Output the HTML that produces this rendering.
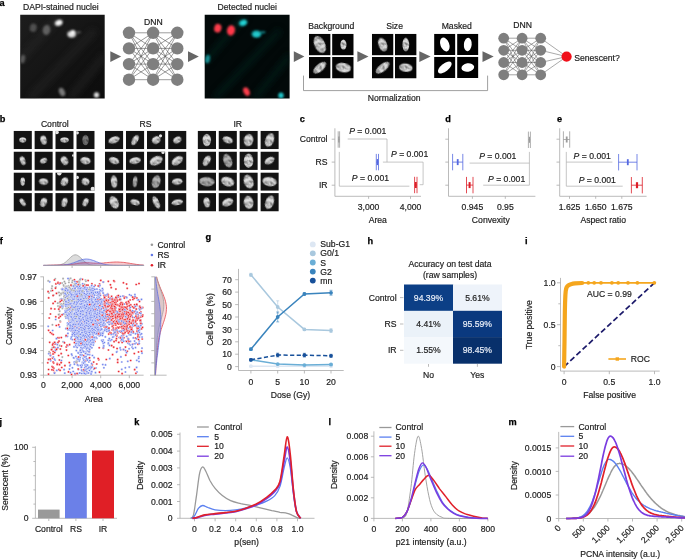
<!DOCTYPE html>
<html><head><meta charset="utf-8"><title>Figure</title>
<style>
html,body{margin:0;padding:0;background:#fff}
svg{display:block}
text{font-family:"Liberation Sans",sans-serif;font-size:8.65px;fill:#1c1c1c;stroke:#1c1c1c;stroke-width:.18px}
.pl{font-weight:bold;font-size:9.2px;fill:#000;stroke:#000;stroke-width:.25px}
.ax{stroke:#aaa;stroke-width:.8;fill:none}
.br{stroke:#adadad;stroke-width:.7;fill:none}
.roc{stroke:#f5a61d;stroke-width:1.6}
.sg circle{r:1.1px;fill:#9c9c9c;stroke:#fff;stroke-width:.4}
.sb circle{r:1.1px;fill:#6f82ec;stroke:#fff;stroke-width:.4}
.sr circle{r:1.1px;fill:#ea2029;stroke:#fff;stroke-width:.4}
</style></head><body>
<svg width="685" height="560" viewBox="0 0 685 560">
<defs>
<filter id="bl1" x="-50%" y="-50%" width="200%" height="200%"><feGaussianBlur stdDeviation="0.9"/></filter>
<filter id="bl0" x="-30%" y="-30%" width="160%" height="160%"><feGaussianBlur stdDeviation="0.55"/></filter>
<filter id="bl2" x="-50%" y="-50%" width="200%" height="200%"><feGaussianBlur stdDeviation="3"/></filter>
<filter id="tx" x="-30%" y="-30%" width="160%" height="160%" color-interpolation-filters="sRGB"><feTurbulence type="fractalNoise" baseFrequency="0.32" numOctaves="2" seed="5" result="n"/><feColorMatrix in="n" type="matrix" values="1.0 0 0 0 0.36 1.0 0 0 0 0.36 1.0 0 0 0 0.36 0 0 0 0 1" result="g"/><feComposite in="SourceGraphic" in2="g" operator="arithmetic" k1="1" k2="0" k3="0" k4="0"/><feGaussianBlur stdDeviation="0.5"/></filter>
<linearGradient id="dbg" x1="0" y1="0" x2="1" y2="1"><stop offset="0" stop-color="#1d1d1d"/><stop offset="1" stop-color="#0c0c0c"/></linearGradient>
<radialGradient id="nuc"><stop offset="0" stop-color="#e6e6e6"/><stop offset="0.8" stop-color="#d6d6d6"/><stop offset="1" stop-color="#a0a0a0"/></radialGradient>
</defs>
<rect width="685" height="560" fill="#fff"/>
<text x="-0.5" y="5.5" class="pl">a</text>
<text x="-0.3" y="122.3" class="pl">b</text>
<text x="299.7" y="121.6" class="pl">c</text>
<text x="445.2" y="121.6" class="pl">d</text>
<text x="557" y="121.6" class="pl">e</text>
<text x="-0.3" y="244" class="pl">f</text>
<text x="205.5" y="240" class="pl">g</text>
<text x="367.5" y="244" class="pl">h</text>
<text x="525" y="244.4" class="pl">i</text>
<text x="-0.5" y="424.5" class="pl">j</text>
<text x="134.3" y="424.5" class="pl">k</text>
<text x="328.5" y="424.8" class="pl">l</text>
<text x="508.6" y="424.8" class="pl">m</text>
<text x="60.8" y="10.4" text-anchor="middle">DAPI-stained nuclei</text>
<svg x="20.2" y="14.8" width="84.5" height="83.6" viewBox="20.2 14.8 84.5 83.6">
<rect x="20" y="14" width="86" height="86" fill="url(#dbg)"/>
<g filter="url(#bl2)" opacity="0.5"><path d="M20 60L60 15M30 98L95 30M70 98L105 55" stroke="#2a2a2a" stroke-width="7" fill="none"/></g>
<g filter="url(#bl1)">
<ellipse cx="33.3" cy="27.8" rx="3.4" ry="4.2" fill="#505050" transform="rotate(15 33.3 27.8)"/>
<ellipse cx="46.5" cy="30" rx="3.8" ry="5" fill="#606060" transform="rotate(10 46.5 30)"/>
<ellipse cx="58.5" cy="22.8" rx="5" ry="3.6" fill="#444" transform="rotate(-20 58.5 22.8)"/>
<ellipse cx="58.8" cy="22.8" rx="3.4" ry="2.5" fill="#f8f8f8" transform="rotate(-20 58.8 22.8)"/>
<ellipse cx="72" cy="34" rx="5.5" ry="4" fill="#444"/>
<ellipse cx="71.5" cy="34.4" rx="3.6" ry="2.8" fill="#e0e0e0"/>
<ellipse cx="73" cy="32" rx="1.9" ry="1.9" fill="#fff"/>
<ellipse cx="78.5" cy="32.3" rx="2.8" ry="1.1" fill="#5a5a5a"/>
<ellipse cx="22.7" cy="59" rx="2.4" ry="4.4" fill="#585858" transform="rotate(10 22.7 59)"/>
<ellipse cx="62" cy="92" rx="2.8" ry="4.4" fill="#7a7a7a" transform="rotate(-25 62 92)"/>
<ellipse cx="96.5" cy="95" rx="2.6" ry="2.8" fill="#e0e0e0"/>
</g></svg>
<path d="M110.3 51.2 L121.2 56.6 L110.3 62 Z" fill="#666"/>
<text x="153.3" y="25" text-anchor="middle">DNN</text>
<path d="M129 32.8L153.1 32.8M129 32.8L153.1 48.4M129 32.8L153.1 64.1M129 32.8L153.1 79.7M129 48.4L153.1 32.8M129 48.4L153.1 48.4M129 48.4L153.1 64.1M129 48.4L153.1 79.7M129 64.1L153.1 32.8M129 64.1L153.1 48.4M129 64.1L153.1 64.1M129 64.1L153.1 79.7M129 79.7L153.1 32.8M129 79.7L153.1 48.4M129 79.7L153.1 64.1M129 79.7L153.1 79.7M153.1 32.8L177.3 32.8M153.1 32.8L177.3 48.4M153.1 32.8L177.3 64.1M153.1 32.8L177.3 79.7M153.1 48.4L177.3 32.8M153.1 48.4L177.3 48.4M153.1 48.4L177.3 64.1M153.1 48.4L177.3 79.7M153.1 64.1L177.3 32.8M153.1 64.1L177.3 48.4M153.1 64.1L177.3 64.1M153.1 64.1L177.3 79.7M153.1 79.7L177.3 32.8M153.1 79.7L177.3 48.4M153.1 79.7L177.3 64.1M153.1 79.7L177.3 79.7" stroke="#4a4a4a" stroke-width="0.55" fill="none"/>
<circle cx="129" cy="32.8" r="6.2" fill="#7f7f7f"/>
<circle cx="129" cy="48.4" r="6.2" fill="#7f7f7f"/>
<circle cx="129" cy="64.1" r="6.2" fill="#7f7f7f"/>
<circle cx="129" cy="79.7" r="6.2" fill="#7f7f7f"/>
<circle cx="153.1" cy="32.8" r="6.2" fill="#7f7f7f"/>
<circle cx="153.1" cy="48.4" r="6.2" fill="#7f7f7f"/>
<circle cx="153.1" cy="64.1" r="6.2" fill="#7f7f7f"/>
<circle cx="153.1" cy="79.7" r="6.2" fill="#7f7f7f"/>
<circle cx="177.3" cy="32.8" r="6.2" fill="#7f7f7f"/>
<circle cx="177.3" cy="48.4" r="6.2" fill="#7f7f7f"/>
<circle cx="177.3" cy="64.1" r="6.2" fill="#7f7f7f"/>
<circle cx="177.3" cy="79.7" r="6.2" fill="#7f7f7f"/>
<path d="M188 51.2 L198.8 56.6 L188 62 Z" fill="#666"/>
<text x="247.2" y="10.4" text-anchor="middle">Detected nuclei</text>
<svg x="204.7" y="14.8" width="84.9" height="83.6" viewBox="204.7 14.8 84.9 83.6">
<rect x="204" y="14" width="87" height="86" fill="#020909"/>
<g filter="url(#bl2)" opacity="0.6"><path d="M205 62L245 15M215 98L280 30M255 98L290 55" stroke="#06201f" stroke-width="7" fill="none"/></g>
<g filter="url(#bl1)">
<ellipse cx="217.8" cy="28.2" rx="3.6" ry="4.4" fill="#fa3e4c" transform="rotate(15 217.8 28.2)"/>
<ellipse cx="231" cy="30.4" rx="4" ry="5.3" fill="#ff384a" transform="rotate(10 231 30.4)"/>
<ellipse cx="243" cy="22.8" rx="5" ry="3.6" fill="#0c5a5c" transform="rotate(-20 243 22.8)"/>
<ellipse cx="243.3" cy="22.8" rx="3.4" ry="2.5" fill="#24d4d6" transform="rotate(-20 243.3 22.8)"/>
<ellipse cx="256.5" cy="34" rx="5.5" ry="4" fill="#0c5a5c"/>
<ellipse cx="256.5" cy="34.2" rx="3.8" ry="2.9" fill="#20c8cc"/>
<ellipse cx="263" cy="32.3" rx="2.8" ry="1.1" fill="#118a8e"/>
<ellipse cx="207.6" cy="59" rx="2.4" ry="4.3" fill="#128e92" transform="rotate(10 207.6 59)"/>
<ellipse cx="246.5" cy="91.6" rx="3" ry="4.6" fill="#fa3e4c" transform="rotate(-25 246.5 91.6)"/>
<ellipse cx="281" cy="95.5" rx="2.7" ry="2.9" fill="#20c6ca"/>
</g></svg>
<path d="M293.8 51.2 L304.4 56.6 L293.8 62 Z" fill="#666"/>
<text x="331.3" y="29.1" text-anchor="middle">Background</text>
<svg x="309" y="33.8" width="21.6" height="21.6">
<rect width="21.6" height="21.6" fill="#050505"/>
<ellipse cx="10.8" cy="10.8" rx="5.4" ry="9.2" fill="url(#nuc)" transform="rotate(-25 10.8 10.8)" filter="url(#tx)"/>
</svg>
<svg x="332.1" y="33.8" width="21.6" height="21.6">
<rect width="21.6" height="21.6" fill="#050505"/>
<ellipse cx="11.3" cy="10.8" rx="3.2" ry="5.2" fill="url(#nuc)" transform="rotate(0 11.3 10.8)" filter="url(#tx)"/>
</svg>
<svg x="309" y="56.9" width="21.6" height="21.6">
<rect width="21.6" height="21.6" fill="#050505"/>
<ellipse cx="10.8" cy="10.8" rx="3.8" ry="8" fill="url(#nuc)" transform="rotate(50 10.8 10.8)" filter="url(#tx)"/>
</svg>
<svg x="332.1" y="56.9" width="21.6" height="21.6">
<rect width="21.6" height="21.6" fill="#050505"/>
<ellipse cx="11.3" cy="10.8" rx="7.8" ry="4.9" fill="url(#nuc)" transform="rotate(10 11.3 10.8)" filter="url(#tx)"/>
</svg>
<path d="M357.4 51.2 L368.5 56.6 L357.4 62 Z" fill="#666"/>
<text x="394.6" y="29.1" text-anchor="middle">Size</text>
<svg x="371.9" y="33.8" width="21.6" height="21.6">
<rect width="21.6" height="21.6" fill="#050505"/>
<ellipse cx="10.8" cy="10.8" rx="4.3" ry="7.2" fill="url(#nuc)" transform="rotate(-20 10.8 10.8)" filter="url(#tx)"/>
</svg>
<svg x="395" y="33.8" width="21.6" height="21.6">
<rect width="21.6" height="21.6" fill="#050505"/>
<ellipse cx="10.8" cy="10.8" rx="3.5" ry="7" fill="url(#nuc)" transform="rotate(0 10.8 10.8)" filter="url(#tx)"/>
</svg>
<svg x="371.9" y="56.9" width="21.6" height="21.6">
<rect width="21.6" height="21.6" fill="#050505"/>
<ellipse cx="10.8" cy="10.8" rx="3.8" ry="8.4" fill="url(#nuc)" transform="rotate(52 10.8 10.8)" filter="url(#tx)"/>
</svg>
<svg x="395" y="56.9" width="21.6" height="21.6">
<rect width="21.6" height="21.6" fill="#050505"/>
<ellipse cx="10.8" cy="10.8" rx="6.9" ry="4.3" fill="url(#nuc)" transform="rotate(6 10.8 10.8)" filter="url(#tx)"/>
</svg>
<path d="M419.3 51.2 L430.6 56.6 L419.3 62 Z" fill="#666"/>
<text x="456.8" y="29.1" text-anchor="middle">Masked</text>
<svg x="434.1" y="33.8" width="21.3" height="21.3">
<rect width="21.3" height="21.3" fill="#000"/>
<ellipse cx="10.7" cy="10.7" rx="4.4" ry="7.2" fill="#fff" transform="rotate(-20 10.7 10.7)"/>
</svg>
<svg x="457.1" y="33.8" width="21.3" height="21.3">
<rect width="21.3" height="21.3" fill="#000"/>
<ellipse cx="10.7" cy="10.7" rx="3.9" ry="6.8" fill="#fff" transform="rotate(5 10.7 10.7)"/>
</svg>
<svg x="434.1" y="56.8" width="21.3" height="21.3">
<rect width="21.3" height="21.3" fill="#000"/>
<ellipse cx="10.7" cy="10.7" rx="3.9" ry="8.2" fill="#fff" transform="rotate(52 10.7 10.7)"/>
</svg>
<svg x="457.1" y="56.8" width="21.3" height="21.3">
<rect width="21.3" height="21.3" fill="#000"/>
<ellipse cx="10.7" cy="10.7" rx="6.4" ry="4.2" fill="#fff" transform="rotate(-8 10.7 10.7)"/>
</svg>
<path d="M482.5 51.2 L493.7 56.6 L482.5 62 Z" fill="#666"/>
<path d="M303.5 75.6V90.6H487.6V75.6" stroke="#888" stroke-width="0.8" fill="none"/>
<text x="394.2" y="101.3" text-anchor="middle">Normalization</text>
<text x="522.6" y="28.4" text-anchor="middle">DNN</text>
<path d="M540.7 38.2L566.6 56.6M540.7 50.3L566.6 56.6M540.7 62.5L566.6 56.6M540.7 74.8L566.6 56.6" stroke="#555" stroke-width="0.5" fill="none"/>
<path d="M503.7 38.2L522.1 38.2M503.7 38.2L522.1 50.3M503.7 38.2L522.1 62.5M503.7 38.2L522.1 74.8M503.7 50.3L522.1 38.2M503.7 50.3L522.1 50.3M503.7 50.3L522.1 62.5M503.7 50.3L522.1 74.8M503.7 62.5L522.1 38.2M503.7 62.5L522.1 50.3M503.7 62.5L522.1 62.5M503.7 62.5L522.1 74.8M503.7 74.8L522.1 38.2M503.7 74.8L522.1 50.3M503.7 74.8L522.1 62.5M503.7 74.8L522.1 74.8M522.1 38.2L540.7 38.2M522.1 38.2L540.7 50.3M522.1 38.2L540.7 62.5M522.1 38.2L540.7 74.8M522.1 50.3L540.7 38.2M522.1 50.3L540.7 50.3M522.1 50.3L540.7 62.5M522.1 50.3L540.7 74.8M522.1 62.5L540.7 38.2M522.1 62.5L540.7 50.3M522.1 62.5L540.7 62.5M522.1 62.5L540.7 74.8M522.1 74.8L540.7 38.2M522.1 74.8L540.7 50.3M522.1 74.8L540.7 62.5M522.1 74.8L540.7 74.8" stroke="#4a4a4a" stroke-width="0.5" fill="none"/>
<circle cx="503.7" cy="38.2" r="5.4" fill="#7f7f7f"/>
<circle cx="503.7" cy="50.3" r="5.4" fill="#7f7f7f"/>
<circle cx="503.7" cy="62.5" r="5.4" fill="#7f7f7f"/>
<circle cx="503.7" cy="74.8" r="5.4" fill="#7f7f7f"/>
<circle cx="522.1" cy="38.2" r="5.4" fill="#7f7f7f"/>
<circle cx="522.1" cy="50.3" r="5.4" fill="#7f7f7f"/>
<circle cx="522.1" cy="62.5" r="5.4" fill="#7f7f7f"/>
<circle cx="522.1" cy="74.8" r="5.4" fill="#7f7f7f"/>
<circle cx="540.7" cy="38.2" r="5.4" fill="#7f7f7f"/>
<circle cx="540.7" cy="50.3" r="5.4" fill="#7f7f7f"/>
<circle cx="540.7" cy="62.5" r="5.4" fill="#7f7f7f"/>
<circle cx="540.7" cy="74.8" r="5.4" fill="#7f7f7f"/>
<circle cx="566.6" cy="56.6" r="5.1" fill="#f0101a"/>
<text x="574.2" y="60.7">Senescent?</text>
<text x="54.8" y="126.6" text-anchor="middle">Control</text>
<svg x="13.5" y="130.8" width="18.4" height="18.4">
<rect width="18.4" height="18.4" fill="#131313"/>
<ellipse cx="9.2" cy="9.2" rx="3.6" ry="2.8" fill="url(#nuc)" transform="rotate(0 9.2 9.2)" filter="url(#tx)"/>
</svg>
<svg x="34.4" y="130.8" width="18.4" height="18.4">
<rect width="18.4" height="18.4" fill="#131313"/>
<ellipse cx="9.2" cy="9.2" rx="3.2" ry="4.8" fill="url(#nuc)" transform="rotate(-15 9.2 9.2)" filter="url(#tx)"/>
</svg>
<svg x="55.3" y="130.8" width="18.4" height="18.4">
<rect width="18.4" height="18.4" fill="#131313"/>
<ellipse cx="9.2" cy="9.2" rx="4.4" ry="2.8" fill="url(#nuc)" transform="rotate(0 9.2 9.2)" filter="url(#tx)"/>
<circle cx="1.5" cy="1.5" r="2" fill="#e4e4e4" filter="url(#bl0)"/>
</svg>
<svg x="76.3" y="130.8" width="18.4" height="18.4">
<rect width="18.4" height="18.4" fill="#131313"/>
<ellipse cx="9.2" cy="9.2" rx="3.3" ry="5.2" fill="url(#nuc)" transform="rotate(0 9.2 9.2)" filter="url(#tx)" opacity="0.5"/>
<circle cx="1" cy="2" r="1.6" fill="#e4e4e4" filter="url(#bl0)"/>
</svg>
<svg x="13.5" y="151.5" width="18.4" height="18.4">
<rect width="18.4" height="18.4" fill="#131313"/>
<ellipse cx="9.2" cy="9.2" rx="2.7" ry="4.6" fill="url(#nuc)" transform="rotate(-20 9.2 9.2)" filter="url(#tx)"/>
</svg>
<svg x="34.4" y="151.5" width="18.4" height="18.4">
<rect width="18.4" height="18.4" fill="#131313"/>
<ellipse cx="9.2" cy="9.2" rx="3.7" ry="2.7" fill="url(#nuc)" transform="rotate(-25 9.2 9.2)" filter="url(#tx)"/>
</svg>
<svg x="55.3" y="151.5" width="18.4" height="18.4">
<rect width="18.4" height="18.4" fill="#131313"/>
<ellipse cx="9.2" cy="9.2" rx="3.5" ry="4.6" fill="url(#nuc)" transform="rotate(-30 9.2 9.2)" filter="url(#tx)"/>
<circle cx="18" cy="4" r="1.3" fill="#e4e4e4" filter="url(#bl0)"/>
</svg>
<svg x="76.3" y="151.5" width="18.4" height="18.4">
<rect width="18.4" height="18.4" fill="#131313"/>
<ellipse cx="9.2" cy="9.2" rx="5.2" ry="3.7" fill="url(#nuc)" transform="rotate(10 9.2 9.2)" filter="url(#tx)"/>
</svg>
<svg x="13.5" y="172.4" width="18.4" height="18.4">
<rect width="18.4" height="18.4" fill="#131313"/>
<ellipse cx="9.2" cy="9.2" rx="2.4" ry="4.4" fill="url(#nuc)" transform="rotate(0 9.2 9.2)" filter="url(#tx)"/>
</svg>
<svg x="34.4" y="172.4" width="18.4" height="18.4">
<rect width="18.4" height="18.4" fill="#131313"/>
<ellipse cx="9.2" cy="9.2" rx="4.6" ry="3.3" fill="url(#nuc)" transform="rotate(5 9.2 9.2)" filter="url(#tx)"/>
</svg>
<svg x="55.3" y="172.4" width="18.4" height="18.4">
<rect width="18.4" height="18.4" fill="#131313"/>
<ellipse cx="9.2" cy="9.2" rx="3.6" ry="4.6" fill="url(#nuc)" transform="rotate(30 9.2 9.2)" filter="url(#tx)"/>
<circle cx="4" cy="0.8" r="2.2" fill="#e4e4e4" filter="url(#bl0)"/>
</svg>
<svg x="76.3" y="172.4" width="18.4" height="18.4">
<rect width="18.4" height="18.4" fill="#131313"/>
<ellipse cx="9.2" cy="9.2" rx="4" ry="3.6" fill="url(#nuc)" transform="rotate(25 9.2 9.2)" filter="url(#tx)"/>
<circle cx="1" cy="5" r="1.6" fill="#e4e4e4" filter="url(#bl0)"/>
<circle cx="16.5" cy="16.5" r="2.2" fill="#e4e4e4" filter="url(#bl0)"/>
</svg>
<svg x="13.5" y="193.1" width="18.4" height="18.4">
<rect width="18.4" height="18.4" fill="#131313"/>
<ellipse cx="9.2" cy="9.2" rx="2.3" ry="4.4" fill="url(#nuc)" transform="rotate(-35 9.2 9.2)" filter="url(#tx)"/>
</svg>
<svg x="34.4" y="193.1" width="18.4" height="18.4">
<rect width="18.4" height="18.4" fill="#131313"/>
<ellipse cx="9.2" cy="9.2" rx="3.3" ry="4.8" fill="url(#nuc)" transform="rotate(20 9.2 9.2)" filter="url(#tx)"/>
</svg>
<svg x="55.3" y="193.1" width="18.4" height="18.4">
<rect width="18.4" height="18.4" fill="#131313"/>
<ellipse cx="9.2" cy="9.2" rx="2.9" ry="4.8" fill="url(#nuc)" transform="rotate(15 9.2 9.2)" filter="url(#tx)"/>
</svg>
<svg x="76.3" y="193.1" width="18.4" height="18.4">
<rect width="18.4" height="18.4" fill="#131313"/>
<ellipse cx="9.2" cy="9.2" rx="2.7" ry="4.4" fill="url(#nuc)" transform="rotate(25 9.2 9.2)" filter="url(#tx)"/>
</svg>
<text x="145.5" y="126.6" text-anchor="middle">RS</text>
<svg x="104.9" y="130.8" width="18.4" height="18.4">
<rect width="18.4" height="18.4" fill="#131313"/>
<ellipse cx="9.2" cy="9.2" rx="5.8" ry="3.4" fill="url(#nuc)" transform="rotate(-20 9.2 9.2)" filter="url(#tx)"/>
</svg>
<svg x="125.9" y="130.8" width="18.4" height="18.4">
<rect width="18.4" height="18.4" fill="#131313"/>
<ellipse cx="9.2" cy="9.2" rx="2.9" ry="5.8" fill="url(#nuc)" transform="rotate(30 9.2 9.2)" filter="url(#tx)"/>
</svg>
<svg x="147" y="130.8" width="18.4" height="18.4">
<rect width="18.4" height="18.4" fill="#131313"/>
<ellipse cx="9.2" cy="9.2" rx="4.4" ry="3.8" fill="url(#nuc)" transform="rotate(-30 9.2 9.2)" filter="url(#tx)"/>
<circle cx="13.5" cy="5" r="1.6" fill="#e4e4e4" filter="url(#bl0)"/>
</svg>
<svg x="168.1" y="130.8" width="18.4" height="18.4">
<rect width="18.4" height="18.4" fill="#131313"/>
<ellipse cx="9.2" cy="9.2" rx="4.3" ry="3.3" fill="url(#nuc)" transform="rotate(-30 9.2 9.2)" filter="url(#tx)"/>
</svg>
<svg x="104.9" y="151.5" width="18.4" height="18.4">
<rect width="18.4" height="18.4" fill="#131313"/>
<ellipse cx="9.2" cy="9.2" rx="5.3" ry="3.4" fill="url(#nuc)" transform="rotate(20 9.2 9.2)" filter="url(#tx)"/>
</svg>
<svg x="125.9" y="151.5" width="18.4" height="18.4">
<rect width="18.4" height="18.4" fill="#131313"/>
<ellipse cx="9.2" cy="9.2" rx="5.8" ry="3.4" fill="url(#nuc)" transform="rotate(-10 9.2 9.2)" filter="url(#tx)"/>
</svg>
<svg x="147" y="151.5" width="18.4" height="18.4">
<rect width="18.4" height="18.4" fill="#131313"/>
<ellipse cx="9.2" cy="9.2" rx="6.8" ry="4.4" fill="url(#nuc)" transform="rotate(-25 9.2 9.2)" filter="url(#tx)"/>
<circle cx="16" cy="1" r="1.6" fill="#e4e4e4" filter="url(#bl0)"/>
</svg>
<svg x="168.1" y="151.5" width="18.4" height="18.4">
<rect width="18.4" height="18.4" fill="#131313"/>
<ellipse cx="9.2" cy="9.2" rx="6.3" ry="3.9" fill="url(#nuc)" transform="rotate(-35 9.2 9.2)" filter="url(#tx)"/>
</svg>
<svg x="104.9" y="172.4" width="18.4" height="18.4">
<rect width="18.4" height="18.4" fill="#131313"/>
<ellipse cx="9.2" cy="9.2" rx="3.3" ry="6.4" fill="url(#nuc)" transform="rotate(-5 9.2 9.2)" filter="url(#tx)"/>
</svg>
<svg x="125.9" y="172.4" width="18.4" height="18.4">
<rect width="18.4" height="18.4" fill="#131313"/>
<ellipse cx="9.2" cy="9.2" rx="2.4" ry="5.8" fill="url(#nuc)" transform="rotate(5 9.2 9.2)" filter="url(#tx)" opacity="0.8"/>
</svg>
<svg x="147" y="172.4" width="18.4" height="18.4">
<rect width="18.4" height="18.4" fill="#131313"/>
<ellipse cx="9.2" cy="9.2" rx="4.3" ry="6.8" fill="url(#nuc)" transform="rotate(15 9.2 9.2)" filter="url(#tx)" opacity="0.8"/>
</svg>
<svg x="168.1" y="172.4" width="18.4" height="18.4">
<rect width="18.4" height="18.4" fill="#131313"/>
<ellipse cx="9.2" cy="9.2" rx="5.3" ry="3.3" fill="url(#nuc)" transform="rotate(-5 9.2 9.2)" filter="url(#tx)"/>
</svg>
<svg x="104.9" y="193.1" width="18.4" height="18.4">
<rect width="18.4" height="18.4" fill="#131313"/>
<ellipse cx="9.2" cy="9.2" rx="4.3" ry="6.8" fill="url(#nuc)" transform="rotate(-25 9.2 9.2)" filter="url(#tx)"/>
</svg>
<svg x="125.9" y="193.1" width="18.4" height="18.4">
<rect width="18.4" height="18.4" fill="#131313"/>
<ellipse cx="9.2" cy="9.2" rx="4.8" ry="2.9" fill="url(#nuc)" transform="rotate(15 9.2 9.2)" filter="url(#tx)"/>
</svg>
<svg x="147" y="193.1" width="18.4" height="18.4">
<rect width="18.4" height="18.4" fill="#131313"/>
<ellipse cx="9.2" cy="9.2" rx="2.9" ry="6.8" fill="url(#nuc)" transform="rotate(-25 9.2 9.2)" filter="url(#tx)"/>
</svg>
<svg x="168.1" y="193.1" width="18.4" height="18.4">
<rect width="18.4" height="18.4" fill="#131313"/>
<ellipse cx="9.2" cy="9.2" rx="5.8" ry="2.9" fill="url(#nuc)" transform="rotate(-10 9.2 9.2)" filter="url(#tx)"/>
</svg>
<text x="237.7" y="126.6" text-anchor="middle">IR</text>
<svg x="197.6" y="130.8" width="18.4" height="18.4">
<rect width="18.4" height="18.4" fill="#131313"/>
<ellipse cx="9.2" cy="9.2" rx="4.3" ry="6.3" fill="url(#nuc)" transform="rotate(0 9.2 9.2)" filter="url(#tx)"/>
</svg>
<svg x="218.5" y="130.8" width="18.4" height="18.4">
<rect width="18.4" height="18.4" fill="#131313"/>
<ellipse cx="9.2" cy="9.2" rx="5.3" ry="3.4" fill="url(#nuc)" transform="rotate(20 9.2 9.2)" filter="url(#tx)"/>
</svg>
<svg x="239.4" y="130.8" width="18.4" height="18.4">
<rect width="18.4" height="18.4" fill="#131313"/>
<ellipse cx="9.2" cy="9.2" rx="4.8" ry="6.3" fill="url(#nuc)" transform="rotate(10 9.2 9.2)" filter="url(#tx)"/>
</svg>
<svg x="260.4" y="130.8" width="18.4" height="18.4">
<rect width="18.4" height="18.4" fill="#131313"/>
<ellipse cx="9.2" cy="9.2" rx="4.4" ry="7.3" fill="url(#nuc)" transform="rotate(20 9.2 9.2)" filter="url(#tx)"/>
</svg>
<svg x="197.6" y="151.5" width="18.4" height="18.4">
<rect width="18.4" height="18.4" fill="#131313"/>
<ellipse cx="9.2" cy="9.2" rx="3.3" ry="5.8" fill="url(#nuc)" transform="rotate(30 9.2 9.2)" filter="url(#tx)"/>
</svg>
<svg x="218.5" y="151.5" width="18.4" height="18.4">
<rect width="18.4" height="18.4" fill="#131313"/>
<ellipse cx="9.2" cy="9.2" rx="4.3" ry="7.3" fill="url(#nuc)" transform="rotate(-20 9.2 9.2)" filter="url(#tx)" opacity="0.8"/>
</svg>
<svg x="239.4" y="151.5" width="18.4" height="18.4">
<rect width="18.4" height="18.4" fill="#131313"/>
<ellipse cx="9.2" cy="9.2" rx="4.8" ry="7.3" fill="url(#nuc)" transform="rotate(0 9.2 9.2)" filter="url(#tx)"/>
</svg>
<svg x="260.4" y="151.5" width="18.4" height="18.4">
<rect width="18.4" height="18.4" fill="#131313"/>
<ellipse cx="9.2" cy="9.2" rx="5.3" ry="3.4" fill="url(#nuc)" transform="rotate(-30 9.2 9.2)" filter="url(#tx)"/>
</svg>
<svg x="197.6" y="172.4" width="18.4" height="18.4">
<rect width="18.4" height="18.4" fill="#131313"/>
<ellipse cx="9.2" cy="9.2" rx="7.8" ry="4.8" fill="url(#nuc)" transform="rotate(5 9.2 9.2)" filter="url(#tx)" opacity="0.8"/>
</svg>
<svg x="218.5" y="172.4" width="18.4" height="18.4">
<rect width="18.4" height="18.4" fill="#131313"/>
<ellipse cx="9.2" cy="9.2" rx="6.8" ry="4.8" fill="url(#nuc)" transform="rotate(20 9.2 9.2)" filter="url(#tx)"/>
</svg>
<svg x="239.4" y="172.4" width="18.4" height="18.4">
<rect width="18.4" height="18.4" fill="#131313"/>
<ellipse cx="9.2" cy="9.2" rx="4.8" ry="7.3" fill="url(#nuc)" transform="rotate(-20 9.2 9.2)" filter="url(#tx)"/>
</svg>
<svg x="260.4" y="172.4" width="18.4" height="18.4">
<rect width="18.4" height="18.4" fill="#131313"/>
<ellipse cx="9.2" cy="9.2" rx="7.3" ry="4.8" fill="url(#nuc)" transform="rotate(10 9.2 9.2)" filter="url(#tx)"/>
</svg>
<svg x="197.6" y="193.1" width="18.4" height="18.4">
<rect width="18.4" height="18.4" fill="#131313"/>
<ellipse cx="9.2" cy="9.2" rx="3.3" ry="5.3" fill="url(#nuc)" transform="rotate(-10 9.2 9.2)" filter="url(#tx)"/>
</svg>
<svg x="218.5" y="193.1" width="18.4" height="18.4">
<rect width="18.4" height="18.4" fill="#131313"/>
<ellipse cx="9.2" cy="9.2" rx="5.8" ry="3.9" fill="url(#nuc)" transform="rotate(-25 9.2 9.2)" filter="url(#tx)"/>
</svg>
<svg x="239.4" y="193.1" width="18.4" height="18.4">
<rect width="18.4" height="18.4" fill="#131313"/>
<ellipse cx="9.2" cy="9.2" rx="4.8" ry="6.8" fill="url(#nuc)" transform="rotate(-10 9.2 9.2)" filter="url(#tx)"/>
<circle cx="-2.5" cy="5" r="1.6" fill="#e4e4e4" filter="url(#bl0)"/>
</svg>
<svg x="260.4" y="193.1" width="18.4" height="18.4">
<rect width="18.4" height="18.4" fill="#131313"/>
<ellipse cx="9.2" cy="9.2" rx="4.3" ry="7.3" fill="url(#nuc)" transform="rotate(20 9.2 9.2)" filter="url(#tx)"/>
</svg>
<path d="M334.9 128.3V196.3H421" class="ax"/>
<line x1="331.7" y1="139.2" x2="334.9" y2="139.2" class="ax"/>
<line x1="331.7" y1="162.1" x2="334.9" y2="162.1" class="ax"/>
<line x1="331.7" y1="185.2" x2="334.9" y2="185.2" class="ax"/>
<line x1="368.6" y1="196.3" x2="368.6" y2="198.8" class="ax"/>
<text x="368.6" y="210" text-anchor="middle">3,000</text>
<line x1="410.5" y1="196.3" x2="410.5" y2="198.8" class="ax"/>
<text x="410.5" y="210" text-anchor="middle">4,000</text>
<text x="377.8" y="223.4" text-anchor="middle">Area</text>
<text x="327.5" y="142.2" text-anchor="end">Control</text>
<text x="327.5" y="165.1" text-anchor="end">RS</text>
<text x="327.5" y="188.2" text-anchor="end">IR</text>
<path d="M347.7 139H387V162.1M382.9 162.1H423.1V184.7H419.7M339.3 151.9V186.2H409.4" class="br"/>
<path d="M338.2 139.5H339.6M338.2 131.3V147.7M339.6 131.3V147.7" stroke="#9a9a9a" stroke-width="0.8" fill="none"/>
<rect x="338.2" y="136.5" width="1.4" height="6" fill="#9a9a9a"/>
<path d="M376.3 162.1H378.5M376.3 153.9V170.3M378.5 153.9V170.3" stroke="#5468e0" stroke-width="0.8" fill="none"/>
<rect x="376.6" y="159.1" width="1.6" height="6" fill="#5468e0"/>
<path d="M414.6 185H417M414.6 176.8V193.2M417 176.8V193.2" stroke="#dc1e28" stroke-width="0.8" fill="none"/>
<rect x="414.8" y="182" width="2" height="6" fill="#dc1e28"/>
<text x="349.2" y="133.5"><tspan font-style="italic">P</tspan> = 0.001</text>
<text x="391" y="156.6"><tspan font-style="italic">P</tspan> = 0.001</text>
<text x="351.8" y="180.5"><tspan font-style="italic">P</tspan> = 0.001</text>
<path d="M448.5 128.3V196.3H535.4" class="ax"/>
<line x1="445.3" y1="139.2" x2="448.5" y2="139.2" class="ax"/>
<line x1="445.3" y1="162.1" x2="448.5" y2="162.1" class="ax"/>
<line x1="445.3" y1="185.2" x2="448.5" y2="185.2" class="ax"/>
<line x1="472.4" y1="196.3" x2="472.4" y2="198.8" class="ax"/>
<text x="472.4" y="210" text-anchor="middle">0.945</text>
<line x1="505.3" y1="196.3" x2="505.3" y2="198.8" class="ax"/>
<text x="505.3" y="210" text-anchor="middle">0.95</text>
<text x="490.8" y="223.4" text-anchor="middle">Convexity</text>
<path d="M469.6 163.1H529.4M529.4 151.9V185.2H483.2" class="br"/>
<path d="M528.4 139.8H530.4M528.4 131.6V148M530.4 131.6V148" stroke="#9a9a9a" stroke-width="0.8" fill="none"/>
<rect x="528.8" y="136.8" width="1.2" height="6" fill="#9a9a9a"/>
<path d="M452.6 162.1H462.8M452.6 153.9V170.3M462.8 153.9V170.3" stroke="#5468e0" stroke-width="0.8" fill="none"/>
<rect x="456.8" y="159.1" width="1.8" height="6" fill="#5468e0"/>
<path d="M466.5 185.1H473M466.5 176.9V193.3M473 176.9V193.3" stroke="#dc1e28" stroke-width="0.8" fill="none"/>
<rect x="468.6" y="182.1" width="2" height="6" fill="#dc1e28"/>
<text x="479.2" y="158.6"><tspan font-style="italic">P</tspan> = 0.001</text>
<text x="488" y="181.5"><tspan font-style="italic">P</tspan> = 0.001</text>
<path d="M559.7 128.3V196.3H646.6" class="ax"/>
<line x1="556.5" y1="139.2" x2="559.7" y2="139.2" class="ax"/>
<line x1="556.5" y1="162.1" x2="559.7" y2="162.1" class="ax"/>
<line x1="556.5" y1="185.2" x2="559.7" y2="185.2" class="ax"/>
<line x1="569.5" y1="196.3" x2="569.5" y2="198.8" class="ax"/>
<text x="569.5" y="210" text-anchor="middle">1.625</text>
<line x1="595.7" y1="196.3" x2="595.7" y2="198.8" class="ax"/>
<text x="595.7" y="210" text-anchor="middle">1.650</text>
<line x1="621.8" y1="196.3" x2="621.8" y2="198.8" class="ax"/>
<text x="621.8" y="210" text-anchor="middle">1.675</text>
<text x="603.2" y="223.4" text-anchor="middle">Aspect ratio</text>
<path d="M566.3 151.9V186.2H622.7M566.3 162.1H612.4" class="br"/>
<path d="M563.4 139.5H569.7M563.4 131.3V147.7M569.7 131.3V147.7" stroke="#9a9a9a" stroke-width="0.8" fill="none"/>
<rect x="565.8" y="136.5" width="1.8" height="6" fill="#9a9a9a"/>
<path d="M618.6 162.2H637M618.6 154V170.4M637 154V170.4" stroke="#5468e0" stroke-width="0.8" fill="none"/>
<rect x="626.9" y="159.2" width="1.8" height="6" fill="#5468e0"/>
<path d="M631.4 185.2H642.3M631.4 177V193.4M642.3 177V193.4" stroke="#dc1e28" stroke-width="0.8" fill="none"/>
<rect x="635.9" y="182.2" width="2.2" height="6" fill="#dc1e28"/>
<text x="573.6" y="158.6"><tspan font-style="italic">P</tspan> = 0.001</text>
<text x="578.7" y="182.5"><tspan font-style="italic">P</tspan> = 0.001</text>
<path d="M43.5 265.4 C43.7 265.4 44.5 265.4 44.9 265.4 C45.4 265.4 45.9 265.4 46.4 265.4 C46.8 265.4 47.3 265.4 47.8 265.4 C48.3 265.4 48.7 265.4 49.2 265.4 C49.7 265.4 50.2 265.4 50.6 265.4 C51.1 265.4 51.6 265.4 52.1 265.4 C52.6 265.4 53 265.4 53.5 265.4 C54 265.4 54.5 265.3 54.9 265.3 C55.4 265.3 55.9 265.3 56.4 265.3 C56.8 265.2 57.3 265.2 57.8 265.1 C58.3 265.1 58.8 265 59.2 264.9 C59.7 264.9 60.2 264.8 60.7 264.6 C61.1 264.5 61.6 264.3 62.1 264.1 C62.6 264 63 263.7 63.5 263.5 C64 263.2 64.5 262.9 65 262.6 C65.4 262.2 65.9 261.8 66.4 261.4 C66.9 261 67.3 260.6 67.8 260.1 C68.3 259.6 68.8 259.2 69.2 258.7 C69.7 258.2 70.2 257.7 70.7 257.3 C71.1 256.9 71.6 256.4 72.1 256.1 C72.6 255.8 73.1 255.4 73.5 255.2 C74 255 74.5 254.9 75 254.8 C75.4 254.8 75.9 254.8 76.4 254.9 C76.9 255 77.3 255.3 77.8 255.5 C78.3 255.8 78.8 256.2 79.2 256.5 C79.7 256.9 80.2 257.4 80.7 257.8 C81.2 258.3 81.6 258.8 82.1 259.3 C82.6 259.7 83.1 260.2 83.5 260.6 C84 261.1 84.5 261.5 85 261.9 C85.4 262.3 85.9 262.6 86.4 262.9 C86.9 263.3 87.4 263.5 87.8 263.8 C88.3 264 88.8 264.2 89.3 264.4 C89.7 264.5 90.2 264.7 90.7 264.8 C91.2 264.9 91.6 265 92.1 265 C92.6 265.1 93.1 265.2 93.6 265.2 C94 265.2 94.5 265.3 95 265.3 C95.5 265.3 95.9 265.3 96.4 265.3 C96.9 265.4 97.4 265.4 97.8 265.4 C98.3 265.4 98.8 265.4 99.3 265.4 C99.7 265.4 100.2 265.4 100.7 265.4 C101.2 265.4 101.7 265.4 102.1 265.4 C102.6 265.4 103.1 265.4 103.6 265.4 C104 265.4 104.5 265.4 105 265.4 C105.5 265.4 105.9 265.4 106.4 265.4 C106.9 265.4 107.4 265.4 107.8 265.4 C108.3 265.4 108.8 265.4 109.3 265.4 C109.8 265.4 110.2 265.4 110.7 265.4 C111.2 265.4 111.7 265.4 112.1 265.4 C112.6 265.4 113.1 265.4 113.6 265.4 C114 265.4 114.5 265.4 115 265.4 C115.5 265.4 116 265.4 116.4 265.4 C116.9 265.4 117.4 265.4 117.9 265.4 C118.3 265.4 118.8 265.4 119.3 265.4 C119.8 265.4 120.2 265.4 120.7 265.4 C121.2 265.4 121.7 265.4 122.2 265.4 C122.6 265.4 123.1 265.4 123.6 265.4 C124.1 265.4 124.5 265.4 125 265.4 C125.5 265.4 126 265.4 126.4 265.4 C126.9 265.4 127.4 265.4 127.9 265.4 C128.3 265.4 128.8 265.4 129.3 265.4 C129.8 265.4 130.3 265.4 130.7 265.4 C131.2 265.4 131.7 265.4 132.2 265.4 C132.6 265.4 133.1 265.4 133.6 265.4 C134.1 265.4 134.5 265.4 135 265.4 C135.5 265.4 136 265.4 136.4 265.4 C136.9 265.4 137.4 265.4 137.9 265.4 C138.4 265.4 138.8 265.4 139.3 265.4 C139.8 265.4 140.3 265.4 140.7 265.4 C141.2 265.4 141.7 265.4 142.2 265.4 C142.6 265.4 143.4 265.4 143.6 265.4 L143.6 265.4 L43.5 265.4 Z" fill="#9a9a9a" fill-opacity="0.35" stroke="none"/>
<path d="M43.5 265.4 C43.7 265.4 44.5 265.4 44.9 265.4 C45.4 265.4 45.9 265.4 46.4 265.4 C46.8 265.4 47.3 265.4 47.8 265.4 C48.3 265.4 48.7 265.4 49.2 265.4 C49.7 265.4 50.2 265.4 50.6 265.4 C51.1 265.4 51.6 265.4 52.1 265.4 C52.6 265.4 53 265.4 53.5 265.4 C54 265.4 54.5 265.3 54.9 265.3 C55.4 265.3 55.9 265.3 56.4 265.3 C56.8 265.2 57.3 265.2 57.8 265.1 C58.3 265.1 58.8 265 59.2 264.9 C59.7 264.9 60.2 264.8 60.7 264.6 C61.1 264.5 61.6 264.3 62.1 264.1 C62.6 264 63 263.7 63.5 263.5 C64 263.2 64.5 262.9 65 262.6 C65.4 262.2 65.9 261.8 66.4 261.4 C66.9 261 67.3 260.6 67.8 260.1 C68.3 259.6 68.8 259.2 69.2 258.7 C69.7 258.2 70.2 257.7 70.7 257.3 C71.1 256.9 71.6 256.4 72.1 256.1 C72.6 255.8 73.1 255.4 73.5 255.2 C74 255 74.5 254.9 75 254.8 C75.4 254.8 75.9 254.8 76.4 254.9 C76.9 255 77.3 255.3 77.8 255.5 C78.3 255.8 78.8 256.2 79.2 256.5 C79.7 256.9 80.2 257.4 80.7 257.8 C81.2 258.3 81.6 258.8 82.1 259.3 C82.6 259.7 83.1 260.2 83.5 260.6 C84 261.1 84.5 261.5 85 261.9 C85.4 262.3 85.9 262.6 86.4 262.9 C86.9 263.3 87.4 263.5 87.8 263.8 C88.3 264 88.8 264.2 89.3 264.4 C89.7 264.5 90.2 264.7 90.7 264.8 C91.2 264.9 91.6 265 92.1 265 C92.6 265.1 93.1 265.2 93.6 265.2 C94 265.2 94.5 265.3 95 265.3 C95.5 265.3 95.9 265.3 96.4 265.3 C96.9 265.4 97.4 265.4 97.8 265.4 C98.3 265.4 98.8 265.4 99.3 265.4 C99.7 265.4 100.2 265.4 100.7 265.4 C101.2 265.4 101.7 265.4 102.1 265.4 C102.6 265.4 103.1 265.4 103.6 265.4 C104 265.4 104.5 265.4 105 265.4 C105.5 265.4 105.9 265.4 106.4 265.4 C106.9 265.4 107.4 265.4 107.8 265.4 C108.3 265.4 108.8 265.4 109.3 265.4 C109.8 265.4 110.2 265.4 110.7 265.4 C111.2 265.4 111.7 265.4 112.1 265.4 C112.6 265.4 113.1 265.4 113.6 265.4 C114 265.4 114.5 265.4 115 265.4 C115.5 265.4 116 265.4 116.4 265.4 C116.9 265.4 117.4 265.4 117.9 265.4 C118.3 265.4 118.8 265.4 119.3 265.4 C119.8 265.4 120.2 265.4 120.7 265.4 C121.2 265.4 121.7 265.4 122.2 265.4 C122.6 265.4 123.1 265.4 123.6 265.4 C124.1 265.4 124.5 265.4 125 265.4 C125.5 265.4 126 265.4 126.4 265.4 C126.9 265.4 127.4 265.4 127.9 265.4 C128.3 265.4 128.8 265.4 129.3 265.4 C129.8 265.4 130.3 265.4 130.7 265.4 C131.2 265.4 131.7 265.4 132.2 265.4 C132.6 265.4 133.1 265.4 133.6 265.4 C134.1 265.4 134.5 265.4 135 265.4 C135.5 265.4 136 265.4 136.4 265.4 C136.9 265.4 137.4 265.4 137.9 265.4 C138.4 265.4 138.8 265.4 139.3 265.4 C139.8 265.4 140.3 265.4 140.7 265.4 C141.2 265.4 141.7 265.4 142.2 265.4 C142.6 265.4 143.4 265.4 143.6 265.4" fill="none" stroke="#9a9a9a" stroke-width="0.7"/>
<path d="M43.5 265.4 C43.7 265.4 44.5 265.4 44.9 265.4 C45.4 265.4 45.9 265.4 46.4 265.4 C46.8 265.3 47.3 265.3 47.8 265.3 C48.3 265.3 48.7 265.3 49.2 265.2 C49.7 265.2 50.2 265.2 50.6 265.2 C51.1 265.1 51.6 265.1 52.1 265.1 C52.6 265.1 53 265.1 53.5 265.1 C54 265.1 54.5 265 54.9 265 C55.4 265 55.9 265 56.4 265 C56.8 265 57.3 265 57.8 265 C58.3 265 58.8 265 59.2 265 C59.7 265 60.2 265 60.7 264.9 C61.1 264.9 61.6 264.9 62.1 264.9 C62.6 264.9 63 264.9 63.5 264.9 C64 264.9 64.5 264.9 65 264.8 C65.4 264.8 65.9 264.8 66.4 264.8 C66.9 264.7 67.3 264.7 67.8 264.7 C68.3 264.7 68.8 264.6 69.2 264.6 C69.7 264.5 70.2 264.5 70.7 264.4 C71.1 264.4 71.6 264.3 72.1 264.3 C72.6 264.2 73.1 264.2 73.5 264.1 C74 264 74.5 264 75 263.9 C75.4 263.8 75.9 263.7 76.4 263.7 C76.9 263.6 77.3 263.5 77.8 263.4 C78.3 263.4 78.8 263.3 79.2 263.2 C79.7 263.2 80.2 263.1 80.7 263 C81.2 263 81.6 262.9 82.1 262.9 C82.6 262.8 83.1 262.8 83.5 262.8 C84 262.7 84.5 262.7 85 262.7 C85.4 262.7 85.9 262.7 86.4 262.7 C86.9 262.7 87.4 262.7 87.8 262.7 C88.3 262.7 88.8 262.8 89.3 262.8 C89.7 262.8 90.2 262.8 90.7 262.9 C91.2 262.9 91.6 262.9 92.1 263 C92.6 263 93.1 263 93.6 263.1 C94 263.1 94.5 263.1 95 263.2 C95.5 263.2 95.9 263.2 96.4 263.2 C96.9 263.2 97.4 263.2 97.8 263.2 C98.3 263.2 98.8 263.2 99.3 263.2 C99.7 263.2 100.2 263.2 100.7 263.2 C101.2 263.2 101.7 263.1 102.1 263.1 C102.6 263.1 103.1 263 103.6 263 C104 262.9 104.5 262.9 105 262.8 C105.5 262.8 105.9 262.7 106.4 262.7 C106.9 262.6 107.4 262.6 107.8 262.5 C108.3 262.5 108.8 262.4 109.3 262.4 C109.8 262.3 110.2 262.3 110.7 262.3 C111.2 262.2 111.7 262.2 112.1 262.2 C112.6 262.1 113.1 262.1 113.6 262.1 C114 262.1 114.5 262 115 262 C115.5 262 116 262 116.4 262 C116.9 262 117.4 262 117.9 262 C118.3 262 118.8 262.1 119.3 262.1 C119.8 262.1 120.2 262.1 120.7 262.2 C121.2 262.2 121.7 262.2 122.2 262.3 C122.6 262.3 123.1 262.4 123.6 262.4 C124.1 262.5 124.5 262.5 125 262.6 C125.5 262.7 126 262.7 126.4 262.8 C126.9 262.9 127.4 262.9 127.9 263 C128.3 263.1 128.8 263.1 129.3 263.2 C129.8 263.3 130.3 263.4 130.7 263.5 C131.2 263.5 131.7 263.6 132.2 263.7 C132.6 263.8 133.1 263.9 133.6 263.9 C134.1 264 134.5 264.1 135 264.2 C135.5 264.2 136 264.3 136.4 264.4 C136.9 264.5 137.4 264.5 137.9 264.6 C138.4 264.6 138.8 264.7 139.3 264.8 C139.8 264.8 140.3 264.8 140.7 264.9 C141.2 264.9 141.7 265 142.2 265 C142.6 265 143.4 265 143.6 265 L143.6 265.4 L43.5 265.4 Z" fill="#e0303a" fill-opacity="0.25" stroke="none"/>
<path d="M43.5 265.4 C43.7 265.4 44.5 265.4 44.9 265.4 C45.4 265.4 45.9 265.4 46.4 265.4 C46.8 265.3 47.3 265.3 47.8 265.3 C48.3 265.3 48.7 265.3 49.2 265.2 C49.7 265.2 50.2 265.2 50.6 265.2 C51.1 265.1 51.6 265.1 52.1 265.1 C52.6 265.1 53 265.1 53.5 265.1 C54 265.1 54.5 265 54.9 265 C55.4 265 55.9 265 56.4 265 C56.8 265 57.3 265 57.8 265 C58.3 265 58.8 265 59.2 265 C59.7 265 60.2 265 60.7 264.9 C61.1 264.9 61.6 264.9 62.1 264.9 C62.6 264.9 63 264.9 63.5 264.9 C64 264.9 64.5 264.9 65 264.8 C65.4 264.8 65.9 264.8 66.4 264.8 C66.9 264.7 67.3 264.7 67.8 264.7 C68.3 264.7 68.8 264.6 69.2 264.6 C69.7 264.5 70.2 264.5 70.7 264.4 C71.1 264.4 71.6 264.3 72.1 264.3 C72.6 264.2 73.1 264.2 73.5 264.1 C74 264 74.5 264 75 263.9 C75.4 263.8 75.9 263.7 76.4 263.7 C76.9 263.6 77.3 263.5 77.8 263.4 C78.3 263.4 78.8 263.3 79.2 263.2 C79.7 263.2 80.2 263.1 80.7 263 C81.2 263 81.6 262.9 82.1 262.9 C82.6 262.8 83.1 262.8 83.5 262.8 C84 262.7 84.5 262.7 85 262.7 C85.4 262.7 85.9 262.7 86.4 262.7 C86.9 262.7 87.4 262.7 87.8 262.7 C88.3 262.7 88.8 262.8 89.3 262.8 C89.7 262.8 90.2 262.8 90.7 262.9 C91.2 262.9 91.6 262.9 92.1 263 C92.6 263 93.1 263 93.6 263.1 C94 263.1 94.5 263.1 95 263.2 C95.5 263.2 95.9 263.2 96.4 263.2 C96.9 263.2 97.4 263.2 97.8 263.2 C98.3 263.2 98.8 263.2 99.3 263.2 C99.7 263.2 100.2 263.2 100.7 263.2 C101.2 263.2 101.7 263.1 102.1 263.1 C102.6 263.1 103.1 263 103.6 263 C104 262.9 104.5 262.9 105 262.8 C105.5 262.8 105.9 262.7 106.4 262.7 C106.9 262.6 107.4 262.6 107.8 262.5 C108.3 262.5 108.8 262.4 109.3 262.4 C109.8 262.3 110.2 262.3 110.7 262.3 C111.2 262.2 111.7 262.2 112.1 262.2 C112.6 262.1 113.1 262.1 113.6 262.1 C114 262.1 114.5 262 115 262 C115.5 262 116 262 116.4 262 C116.9 262 117.4 262 117.9 262 C118.3 262 118.8 262.1 119.3 262.1 C119.8 262.1 120.2 262.1 120.7 262.2 C121.2 262.2 121.7 262.2 122.2 262.3 C122.6 262.3 123.1 262.4 123.6 262.4 C124.1 262.5 124.5 262.5 125 262.6 C125.5 262.7 126 262.7 126.4 262.8 C126.9 262.9 127.4 262.9 127.9 263 C128.3 263.1 128.8 263.1 129.3 263.2 C129.8 263.3 130.3 263.4 130.7 263.5 C131.2 263.5 131.7 263.6 132.2 263.7 C132.6 263.8 133.1 263.9 133.6 263.9 C134.1 264 134.5 264.1 135 264.2 C135.5 264.2 136 264.3 136.4 264.4 C136.9 264.5 137.4 264.5 137.9 264.6 C138.4 264.6 138.8 264.7 139.3 264.8 C139.8 264.8 140.3 264.8 140.7 264.9 C141.2 264.9 141.7 265 142.2 265 C142.6 265 143.4 265 143.6 265" fill="none" stroke="#e0303a" stroke-width="0.7"/>
<path d="M43.5 265.4 C43.7 265.4 44.5 265.4 44.9 265.4 C45.4 265.4 45.9 265.4 46.4 265.4 C46.8 265.4 47.3 265.4 47.8 265.4 C48.3 265.4 48.7 265.4 49.2 265.4 C49.7 265.4 50.2 265.4 50.6 265.4 C51.1 265.4 51.6 265.4 52.1 265.4 C52.6 265.4 53 265.4 53.5 265.4 C54 265.4 54.5 265.4 54.9 265.4 C55.4 265.4 55.9 265.4 56.4 265.3 C56.8 265.3 57.3 265.3 57.8 265.3 C58.3 265.3 58.8 265.3 59.2 265.3 C59.7 265.3 60.2 265.2 60.7 265.2 C61.1 265.2 61.6 265.2 62.1 265.1 C62.6 265.1 63 265 63.5 265 C64 265 64.5 264.9 65 264.8 C65.4 264.8 65.9 264.7 66.4 264.6 C66.9 264.6 67.3 264.5 67.8 264.4 C68.3 264.3 68.8 264.2 69.2 264.1 C69.7 263.9 70.2 263.8 70.7 263.7 C71.1 263.5 71.6 263.4 72.1 263.2 C72.6 263.1 73.1 262.9 73.5 262.8 C74 262.6 74.5 262.4 75 262.2 C75.4 262 75.9 261.8 76.4 261.7 C76.9 261.5 77.3 261.3 77.8 261.1 C78.3 260.9 78.8 260.7 79.2 260.5 C79.7 260.4 80.2 260.2 80.7 260.1 C81.2 259.9 81.6 259.8 82.1 259.6 C82.6 259.5 83.1 259.4 83.5 259.3 C84 259.2 84.5 259.2 85 259.1 C85.4 259.1 85.9 259 86.4 259 C86.9 259 87.4 259.1 87.8 259.1 C88.3 259.2 88.8 259.2 89.3 259.3 C89.7 259.4 90.2 259.5 90.7 259.6 C91.2 259.8 91.6 259.9 92.1 260.1 C92.6 260.2 93.1 260.4 93.6 260.5 C94 260.7 94.5 260.9 95 261.1 C95.5 261.3 95.9 261.5 96.4 261.7 C96.9 261.8 97.4 262 97.8 262.2 C98.3 262.4 98.8 262.6 99.3 262.8 C99.7 262.9 100.2 263.1 100.7 263.2 C101.2 263.4 101.7 263.5 102.1 263.7 C102.6 263.8 103.1 263.9 103.6 264.1 C104 264.2 104.5 264.3 105 264.4 C105.5 264.5 105.9 264.6 106.4 264.6 C106.9 264.7 107.4 264.8 107.8 264.8 C108.3 264.9 108.8 265 109.3 265 C109.8 265 110.2 265.1 110.7 265.1 C111.2 265.2 111.7 265.2 112.1 265.2 C112.6 265.2 113.1 265.3 113.6 265.3 C114 265.3 114.5 265.3 115 265.3 C115.5 265.3 116 265.3 116.4 265.3 C116.9 265.4 117.4 265.4 117.9 265.4 C118.3 265.4 118.8 265.4 119.3 265.4 C119.8 265.4 120.2 265.4 120.7 265.4 C121.2 265.4 121.7 265.4 122.2 265.4 C122.6 265.4 123.1 265.4 123.6 265.4 C124.1 265.4 124.5 265.4 125 265.4 C125.5 265.4 126 265.4 126.4 265.4 C126.9 265.4 127.4 265.4 127.9 265.4 C128.3 265.4 128.8 265.4 129.3 265.4 C129.8 265.4 130.3 265.4 130.7 265.4 C131.2 265.4 131.7 265.4 132.2 265.4 C132.6 265.4 133.1 265.4 133.6 265.4 C134.1 265.4 134.5 265.4 135 265.4 C135.5 265.4 136 265.4 136.4 265.4 C136.9 265.4 137.4 265.4 137.9 265.4 C138.4 265.4 138.8 265.4 139.3 265.4 C139.8 265.4 140.3 265.4 140.7 265.4 C141.2 265.4 141.7 265.4 142.2 265.4 C142.6 265.4 143.4 265.4 143.6 265.4 L143.6 265.4 L43.5 265.4 Z" fill="#5468e0" fill-opacity="0.3" stroke="none"/>
<path d="M43.5 265.4 C43.7 265.4 44.5 265.4 44.9 265.4 C45.4 265.4 45.9 265.4 46.4 265.4 C46.8 265.4 47.3 265.4 47.8 265.4 C48.3 265.4 48.7 265.4 49.2 265.4 C49.7 265.4 50.2 265.4 50.6 265.4 C51.1 265.4 51.6 265.4 52.1 265.4 C52.6 265.4 53 265.4 53.5 265.4 C54 265.4 54.5 265.4 54.9 265.4 C55.4 265.4 55.9 265.4 56.4 265.3 C56.8 265.3 57.3 265.3 57.8 265.3 C58.3 265.3 58.8 265.3 59.2 265.3 C59.7 265.3 60.2 265.2 60.7 265.2 C61.1 265.2 61.6 265.2 62.1 265.1 C62.6 265.1 63 265 63.5 265 C64 265 64.5 264.9 65 264.8 C65.4 264.8 65.9 264.7 66.4 264.6 C66.9 264.6 67.3 264.5 67.8 264.4 C68.3 264.3 68.8 264.2 69.2 264.1 C69.7 263.9 70.2 263.8 70.7 263.7 C71.1 263.5 71.6 263.4 72.1 263.2 C72.6 263.1 73.1 262.9 73.5 262.8 C74 262.6 74.5 262.4 75 262.2 C75.4 262 75.9 261.8 76.4 261.7 C76.9 261.5 77.3 261.3 77.8 261.1 C78.3 260.9 78.8 260.7 79.2 260.5 C79.7 260.4 80.2 260.2 80.7 260.1 C81.2 259.9 81.6 259.8 82.1 259.6 C82.6 259.5 83.1 259.4 83.5 259.3 C84 259.2 84.5 259.2 85 259.1 C85.4 259.1 85.9 259 86.4 259 C86.9 259 87.4 259.1 87.8 259.1 C88.3 259.2 88.8 259.2 89.3 259.3 C89.7 259.4 90.2 259.5 90.7 259.6 C91.2 259.8 91.6 259.9 92.1 260.1 C92.6 260.2 93.1 260.4 93.6 260.5 C94 260.7 94.5 260.9 95 261.1 C95.5 261.3 95.9 261.5 96.4 261.7 C96.9 261.8 97.4 262 97.8 262.2 C98.3 262.4 98.8 262.6 99.3 262.8 C99.7 262.9 100.2 263.1 100.7 263.2 C101.2 263.4 101.7 263.5 102.1 263.7 C102.6 263.8 103.1 263.9 103.6 264.1 C104 264.2 104.5 264.3 105 264.4 C105.5 264.5 105.9 264.6 106.4 264.6 C106.9 264.7 107.4 264.8 107.8 264.8 C108.3 264.9 108.8 265 109.3 265 C109.8 265 110.2 265.1 110.7 265.1 C111.2 265.2 111.7 265.2 112.1 265.2 C112.6 265.2 113.1 265.3 113.6 265.3 C114 265.3 114.5 265.3 115 265.3 C115.5 265.3 116 265.3 116.4 265.3 C116.9 265.4 117.4 265.4 117.9 265.4 C118.3 265.4 118.8 265.4 119.3 265.4 C119.8 265.4 120.2 265.4 120.7 265.4 C121.2 265.4 121.7 265.4 122.2 265.4 C122.6 265.4 123.1 265.4 123.6 265.4 C124.1 265.4 124.5 265.4 125 265.4 C125.5 265.4 126 265.4 126.4 265.4 C126.9 265.4 127.4 265.4 127.9 265.4 C128.3 265.4 128.8 265.4 129.3 265.4 C129.8 265.4 130.3 265.4 130.7 265.4 C131.2 265.4 131.7 265.4 132.2 265.4 C132.6 265.4 133.1 265.4 133.6 265.4 C134.1 265.4 134.5 265.4 135 265.4 C135.5 265.4 136 265.4 136.4 265.4 C136.9 265.4 137.4 265.4 137.9 265.4 C138.4 265.4 138.8 265.4 139.3 265.4 C139.8 265.4 140.3 265.4 140.7 265.4 C141.2 265.4 141.7 265.4 142.2 265.4 C142.6 265.4 143.4 265.4 143.6 265.4" fill="none" stroke="#5468e0" stroke-width="0.7"/>
<line x1="43.5" y1="265.4" x2="144.2" y2="265.4" class="ax"/>
<line x1="72.1" y1="265.4" x2="72.1" y2="268" class="ax"/>
<line x1="100.7" y1="265.4" x2="100.7" y2="268" class="ax"/>
<line x1="129.3" y1="265.4" x2="129.3" y2="268" class="ax"/>
<path d="M155.5 375.2 C155.5 374.9 155.6 374.1 155.6 373.6 C155.6 373 155.7 372.5 155.7 371.9 C155.7 371.4 155.8 370.8 155.8 370.3 C155.8 369.7 155.9 369.2 155.9 368.6 C155.9 368.1 156 367.5 156 367 C156 366.5 156.1 365.9 156.1 365.4 C156.2 364.8 156.2 364.3 156.2 363.7 C156.3 363.2 156.3 362.6 156.4 362.1 C156.4 361.5 156.4 361 156.5 360.4 C156.5 359.9 156.6 359.3 156.6 358.8 C156.7 358.3 156.7 357.7 156.7 357.2 C156.8 356.6 156.8 356.1 156.9 355.5 C156.9 355 157 354.4 157 353.9 C157.1 353.3 157.1 352.8 157.2 352.2 C157.2 351.7 157.3 351.1 157.3 350.6 C157.4 350.1 157.4 349.5 157.5 349 C157.5 348.4 157.6 347.9 157.6 347.3 C157.7 346.8 157.8 346.2 157.8 345.7 C157.9 345.1 158 344.6 158 344 C158.1 343.5 158.2 342.9 158.3 342.4 C158.4 341.9 158.4 341.3 158.5 340.8 C158.6 340.2 158.7 339.7 158.8 339.1 C158.9 338.6 159 338 159.1 337.5 C159.2 336.9 159.4 336.4 159.5 335.8 C159.6 335.3 159.7 334.7 159.9 334.2 C160 333.7 160.1 333.1 160.3 332.6 C160.4 332 160.6 331.5 160.8 330.9 C160.9 330.4 161.1 329.8 161.2 329.3 C161.4 328.7 161.6 328.2 161.8 327.6 C161.9 327.1 162.1 326.5 162.3 326 C162.5 325.5 162.7 324.9 162.9 324.4 C163 323.8 163.2 323.3 163.4 322.7 C163.6 322.2 163.8 321.6 164 321.1 C164.1 320.5 164.3 320 164.5 319.4 C164.7 318.9 164.8 318.3 165 317.8 C165.1 317.3 165.3 316.7 165.4 316.2 C165.6 315.6 165.7 315.1 165.8 314.5 C165.9 314 166 313.4 166.1 312.9 C166.2 312.3 166.3 311.8 166.3 311.2 C166.4 310.7 166.4 310.1 166.4 309.6 C166.5 309.1 166.5 308.5 166.5 308 C166.5 307.4 166.4 306.9 166.4 306.3 C166.3 305.8 166.3 305.2 166.2 304.7 C166.1 304.1 166 303.6 165.9 303 C165.8 302.5 165.7 301.9 165.5 301.4 C165.4 300.9 165.2 300.3 165.1 299.8 C164.9 299.2 164.7 298.7 164.5 298.1 C164.3 297.6 164.1 297 163.9 296.5 C163.7 295.9 163.5 295.4 163.3 294.8 C163 294.3 162.8 293.7 162.6 293.2 C162.3 292.7 162.1 292.1 161.9 291.6 C161.6 291 161.4 290.5 161.2 289.9 C160.9 289.4 160.7 288.8 160.5 288.3 C160.2 287.7 160 287.2 159.8 286.6 C159.6 286.1 159.4 285.5 159.2 285 C159 284.5 158.8 283.9 158.6 283.4 C158.4 282.8 158.2 282.3 158 281.7 C157.8 281.2 157.7 280.6 157.5 280.1 C157.3 279.5 157.2 279 157 278.4 C156.9 277.9 156.7 277.1 156.6 276.8 L154.6 276.8 L154.6 375.2 Z" fill="#e0303a" fill-opacity="0.18" stroke="none"/>
<path d="M155.5 375.2 C155.5 374.9 155.6 374.1 155.6 373.6 C155.6 373 155.7 372.5 155.7 371.9 C155.7 371.4 155.8 370.8 155.8 370.3 C155.8 369.7 155.9 369.2 155.9 368.6 C155.9 368.1 156 367.5 156 367 C156 366.5 156.1 365.9 156.1 365.4 C156.2 364.8 156.2 364.3 156.2 363.7 C156.3 363.2 156.3 362.6 156.4 362.1 C156.4 361.5 156.4 361 156.5 360.4 C156.5 359.9 156.6 359.3 156.6 358.8 C156.7 358.3 156.7 357.7 156.7 357.2 C156.8 356.6 156.8 356.1 156.9 355.5 C156.9 355 157 354.4 157 353.9 C157.1 353.3 157.1 352.8 157.2 352.2 C157.2 351.7 157.3 351.1 157.3 350.6 C157.4 350.1 157.4 349.5 157.5 349 C157.5 348.4 157.6 347.9 157.6 347.3 C157.7 346.8 157.8 346.2 157.8 345.7 C157.9 345.1 158 344.6 158 344 C158.1 343.5 158.2 342.9 158.3 342.4 C158.4 341.9 158.4 341.3 158.5 340.8 C158.6 340.2 158.7 339.7 158.8 339.1 C158.9 338.6 159 338 159.1 337.5 C159.2 336.9 159.4 336.4 159.5 335.8 C159.6 335.3 159.7 334.7 159.9 334.2 C160 333.7 160.1 333.1 160.3 332.6 C160.4 332 160.6 331.5 160.8 330.9 C160.9 330.4 161.1 329.8 161.2 329.3 C161.4 328.7 161.6 328.2 161.8 327.6 C161.9 327.1 162.1 326.5 162.3 326 C162.5 325.5 162.7 324.9 162.9 324.4 C163 323.8 163.2 323.3 163.4 322.7 C163.6 322.2 163.8 321.6 164 321.1 C164.1 320.5 164.3 320 164.5 319.4 C164.7 318.9 164.8 318.3 165 317.8 C165.1 317.3 165.3 316.7 165.4 316.2 C165.6 315.6 165.7 315.1 165.8 314.5 C165.9 314 166 313.4 166.1 312.9 C166.2 312.3 166.3 311.8 166.3 311.2 C166.4 310.7 166.4 310.1 166.4 309.6 C166.5 309.1 166.5 308.5 166.5 308 C166.5 307.4 166.4 306.9 166.4 306.3 C166.3 305.8 166.3 305.2 166.2 304.7 C166.1 304.1 166 303.6 165.9 303 C165.8 302.5 165.7 301.9 165.5 301.4 C165.4 300.9 165.2 300.3 165.1 299.8 C164.9 299.2 164.7 298.7 164.5 298.1 C164.3 297.6 164.1 297 163.9 296.5 C163.7 295.9 163.5 295.4 163.3 294.8 C163 294.3 162.8 293.7 162.6 293.2 C162.3 292.7 162.1 292.1 161.9 291.6 C161.6 291 161.4 290.5 161.2 289.9 C160.9 289.4 160.7 288.8 160.5 288.3 C160.2 287.7 160 287.2 159.8 286.6 C159.6 286.1 159.4 285.5 159.2 285 C159 284.5 158.8 283.9 158.6 283.4 C158.4 282.8 158.2 282.3 158 281.7 C157.8 281.2 157.7 280.6 157.5 280.1 C157.3 279.5 157.2 279 157 278.4 C156.9 277.9 156.7 277.1 156.6 276.8" fill="none" stroke="#e0303a" stroke-width="0.7"/>
<path d="M155 375.2 C155 374.9 155.1 374.1 155.1 373.6 C155.1 373 155.1 372.5 155.2 371.9 C155.2 371.4 155.2 370.8 155.2 370.3 C155.3 369.7 155.3 369.2 155.3 368.6 C155.3 368.1 155.4 367.5 155.4 367 C155.4 366.5 155.4 365.9 155.5 365.4 C155.5 364.8 155.5 364.3 155.6 363.7 C155.6 363.2 155.6 362.6 155.7 362.1 C155.7 361.5 155.7 361 155.8 360.4 C155.8 359.9 155.8 359.3 155.8 358.8 C155.9 358.3 155.9 357.7 156 357.2 C156 356.6 156 356.1 156.1 355.5 C156.1 355 156.1 354.4 156.2 353.9 C156.2 353.3 156.2 352.8 156.3 352.2 C156.3 351.7 156.3 351.1 156.4 350.6 C156.4 350.1 156.4 349.5 156.5 349 C156.5 348.4 156.5 347.9 156.6 347.3 C156.6 346.8 156.7 346.2 156.7 345.7 C156.7 345.1 156.8 344.6 156.8 344 C156.9 343.5 156.9 342.9 156.9 342.4 C157 341.9 157 341.3 157.1 340.8 C157.1 340.2 157.2 339.7 157.2 339.1 C157.3 338.6 157.3 338 157.4 337.5 C157.5 336.9 157.5 336.4 157.6 335.8 C157.7 335.3 157.7 334.7 157.8 334.2 C157.9 333.7 158 333.1 158.1 332.6 C158.1 332 158.2 331.5 158.3 330.9 C158.4 330.4 158.5 329.8 158.6 329.3 C158.7 328.7 158.9 328.2 159 327.6 C159.1 327.1 159.2 326.5 159.3 326 C159.5 325.5 159.6 324.9 159.7 324.4 C159.9 323.8 160 323.3 160.2 322.7 C160.3 322.2 160.5 321.6 160.6 321.1 C160.8 320.5 160.9 320 161.1 319.4 C161.2 318.9 161.4 318.3 161.5 317.8 C161.7 317.3 161.8 316.7 162 316.2 C162.1 315.6 162.3 315.1 162.4 314.5 C162.6 314 162.7 313.4 162.8 312.9 C162.9 312.3 163.1 311.8 163.2 311.2 C163.3 310.7 163.4 310.1 163.5 309.6 C163.5 309.1 163.6 308.5 163.7 308 C163.7 307.4 163.8 306.9 163.8 306.3 C163.8 305.8 163.8 305.2 163.8 304.7 C163.8 304.1 163.8 303.6 163.8 303 C163.8 302.5 163.7 301.9 163.6 301.4 C163.6 300.9 163.5 300.3 163.4 299.8 C163.3 299.2 163.2 298.7 163.1 298.1 C163 297.6 162.8 297 162.7 296.5 C162.6 295.9 162.4 295.4 162.2 294.8 C162.1 294.3 161.9 293.7 161.7 293.2 C161.5 292.7 161.4 292.1 161.2 291.6 C161 291 160.8 290.5 160.6 289.9 C160.4 289.4 160.2 288.8 160 288.3 C159.8 287.7 159.6 287.2 159.4 286.6 C159.2 286.1 159 285.5 158.9 285 C158.7 284.5 158.5 283.9 158.3 283.4 C158.1 282.8 158 282.3 157.8 281.7 C157.6 281.2 157.5 280.6 157.3 280.1 C157.2 279.5 157 279 156.9 278.4 C156.8 277.9 156.6 277.1 156.5 276.8 L154.6 276.8 L154.6 375.2 Z" fill="#9a9a9a" fill-opacity="0.3" stroke="none"/>
<path d="M155 375.2 C155 374.9 155.1 374.1 155.1 373.6 C155.1 373 155.1 372.5 155.2 371.9 C155.2 371.4 155.2 370.8 155.2 370.3 C155.3 369.7 155.3 369.2 155.3 368.6 C155.3 368.1 155.4 367.5 155.4 367 C155.4 366.5 155.4 365.9 155.5 365.4 C155.5 364.8 155.5 364.3 155.6 363.7 C155.6 363.2 155.6 362.6 155.7 362.1 C155.7 361.5 155.7 361 155.8 360.4 C155.8 359.9 155.8 359.3 155.8 358.8 C155.9 358.3 155.9 357.7 156 357.2 C156 356.6 156 356.1 156.1 355.5 C156.1 355 156.1 354.4 156.2 353.9 C156.2 353.3 156.2 352.8 156.3 352.2 C156.3 351.7 156.3 351.1 156.4 350.6 C156.4 350.1 156.4 349.5 156.5 349 C156.5 348.4 156.5 347.9 156.6 347.3 C156.6 346.8 156.7 346.2 156.7 345.7 C156.7 345.1 156.8 344.6 156.8 344 C156.9 343.5 156.9 342.9 156.9 342.4 C157 341.9 157 341.3 157.1 340.8 C157.1 340.2 157.2 339.7 157.2 339.1 C157.3 338.6 157.3 338 157.4 337.5 C157.5 336.9 157.5 336.4 157.6 335.8 C157.7 335.3 157.7 334.7 157.8 334.2 C157.9 333.7 158 333.1 158.1 332.6 C158.1 332 158.2 331.5 158.3 330.9 C158.4 330.4 158.5 329.8 158.6 329.3 C158.7 328.7 158.9 328.2 159 327.6 C159.1 327.1 159.2 326.5 159.3 326 C159.5 325.5 159.6 324.9 159.7 324.4 C159.9 323.8 160 323.3 160.2 322.7 C160.3 322.2 160.5 321.6 160.6 321.1 C160.8 320.5 160.9 320 161.1 319.4 C161.2 318.9 161.4 318.3 161.5 317.8 C161.7 317.3 161.8 316.7 162 316.2 C162.1 315.6 162.3 315.1 162.4 314.5 C162.6 314 162.7 313.4 162.8 312.9 C162.9 312.3 163.1 311.8 163.2 311.2 C163.3 310.7 163.4 310.1 163.5 309.6 C163.5 309.1 163.6 308.5 163.7 308 C163.7 307.4 163.8 306.9 163.8 306.3 C163.8 305.8 163.8 305.2 163.8 304.7 C163.8 304.1 163.8 303.6 163.8 303 C163.8 302.5 163.7 301.9 163.6 301.4 C163.6 300.9 163.5 300.3 163.4 299.8 C163.3 299.2 163.2 298.7 163.1 298.1 C163 297.6 162.8 297 162.7 296.5 C162.6 295.9 162.4 295.4 162.2 294.8 C162.1 294.3 161.9 293.7 161.7 293.2 C161.5 292.7 161.4 292.1 161.2 291.6 C161 291 160.8 290.5 160.6 289.9 C160.4 289.4 160.2 288.8 160 288.3 C159.8 287.7 159.6 287.2 159.4 286.6 C159.2 286.1 159 285.5 158.9 285 C158.7 284.5 158.5 283.9 158.3 283.4 C158.1 282.8 158 282.3 157.8 281.7 C157.6 281.2 157.5 280.6 157.3 280.1 C157.2 279.5 157 279 156.9 278.4 C156.8 277.9 156.6 277.1 156.5 276.8" fill="none" stroke="#9a9a9a" stroke-width="0.7"/>
<path d="M155.3 375.2 C155.4 374.9 155.4 374.1 155.5 373.6 C155.5 373 155.5 372.5 155.6 371.9 C155.6 371.4 155.7 370.8 155.7 370.3 C155.8 369.7 155.8 369.2 155.9 368.6 C155.9 368.1 156 367.5 156 367 C156.1 366.5 156.1 365.9 156.2 365.4 C156.3 364.8 156.3 364.3 156.4 363.7 C156.4 363.2 156.5 362.6 156.6 362.1 C156.6 361.5 156.7 361 156.8 360.4 C156.8 359.9 156.9 359.3 156.9 358.8 C157 358.3 157.1 357.7 157.1 357.2 C157.2 356.6 157.3 356.1 157.4 355.5 C157.4 355 157.5 354.4 157.6 353.9 C157.6 353.3 157.7 352.8 157.8 352.2 C157.8 351.7 157.9 351.1 158 350.6 C158 350.1 158.1 349.5 158.2 349 C158.3 348.4 158.3 347.9 158.4 347.3 C158.5 346.8 158.5 346.2 158.6 345.7 C158.7 345.1 158.7 344.6 158.8 344 C158.9 343.5 158.9 342.9 159 342.4 C159.1 341.9 159.2 341.3 159.2 340.8 C159.3 340.2 159.4 339.7 159.4 339.1 C159.5 338.6 159.5 338 159.6 337.5 C159.7 336.9 159.7 336.4 159.8 335.8 C159.9 335.3 159.9 334.7 160 334.2 C160 333.7 160.1 333.1 160.1 332.6 C160.2 332 160.2 331.5 160.3 330.9 C160.3 330.4 160.4 329.8 160.4 329.3 C160.5 328.7 160.5 328.2 160.6 327.6 C160.6 327.1 160.6 326.5 160.7 326 C160.7 325.5 160.7 324.9 160.7 324.4 C160.8 323.8 160.8 323.3 160.8 322.7 C160.8 322.2 160.8 321.6 160.8 321.1 C160.8 320.5 160.8 320 160.8 319.4 C160.8 318.9 160.8 318.3 160.8 317.8 C160.8 317.3 160.8 316.7 160.8 316.2 C160.7 315.6 160.7 315.1 160.7 314.5 C160.6 314 160.6 313.4 160.6 312.9 C160.5 312.3 160.5 311.8 160.4 311.2 C160.4 310.7 160.3 310.1 160.2 309.6 C160.2 309.1 160.1 308.5 160 308 C160 307.4 159.9 306.9 159.8 306.3 C159.7 305.8 159.7 305.2 159.6 304.7 C159.5 304.1 159.4 303.6 159.3 303 C159.2 302.5 159.2 301.9 159.1 301.4 C159 300.9 158.9 300.3 158.8 299.8 C158.7 299.2 158.6 298.7 158.5 298.1 C158.4 297.6 158.3 297 158.2 296.5 C158.1 295.9 158 295.4 157.9 294.8 C157.8 294.3 157.7 293.7 157.6 293.2 C157.6 292.7 157.5 292.1 157.4 291.6 C157.3 291 157.2 290.5 157.1 289.9 C157 289.4 156.9 288.8 156.9 288.3 C156.8 287.7 156.7 287.2 156.6 286.6 C156.5 286.1 156.5 285.5 156.4 285 C156.3 284.5 156.2 283.9 156.2 283.4 C156.1 282.8 156 282.3 156 281.7 C155.9 281.2 155.9 280.6 155.8 280.1 C155.8 279.5 155.7 279 155.6 278.4 C155.6 277.9 155.5 277.1 155.5 276.8 L154.6 276.8 L154.6 375.2 Z" fill="#5468e0" fill-opacity="0.32" stroke="none"/>
<path d="M155.3 375.2 C155.4 374.9 155.4 374.1 155.5 373.6 C155.5 373 155.5 372.5 155.6 371.9 C155.6 371.4 155.7 370.8 155.7 370.3 C155.8 369.7 155.8 369.2 155.9 368.6 C155.9 368.1 156 367.5 156 367 C156.1 366.5 156.1 365.9 156.2 365.4 C156.3 364.8 156.3 364.3 156.4 363.7 C156.4 363.2 156.5 362.6 156.6 362.1 C156.6 361.5 156.7 361 156.8 360.4 C156.8 359.9 156.9 359.3 156.9 358.8 C157 358.3 157.1 357.7 157.1 357.2 C157.2 356.6 157.3 356.1 157.4 355.5 C157.4 355 157.5 354.4 157.6 353.9 C157.6 353.3 157.7 352.8 157.8 352.2 C157.8 351.7 157.9 351.1 158 350.6 C158 350.1 158.1 349.5 158.2 349 C158.3 348.4 158.3 347.9 158.4 347.3 C158.5 346.8 158.5 346.2 158.6 345.7 C158.7 345.1 158.7 344.6 158.8 344 C158.9 343.5 158.9 342.9 159 342.4 C159.1 341.9 159.2 341.3 159.2 340.8 C159.3 340.2 159.4 339.7 159.4 339.1 C159.5 338.6 159.5 338 159.6 337.5 C159.7 336.9 159.7 336.4 159.8 335.8 C159.9 335.3 159.9 334.7 160 334.2 C160 333.7 160.1 333.1 160.1 332.6 C160.2 332 160.2 331.5 160.3 330.9 C160.3 330.4 160.4 329.8 160.4 329.3 C160.5 328.7 160.5 328.2 160.6 327.6 C160.6 327.1 160.6 326.5 160.7 326 C160.7 325.5 160.7 324.9 160.7 324.4 C160.8 323.8 160.8 323.3 160.8 322.7 C160.8 322.2 160.8 321.6 160.8 321.1 C160.8 320.5 160.8 320 160.8 319.4 C160.8 318.9 160.8 318.3 160.8 317.8 C160.8 317.3 160.8 316.7 160.8 316.2 C160.7 315.6 160.7 315.1 160.7 314.5 C160.6 314 160.6 313.4 160.6 312.9 C160.5 312.3 160.5 311.8 160.4 311.2 C160.4 310.7 160.3 310.1 160.2 309.6 C160.2 309.1 160.1 308.5 160 308 C160 307.4 159.9 306.9 159.8 306.3 C159.7 305.8 159.7 305.2 159.6 304.7 C159.5 304.1 159.4 303.6 159.3 303 C159.2 302.5 159.2 301.9 159.1 301.4 C159 300.9 158.9 300.3 158.8 299.8 C158.7 299.2 158.6 298.7 158.5 298.1 C158.4 297.6 158.3 297 158.2 296.5 C158.1 295.9 158 295.4 157.9 294.8 C157.8 294.3 157.7 293.7 157.6 293.2 C157.6 292.7 157.5 292.1 157.4 291.6 C157.3 291 157.2 290.5 157.1 289.9 C157 289.4 156.9 288.8 156.9 288.3 C156.8 287.7 156.7 287.2 156.6 286.6 C156.5 286.1 156.5 285.5 156.4 285 C156.3 284.5 156.2 283.9 156.2 283.4 C156.1 282.8 156 282.3 156 281.7 C155.9 281.2 155.9 280.6 155.8 280.1 C155.8 279.5 155.7 279 155.6 278.4 C155.6 277.9 155.5 277.1 155.5 276.8" fill="none" stroke="#5468e0" stroke-width="0.7"/>
<line x1="154.6" y1="276.6" x2="154.6" y2="375.2" class="ax"/>
<line x1="150" y1="375.2" x2="166.6" y2="375.2" class="ax"/>
<line x1="151.3" y1="362.9" x2="154.6" y2="362.9" class="ax"/>
<line x1="151.3" y1="350.6" x2="154.6" y2="350.6" class="ax"/>
<line x1="151.3" y1="338.3" x2="154.6" y2="338.3" class="ax"/>
<line x1="151.3" y1="326" x2="154.6" y2="326" class="ax"/>
<line x1="151.3" y1="313.7" x2="154.6" y2="313.7" class="ax"/>
<line x1="151.3" y1="301.4" x2="154.6" y2="301.4" class="ax"/>
<line x1="151.3" y1="289.1" x2="154.6" y2="289.1" class="ax"/>
<line x1="151.3" y1="276.8" x2="154.6" y2="276.8" class="ax"/>
<path d="M43.5 276.6V375.2H143.6" class="ax"/>
<line x1="40.3" y1="375.2" x2="43.5" y2="375.2" class="ax"/>
<text x="36.9" y="378.3" text-anchor="end">0.93</text>
<line x1="40.3" y1="350.6" x2="43.5" y2="350.6" class="ax"/>
<text x="36.9" y="353.7" text-anchor="end">0.94</text>
<line x1="40.3" y1="326" x2="43.5" y2="326" class="ax"/>
<text x="36.9" y="329.1" text-anchor="end">0.95</text>
<line x1="40.3" y1="301.4" x2="43.5" y2="301.4" class="ax"/>
<text x="36.9" y="304.5" text-anchor="end">0.96</text>
<line x1="40.3" y1="276.8" x2="43.5" y2="276.8" class="ax"/>
<text x="36.9" y="279.9" text-anchor="end">0.97</text>
<line x1="41.5" y1="362.9" x2="43.5" y2="362.9" class="ax"/>
<line x1="41.5" y1="338.3" x2="43.5" y2="338.3" class="ax"/>
<line x1="41.5" y1="313.7" x2="43.5" y2="313.7" class="ax"/>
<line x1="41.5" y1="289.1" x2="43.5" y2="289.1" class="ax"/>
<line x1="43.5" y1="375.2" x2="43.5" y2="378.2" class="ax"/>
<text x="43.5" y="388.4" text-anchor="middle">0</text>
<line x1="72.1" y1="375.2" x2="72.1" y2="378.2" class="ax"/>
<text x="72.1" y="388.4" text-anchor="middle">2,000</text>
<line x1="100.7" y1="375.2" x2="100.7" y2="378.2" class="ax"/>
<text x="100.7" y="388.4" text-anchor="middle">4,000</text>
<line x1="129.3" y1="375.2" x2="129.3" y2="378.2" class="ax"/>
<text x="129.3" y="388.4" text-anchor="middle">6,000</text>
<text x="93.8" y="401.6" text-anchor="middle">Area</text>
<text x="11.6" y="326" text-anchor="middle" transform="rotate(-90 11.6 326)">Convexity</text>
<g class="sg">
<circle cx="72.8" cy="298.3"/>
<circle cx="74.8" cy="303.6"/>
<circle cx="71" cy="306.9"/>
<circle cx="66.8" cy="301.1"/>
<circle cx="69.8" cy="309.1"/>
<circle cx="66.2" cy="312"/>
<circle cx="73.2" cy="298.2"/>
<circle cx="81.8" cy="287.9"/>
<circle cx="69.5" cy="314.6"/>
<circle cx="68.6" cy="297.7"/>
<circle cx="76.1" cy="304.9"/>
<circle cx="75.2" cy="308.5"/>
<circle cx="73.5" cy="288.3"/>
<circle cx="66.6" cy="303.4"/>
<circle cx="72.6" cy="281.1"/>
<circle cx="77.5" cy="306.3"/>
<circle cx="63.8" cy="293.4"/>
<circle cx="69.7" cy="300.2"/>
<circle cx="60" cy="306.1"/>
<circle cx="64.1" cy="291.2"/>
<circle cx="60.4" cy="299.4"/>
<circle cx="71.2" cy="291"/>
<circle cx="64.3" cy="298.2"/>
<circle cx="74.6" cy="309.7"/>
<circle cx="73.9" cy="298.8"/>
<circle cx="71.6" cy="297.1"/>
<circle cx="55.9" cy="287.1"/>
<circle cx="69.2" cy="307.7"/>
<circle cx="72.5" cy="298.1"/>
<circle cx="73.6" cy="316.8"/>
<circle cx="62.5" cy="290.5"/>
<circle cx="69.6" cy="309.7"/>
<circle cx="66.2" cy="317.7"/>
<circle cx="67.4" cy="298.4"/>
<circle cx="79.9" cy="285.5"/>
<circle cx="67.4" cy="314.6"/>
<circle cx="72.6" cy="309.8"/>
<circle cx="78.8" cy="305.9"/>
<circle cx="68.9" cy="310.2"/>
<circle cx="72.1" cy="293.5"/>
<circle cx="73.6" cy="306.6"/>
<circle cx="73.2" cy="305.7"/>
<circle cx="64.6" cy="291.3"/>
<circle cx="73.3" cy="306.1"/>
<circle cx="81.9" cy="292.9"/>
<circle cx="62.4" cy="308.5"/>
<circle cx="78.6" cy="311.1"/>
<circle cx="73.6" cy="318"/>
<circle cx="86.3" cy="301.3"/>
<circle cx="77.9" cy="295"/>
<circle cx="64.8" cy="298.1"/>
<circle cx="73.3" cy="295.9"/>
<circle cx="76.7" cy="297.2"/>
<circle cx="77.4" cy="309.2"/>
<circle cx="72.4" cy="315"/>
<circle cx="77.3" cy="308.9"/>
<circle cx="82.5" cy="312.5"/>
<circle cx="68.3" cy="289.4"/>
<circle cx="74.2" cy="288.6"/>
<circle cx="69.7" cy="308.4"/>
<circle cx="73.7" cy="313.1"/>
<circle cx="64.8" cy="301.6"/>
<circle cx="68.9" cy="282.3"/>
<circle cx="71.5" cy="328.9"/>
<circle cx="78.9" cy="291.9"/>
<circle cx="80.5" cy="309.6"/>
<circle cx="63.9" cy="286.2"/>
<circle cx="67.5" cy="309.6"/>
<circle cx="77.2" cy="300.9"/>
<circle cx="59.4" cy="314.4"/>
<circle cx="69.7" cy="308.5"/>
<circle cx="72.2" cy="282.4"/>
<circle cx="81.3" cy="288.6"/>
<circle cx="77.4" cy="302.2"/>
<circle cx="70.6" cy="307.3"/>
<circle cx="70.3" cy="318.7"/>
<circle cx="71.1" cy="302.1"/>
<circle cx="83.1" cy="298.1"/>
<circle cx="69.9" cy="298.6"/>
<circle cx="70.8" cy="298.7"/>
<circle cx="75.2" cy="310.1"/>
<circle cx="72" cy="298.4"/>
<circle cx="71.5" cy="298.1"/>
<circle cx="65.3" cy="283.4"/>
<circle cx="69.8" cy="299.2"/>
<circle cx="80.7" cy="306.2"/>
<circle cx="77.2" cy="298.4"/>
<circle cx="72.7" cy="304.4"/>
<circle cx="77.3" cy="305.9"/>
<circle cx="70.5" cy="298.4"/>
<circle cx="79.9" cy="309.3"/>
<circle cx="72.8" cy="291"/>
<circle cx="76.7" cy="298.9"/>
<circle cx="64.1" cy="294.9"/>
<circle cx="75.1" cy="299.7"/>
<circle cx="61.5" cy="305.8"/>
<circle cx="59.1" cy="308.2"/>
<circle cx="70.8" cy="300.3"/>
<circle cx="66.8" cy="303.8"/>
<circle cx="73.9" cy="295.1"/>
<circle cx="87.9" cy="297.8"/>
<circle cx="67.2" cy="312.8"/>
<circle cx="68.6" cy="297"/>
<circle cx="74.2" cy="312.6"/>
<circle cx="76.1" cy="304.5"/>
<circle cx="71.6" cy="301"/>
<circle cx="71.4" cy="320.7"/>
<circle cx="77.5" cy="296.7"/>
<circle cx="76.3" cy="296"/>
<circle cx="65.9" cy="299.5"/>
<circle cx="72.3" cy="302.4"/>
<circle cx="73.1" cy="301.8"/>
<circle cx="65.7" cy="308.5"/>
<circle cx="74.6" cy="300.7"/>
<circle cx="67" cy="303.8"/>
<circle cx="79.3" cy="296.7"/>
<circle cx="74.1" cy="311"/>
<circle cx="73.4" cy="295.1"/>
<circle cx="68.8" cy="296.1"/>
<circle cx="72" cy="299.3"/>
<circle cx="59.4" cy="302.6"/>
<circle cx="65.2" cy="291.6"/>
<circle cx="75.3" cy="316.1"/>
<circle cx="58.5" cy="292.6"/>
<circle cx="78.5" cy="295"/>
<circle cx="61.1" cy="294.6"/>
<circle cx="77.9" cy="293.5"/>
<circle cx="67.1" cy="304.9"/>
<circle cx="78.1" cy="300.6"/>
<circle cx="73.7" cy="290.7"/>
<circle cx="62.5" cy="292.9"/>
<circle cx="81.2" cy="295.4"/>
<circle cx="82.5" cy="314.5"/>
<circle cx="72.4" cy="291.8"/>
<circle cx="71" cy="284.8"/>
<circle cx="71.7" cy="286.5"/>
<circle cx="66.3" cy="295.1"/>
<circle cx="80.2" cy="315"/>
<circle cx="69.2" cy="287.3"/>
<circle cx="72.5" cy="299.3"/>
<circle cx="67.5" cy="325.7"/>
<circle cx="68.6" cy="293.5"/>
<circle cx="64.2" cy="314.2"/>
<circle cx="81.3" cy="312.1"/>
<circle cx="71.8" cy="304.7"/>
<circle cx="79.3" cy="283.6"/>
<circle cx="72.9" cy="301.8"/>
<circle cx="68.1" cy="294.7"/>
<circle cx="70.6" cy="278.4"/>
<circle cx="69" cy="280.1"/>
<circle cx="72.9" cy="298.9"/>
<circle cx="70.3" cy="300.4"/>
<circle cx="70.8" cy="311.7"/>
<circle cx="63.5" cy="305.4"/>
<circle cx="67.4" cy="293"/>
<circle cx="83.9" cy="293.3"/>
<circle cx="68.3" cy="296.5"/>
<circle cx="65.7" cy="286.7"/>
<circle cx="75.1" cy="306.3"/>
<circle cx="82.3" cy="298.3"/>
<circle cx="63" cy="289.6"/>
<circle cx="71.4" cy="291.2"/>
<circle cx="68.6" cy="285.9"/>
<circle cx="61" cy="293.3"/>
<circle cx="77.8" cy="301.1"/>
<circle cx="72.7" cy="293.7"/>
<circle cx="73.3" cy="308.8"/>
<circle cx="67.8" cy="315.9"/>
<circle cx="75.9" cy="291.3"/>
<circle cx="69.2" cy="298.3"/>
<circle cx="71.9" cy="294.3"/>
<circle cx="65.4" cy="316.5"/>
<circle cx="64.6" cy="301.8"/>
<circle cx="81.8" cy="304.4"/>
<circle cx="69.4" cy="307.3"/>
<circle cx="74.8" cy="322.7"/>
<circle cx="72.6" cy="301.4"/>
<circle cx="69.9" cy="287.8"/>
<circle cx="69.4" cy="293.5"/>
<circle cx="77" cy="304.4"/>
<circle cx="70.8" cy="297.9"/>
<circle cx="71.8" cy="289.3"/>
<circle cx="73" cy="328.3"/>
<circle cx="80.7" cy="299.1"/>
<circle cx="77.4" cy="291.7"/>
<circle cx="75.4" cy="290.2"/>
<circle cx="69" cy="278.9"/>
<circle cx="63.5" cy="285.1"/>
<circle cx="79.2" cy="294.2"/>
<circle cx="79.3" cy="294.4"/>
<circle cx="71.9" cy="289"/>
<circle cx="76.5" cy="303.7"/>
<circle cx="78.1" cy="298.2"/>
<circle cx="78.4" cy="287.7"/>
<circle cx="69.8" cy="299.5"/>
<circle cx="83" cy="298.2"/>
<circle cx="64.4" cy="295.5"/>
<circle cx="78.6" cy="282.8"/>
<circle cx="76.1" cy="298"/>
<circle cx="78.7" cy="281.4"/>
<circle cx="85.4" cy="308.4"/>
<circle cx="82.8" cy="299.8"/>
<circle cx="65.1" cy="299.9"/>
<circle cx="61.5" cy="289"/>
<circle cx="78.3" cy="286.1"/>
<circle cx="66" cy="314.4"/>
<circle cx="72.7" cy="307.8"/>
<circle cx="78.5" cy="294"/>
<circle cx="61.8" cy="305"/>
<circle cx="58.6" cy="314.6"/>
<circle cx="74.6" cy="286.2"/>
<circle cx="73.1" cy="292.2"/>
<circle cx="71.2" cy="292.3"/>
<circle cx="73.1" cy="303"/>
<circle cx="67" cy="286.3"/>
<circle cx="62.6" cy="300.4"/>
<circle cx="71.7" cy="285.6"/>
<circle cx="66.3" cy="307.8"/>
<circle cx="61.8" cy="307.2"/>
<circle cx="76.2" cy="295.4"/>
<circle cx="72.4" cy="305.5"/>
<circle cx="75.5" cy="290.2"/>
<circle cx="66.2" cy="294.8"/>
<circle cx="68.4" cy="307.9"/>
<circle cx="66.1" cy="296.9"/>
<circle cx="66.9" cy="301.6"/>
<circle cx="74.1" cy="287.6"/>
<circle cx="67.6" cy="304.7"/>
<circle cx="75.2" cy="302.6"/>
<circle cx="75.1" cy="284.3"/>
<circle cx="78.8" cy="297"/>
<circle cx="72.2" cy="295.3"/>
<circle cx="72.7" cy="280.7"/>
<circle cx="63.1" cy="299.1"/>
<circle cx="69.7" cy="308.5"/>
<circle cx="77.8" cy="296.4"/>
<circle cx="72.3" cy="292.7"/>
<circle cx="73.4" cy="306.9"/>
<circle cx="70.9" cy="315.9"/>
<circle cx="80.6" cy="313.6"/>
<circle cx="72.7" cy="290.3"/>
<circle cx="58" cy="306.1"/>
<circle cx="68.2" cy="299.3"/>
<circle cx="59.6" cy="295.4"/>
<circle cx="51" cy="290.9"/>
<circle cx="69.3" cy="301.4"/>
<circle cx="81.8" cy="292.2"/>
<circle cx="73.1" cy="307.6"/>
<circle cx="64.9" cy="301.7"/>
<circle cx="66.5" cy="309.1"/>
<circle cx="80.4" cy="285.2"/>
<circle cx="73.9" cy="298"/>
<circle cx="73.1" cy="305.9"/>
<circle cx="72.5" cy="301.6"/>
<circle cx="73.1" cy="300.2"/>
<circle cx="78.2" cy="290"/>
<circle cx="76.5" cy="315.4"/>
<circle cx="74.3" cy="309.2"/>
<circle cx="65.8" cy="301.9"/>
<circle cx="68.2" cy="287.1"/>
<circle cx="80.2" cy="298.9"/>
<circle cx="64.3" cy="289.8"/>
<circle cx="72.8" cy="300.3"/>
<circle cx="63.9" cy="301.8"/>
<circle cx="84.4" cy="284.3"/>
<circle cx="82.6" cy="292.2"/>
<circle cx="69.7" cy="290.3"/>
<circle cx="78" cy="303.3"/>
<circle cx="55.2" cy="278.8"/>
<circle cx="74.5" cy="291.4"/>
<circle cx="72.4" cy="290.1"/>
<circle cx="73.4" cy="320.2"/>
<circle cx="65.6" cy="290.7"/>
<circle cx="71" cy="299.9"/>
<circle cx="71.6" cy="292.9"/>
<circle cx="80.8" cy="290.2"/>
<circle cx="75.1" cy="301.5"/>
<circle cx="72.8" cy="316.4"/>
<circle cx="83.1" cy="293.6"/>
<circle cx="69.1" cy="305.9"/>
<circle cx="70.2" cy="301.4"/>
<circle cx="60.6" cy="304.4"/>
<circle cx="83.4" cy="301.5"/>
<circle cx="79.3" cy="323.3"/>
<circle cx="79" cy="284.2"/>
<circle cx="77.3" cy="294.9"/>
<circle cx="73.6" cy="285.4"/>
<circle cx="71.1" cy="297.5"/>
<circle cx="71.4" cy="317.7"/>
<circle cx="73.2" cy="307.6"/>
<circle cx="83" cy="311.1"/>
<circle cx="76.5" cy="303.3"/>
<circle cx="72.4" cy="296.8"/>
<circle cx="68.9" cy="319.9"/>
</g>
<g class="sg">
<circle cx="70.2" cy="310.7"/>
</g>
<g class="sb">
<circle cx="73.3" cy="298.5"/>
<circle cx="77.2" cy="327.2"/>
<circle cx="75.2" cy="310.7"/>
<circle cx="135" cy="321.2"/>
<circle cx="81.5" cy="325.3"/>
<circle cx="96.7" cy="298"/>
<circle cx="79.8" cy="313.2"/>
<circle cx="89" cy="315.4"/>
<circle cx="93.1" cy="316"/>
</g>
<g class="sr">
<circle cx="74.5" cy="342.7"/>
</g>
<g class="sb">
<circle cx="90.8" cy="309.8"/>
<circle cx="90" cy="295.1"/>
<circle cx="66.6" cy="304.6"/>
<circle cx="97.7" cy="302.5"/>
<circle cx="94" cy="324.1"/>
<circle cx="75.6" cy="295.9"/>
<circle cx="72.7" cy="321"/>
</g>
<g class="sr">
<circle cx="135.5" cy="297.3"/>
</g>
<g class="sb">
<circle cx="98.7" cy="335.1"/>
<circle cx="66" cy="318.1"/>
<circle cx="88.8" cy="304.2"/>
<circle cx="98.1" cy="293.1"/>
</g>
<g class="sr">
<circle cx="121.8" cy="323.6"/>
</g>
<g class="sb">
<circle cx="70.2" cy="317.5"/>
<circle cx="78.6" cy="340.9"/>
</g>
<g class="sr">
<circle cx="115.9" cy="289.1"/>
<circle cx="119" cy="304.9"/>
</g>
<g class="sb">
<circle cx="68.3" cy="317.1"/>
<circle cx="83.8" cy="326.1"/>
<circle cx="81.8" cy="299.4"/>
<circle cx="83.1" cy="358.3"/>
</g>
<g class="sr">
<circle cx="118.9" cy="310.5"/>
</g>
<g class="sb">
<circle cx="90.9" cy="318.2"/>
<circle cx="70.6" cy="310.7"/>
</g>
<g class="sr">
<circle cx="134.6" cy="304.8"/>
</g>
<g class="sg">
<circle cx="71.5" cy="305.7"/>
</g>
<g class="sr">
<circle cx="104.2" cy="318.7"/>
</g>
<g class="sb">
<circle cx="75.4" cy="329.9"/>
<circle cx="94" cy="337.2"/>
<circle cx="82" cy="316.1"/>
<circle cx="80.5" cy="334"/>
</g>
<g class="sr">
<circle cx="118.3" cy="317.4"/>
</g>
<g class="sb">
<circle cx="88.6" cy="301.1"/>
<circle cx="85.9" cy="320"/>
<circle cx="78.9" cy="318.7"/>
<circle cx="81.8" cy="313.9"/>
</g>
<g class="sr">
<circle cx="122.6" cy="335.9"/>
<circle cx="118" cy="311.8"/>
<circle cx="132.3" cy="306.8"/>
</g>
<g class="sb">
<circle cx="75.2" cy="318.1"/>
<circle cx="74.1" cy="305.9"/>
<circle cx="76.3" cy="308.5"/>
<circle cx="73.2" cy="321.3"/>
</g>
<g class="sg">
<circle cx="64.9" cy="293.4"/>
</g>
<g class="sb">
<circle cx="101.2" cy="335"/>
</g>
<g class="sr">
<circle cx="75.2" cy="286"/>
</g>
<g class="sb">
<circle cx="75.2" cy="290.1"/>
<circle cx="105.8" cy="307.1"/>
<circle cx="85.6" cy="343"/>
<circle cx="88.7" cy="291.2"/>
<circle cx="68.9" cy="287.6"/>
<circle cx="85.7" cy="303"/>
<circle cx="81.7" cy="319.7"/>
<circle cx="101.7" cy="325.3"/>
</g>
<g class="sr">
<circle cx="103.3" cy="282"/>
<circle cx="123.4" cy="312.3"/>
<circle cx="95" cy="285.3"/>
</g>
<g class="sb">
<circle cx="90.4" cy="314.1"/>
</g>
<g class="sr">
<circle cx="95.4" cy="307.2"/>
</g>
<g class="sb">
<circle cx="78.4" cy="310.4"/>
</g>
<g class="sr">
<circle cx="100.5" cy="319.5"/>
</g>
<g class="sb">
<circle cx="76.4" cy="331.8"/>
<circle cx="79.3" cy="336.4"/>
<circle cx="93.5" cy="309.7"/>
</g>
<g class="sr">
<circle cx="117.7" cy="359.7"/>
</g>
<g class="sb">
<circle cx="75.6" cy="292.7"/>
</g>
<g class="sr">
<circle cx="133.3" cy="326"/>
</g>
<g class="sb">
<circle cx="82.9" cy="340.4"/>
<circle cx="89.1" cy="326.5"/>
<circle cx="76" cy="309.5"/>
<circle cx="79.8" cy="359.4"/>
<circle cx="70.7" cy="320.4"/>
</g>
<g class="sr">
<circle cx="132.8" cy="317.5"/>
</g>
<g class="sb">
<circle cx="83" cy="298.8"/>
<circle cx="136.7" cy="312.5"/>
<circle cx="84.3" cy="342.8"/>
<circle cx="93.7" cy="290.4"/>
<circle cx="83" cy="311.5"/>
<circle cx="121.8" cy="369.3"/>
<circle cx="74.7" cy="333.4"/>
<circle cx="93" cy="339.4"/>
</g>
<g class="sr">
<circle cx="127.4" cy="306.2"/>
</g>
<g class="sb">
<circle cx="79.9" cy="310.6"/>
<circle cx="89.2" cy="308.7"/>
</g>
<g class="sr">
<circle cx="97.9" cy="309.2"/>
</g>
<g class="sb">
<circle cx="82.7" cy="283.8"/>
<circle cx="76.8" cy="336.9"/>
<circle cx="95.2" cy="313.4"/>
<circle cx="90.4" cy="366.7"/>
<circle cx="86.4" cy="308.9"/>
</g>
<g class="sr">
<circle cx="50" cy="353"/>
</g>
<g class="sb">
<circle cx="74.1" cy="362"/>
<circle cx="76.1" cy="346.8"/>
<circle cx="70.7" cy="290.5"/>
</g>
<g class="sr">
<circle cx="120.8" cy="336.8"/>
<circle cx="88.1" cy="280.6"/>
</g>
<g class="sb">
<circle cx="98.5" cy="311.2"/>
</g>
<g class="sr">
<circle cx="114.2" cy="299.3"/>
<circle cx="112.6" cy="302.9"/>
</g>
<g class="sb">
<circle cx="84.1" cy="313.8"/>
<circle cx="84.9" cy="315.6"/>
<circle cx="67.8" cy="345.8"/>
<circle cx="81.8" cy="309.9"/>
<circle cx="92.3" cy="341.8"/>
<circle cx="69.8" cy="329.9"/>
</g>
<g class="sr">
<circle cx="132.9" cy="344.1"/>
</g>
<g class="sb">
<circle cx="75.6" cy="331.9"/>
<circle cx="67.3" cy="310"/>
<circle cx="72.8" cy="308.1"/>
<circle cx="86.3" cy="331.6"/>
<circle cx="125.4" cy="350.6"/>
<circle cx="90.4" cy="325.2"/>
<circle cx="76.3" cy="283.3"/>
<circle cx="91" cy="343.2"/>
</g>
<g class="sr">
<circle cx="127.9" cy="331.9"/>
</g>
<g class="sb">
<circle cx="80.2" cy="311.4"/>
</g>
<g class="sg">
<circle cx="71.3" cy="298"/>
</g>
<g class="sb">
<circle cx="82.8" cy="294.2"/>
<circle cx="89.2" cy="309.7"/>
<circle cx="88" cy="303"/>
<circle cx="71" cy="307.7"/>
<circle cx="88.6" cy="295.8"/>
<circle cx="84" cy="327.5"/>
<circle cx="79.7" cy="325"/>
</g>
<g class="sr">
<circle cx="123.5" cy="315"/>
</g>
<g class="sb">
<circle cx="124.4" cy="311.8"/>
<circle cx="80.2" cy="352.2"/>
<circle cx="71" cy="302.5"/>
</g>
<g class="sr">
<circle cx="116" cy="329.5"/>
</g>
<g class="sb">
<circle cx="75.7" cy="327.7"/>
</g>
<g class="sg">
<circle cx="61.6" cy="304.1"/>
</g>
<g class="sb">
<circle cx="68.5" cy="318.8"/>
<circle cx="80.2" cy="311.6"/>
<circle cx="74.5" cy="302.6"/>
<circle cx="67.9" cy="329.8"/>
<circle cx="101.8" cy="300.7"/>
<circle cx="92.7" cy="332.3"/>
<circle cx="78" cy="352.7"/>
<circle cx="90.2" cy="328.8"/>
</g>
<g class="sr">
<circle cx="59.1" cy="337.8"/>
</g>
<g class="sb">
<circle cx="77.4" cy="327.4"/>
<circle cx="88.2" cy="294.6"/>
<circle cx="119.5" cy="318.8"/>
<circle cx="89" cy="338"/>
<circle cx="88.1" cy="293.1"/>
<circle cx="71.6" cy="318.3"/>
<circle cx="93.8" cy="333.3"/>
<circle cx="67.6" cy="300.3"/>
<circle cx="78.7" cy="296.1"/>
<circle cx="132.1" cy="316.2"/>
</g>
<g class="sg">
<circle cx="83.1" cy="305.2"/>
</g>
<g class="sr">
<circle cx="128.5" cy="324.3"/>
</g>
<g class="sb">
<circle cx="80.2" cy="310.8"/>
<circle cx="89.5" cy="292.1"/>
</g>
<g class="sr">
<circle cx="132.5" cy="320.7"/>
</g>
<g class="sb">
<circle cx="81.2" cy="318.2"/>
<circle cx="86.5" cy="346.4"/>
</g>
<g class="sr">
<circle cx="101.6" cy="308"/>
</g>
<g class="sb">
<circle cx="129.8" cy="308.7"/>
</g>
<g class="sr">
<circle cx="106.4" cy="317"/>
</g>
<g class="sb">
<circle cx="76.4" cy="334.5"/>
</g>
<g class="sr">
<circle cx="124.5" cy="332"/>
</g>
<g class="sb">
<circle cx="71.1" cy="292.1"/>
<circle cx="75.5" cy="300.6"/>
<circle cx="69.8" cy="316.4"/>
</g>
<g class="sr">
<circle cx="55.8" cy="316.8"/>
</g>
<g class="sb">
<circle cx="71.8" cy="312.5"/>
<circle cx="102.3" cy="324.3"/>
</g>
<g class="sr">
<circle cx="130.3" cy="310.7"/>
<circle cx="123" cy="322.5"/>
<circle cx="126.5" cy="330.9"/>
</g>
<g class="sb">
<circle cx="59.6" cy="326.9"/>
<circle cx="78.6" cy="321.2"/>
<circle cx="89.3" cy="345.1"/>
</g>
<g class="sr">
<circle cx="111.6" cy="296.4"/>
</g>
<g class="sg">
<circle cx="52.1" cy="286.2"/>
</g>
<g class="sb">
<circle cx="88.9" cy="310.4"/>
<circle cx="107.1" cy="328"/>
</g>
<g class="sr">
<circle cx="78.5" cy="300.5"/>
</g>
<g class="sb">
<circle cx="74" cy="296.2"/>
<circle cx="74.3" cy="294"/>
</g>
<g class="sr">
<circle cx="59.5" cy="364.7"/>
</g>
<g class="sb">
<circle cx="78.9" cy="314.2"/>
<circle cx="77.1" cy="286.7"/>
</g>
<g class="sr">
<circle cx="111.8" cy="300.9"/>
<circle cx="126.7" cy="328.1"/>
</g>
<g class="sb">
<circle cx="86.7" cy="295.1"/>
<circle cx="68.2" cy="309.5"/>
<circle cx="103.3" cy="308"/>
</g>
<g class="sr">
<circle cx="123.9" cy="296.7"/>
<circle cx="89.3" cy="313.3"/>
</g>
<g class="sb">
<circle cx="83.7" cy="329"/>
<circle cx="89.7" cy="294.6"/>
</g>
<g class="sr">
<circle cx="139.1" cy="343.8"/>
</g>
<g class="sb">
<circle cx="76.4" cy="316.4"/>
<circle cx="93.3" cy="290.4"/>
<circle cx="95.5" cy="313.6"/>
<circle cx="86.6" cy="320.1"/>
<circle cx="82.4" cy="333.5"/>
<circle cx="127.9" cy="343.2"/>
<circle cx="84.1" cy="361.2"/>
<circle cx="69.3" cy="305.7"/>
</g>
<g class="sr">
<circle cx="104.3" cy="316.6"/>
</g>
<g class="sb">
<circle cx="85.9" cy="322.8"/>
<circle cx="77.1" cy="306.3"/>
<circle cx="85.3" cy="336.4"/>
<circle cx="67.6" cy="323.2"/>
<circle cx="85.3" cy="294.2"/>
<circle cx="92.4" cy="367"/>
<circle cx="81.9" cy="325.7"/>
<circle cx="84" cy="305.6"/>
</g>
<g class="sr">
<circle cx="93.3" cy="316.1"/>
<circle cx="133.7" cy="311.3"/>
</g>
<g class="sb">
<circle cx="88.4" cy="311.9"/>
<circle cx="99.3" cy="314.2"/>
</g>
<g class="sr">
<circle cx="126.1" cy="297"/>
</g>
<g class="sb">
<circle cx="132.3" cy="330.6"/>
</g>
<g class="sr">
<circle cx="141.5" cy="328.9"/>
<circle cx="122" cy="328.7"/>
</g>
<g class="sb">
<circle cx="85.1" cy="316.2"/>
</g>
<g class="sg">
<circle cx="65.4" cy="298.5"/>
</g>
<g class="sb">
<circle cx="71.4" cy="310.3"/>
<circle cx="95.8" cy="308.3"/>
<circle cx="70.9" cy="298.2"/>
</g>
<g class="sr">
<circle cx="111.2" cy="303.4"/>
<circle cx="140.9" cy="312"/>
</g>
<g class="sb">
<circle cx="84.3" cy="296.4"/>
<circle cx="86.3" cy="316.2"/>
<circle cx="92.7" cy="321.1"/>
<circle cx="103.3" cy="343.4"/>
<circle cx="94.5" cy="329.3"/>
<circle cx="73.2" cy="371.5"/>
<circle cx="89.8" cy="321.9"/>
</g>
<g class="sr">
<circle cx="120.4" cy="305.9"/>
</g>
<g class="sb">
<circle cx="127.1" cy="325.7"/>
</g>
<g class="sr">
<circle cx="125.5" cy="319.9"/>
</g>
<g class="sb">
<circle cx="72" cy="320"/>
<circle cx="82.9" cy="307.8"/>
<circle cx="100.3" cy="311.8"/>
</g>
<g class="sg">
<circle cx="64.1" cy="296.7"/>
</g>
<g class="sr">
<circle cx="94.6" cy="289.3"/>
</g>
<g class="sb">
<circle cx="83.2" cy="316"/>
</g>
<g class="sr">
<circle cx="99.6" cy="284"/>
<circle cx="54.4" cy="344.1"/>
</g>
<g class="sb">
<circle cx="94.2" cy="301.1"/>
<circle cx="87.2" cy="302.9"/>
<circle cx="91.7" cy="298.1"/>
</g>
<g class="sr">
<circle cx="108.6" cy="322.6"/>
</g>
<g class="sb">
<circle cx="76.6" cy="296.9"/>
<circle cx="59.3" cy="284.1"/>
</g>
<g class="sr">
<circle cx="111.1" cy="311.5"/>
</g>
<g class="sb">
<circle cx="140.9" cy="320.6"/>
<circle cx="96.7" cy="316"/>
<circle cx="89.7" cy="322.4"/>
<circle cx="89.2" cy="296.1"/>
<circle cx="78.4" cy="301"/>
<circle cx="83" cy="305.1"/>
<circle cx="100.4" cy="328.3"/>
<circle cx="83.6" cy="311.8"/>
<circle cx="80.6" cy="324.2"/>
<circle cx="101.1" cy="308.7"/>
<circle cx="99.5" cy="322.7"/>
</g>
<g class="sr">
<circle cx="127.1" cy="322.3"/>
</g>
<g class="sb">
<circle cx="72.8" cy="332.9"/>
<circle cx="80.3" cy="322.3"/>
</g>
<g class="sr">
<circle cx="130.9" cy="329.6"/>
</g>
<g class="sb">
<circle cx="84.7" cy="306.2"/>
<circle cx="71.1" cy="331"/>
</g>
<g class="sr">
<circle cx="109.3" cy="323.4"/>
<circle cx="52.5" cy="358.1"/>
</g>
<g class="sb">
<circle cx="120.3" cy="315.2"/>
<circle cx="86.9" cy="371.5"/>
<circle cx="78.9" cy="303.7"/>
</g>
<g class="sr">
<circle cx="117.7" cy="362.4"/>
</g>
<g class="sb">
<circle cx="68.6" cy="291.4"/>
</g>
<g class="sr">
<circle cx="124.6" cy="311.7"/>
</g>
<g class="sb">
<circle cx="93.9" cy="312.2"/>
</g>
<g class="sr">
<circle cx="121.1" cy="315.2"/>
</g>
<g class="sb">
<circle cx="86.6" cy="304"/>
</g>
<g class="sr">
<circle cx="58.7" cy="324.8"/>
</g>
<g class="sb">
<circle cx="87.3" cy="300.3"/>
<circle cx="96.3" cy="301.3"/>
<circle cx="85.1" cy="333.1"/>
<circle cx="93.4" cy="310.5"/>
<circle cx="80.1" cy="299"/>
</g>
<g class="sr">
<circle cx="128.2" cy="311.7"/>
<circle cx="118.6" cy="296.9"/>
</g>
<g class="sb">
<circle cx="67" cy="305.4"/>
<circle cx="113.8" cy="329.2"/>
<circle cx="78" cy="335.3"/>
<circle cx="74.7" cy="326.1"/>
<circle cx="82" cy="309.4"/>
<circle cx="81.7" cy="355.4"/>
<circle cx="76.2" cy="321.6"/>
<circle cx="88" cy="301.2"/>
<circle cx="70.2" cy="321.8"/>
<circle cx="97.3" cy="331.4"/>
<circle cx="87" cy="334.7"/>
<circle cx="86.3" cy="323.2"/>
<circle cx="78.6" cy="308.8"/>
<circle cx="77.4" cy="358"/>
<circle cx="122.4" cy="333.4"/>
</g>
<g class="sr">
<circle cx="119.2" cy="311.8"/>
<circle cx="113.3" cy="325.6"/>
</g>
<g class="sb">
<circle cx="104.3" cy="310.9"/>
<circle cx="72.8" cy="291.8"/>
</g>
<g class="sr">
<circle cx="117.8" cy="333.2"/>
</g>
<g class="sb">
<circle cx="105.7" cy="325.8"/>
</g>
<g class="sg">
<circle cx="65.2" cy="302.8"/>
</g>
<g class="sb">
<circle cx="74.3" cy="318.8"/>
<circle cx="82.8" cy="306"/>
<circle cx="78.6" cy="315.7"/>
<circle cx="74.2" cy="358.1"/>
</g>
<g class="sg">
<circle cx="63.1" cy="304.8"/>
</g>
<g class="sr">
<circle cx="108.5" cy="297"/>
<circle cx="126.4" cy="307.4"/>
</g>
<g class="sb">
<circle cx="81.2" cy="292.6"/>
<circle cx="82.8" cy="313.7"/>
</g>
<g class="sr">
<circle cx="127.2" cy="309.2"/>
</g>
<g class="sb">
<circle cx="74.3" cy="324.5"/>
<circle cx="84.1" cy="318.5"/>
<circle cx="83.8" cy="302.3"/>
<circle cx="70.9" cy="300.4"/>
<circle cx="78.9" cy="311.3"/>
<circle cx="74.6" cy="300.8"/>
<circle cx="101.8" cy="319.9"/>
<circle cx="111.5" cy="300.7"/>
<circle cx="92.3" cy="307.6"/>
</g>
<g class="sr">
<circle cx="129.4" cy="313"/>
</g>
<g class="sb">
<circle cx="78.4" cy="307.5"/>
</g>
<g class="sr">
<circle cx="126.9" cy="302"/>
</g>
<g class="sb">
<circle cx="102.6" cy="302.8"/>
<circle cx="91.6" cy="314.8"/>
<circle cx="109.8" cy="304.7"/>
</g>
<g class="sr">
<circle cx="132.4" cy="321.7"/>
</g>
<g class="sb">
<circle cx="118.8" cy="323"/>
<circle cx="84.2" cy="301.1"/>
<circle cx="132.2" cy="332.9"/>
<circle cx="94.4" cy="323.5"/>
<circle cx="94.2" cy="312.4"/>
<circle cx="79.6" cy="333.9"/>
<circle cx="93.3" cy="304.3"/>
</g>
<g class="sr">
<circle cx="60.3" cy="316.4"/>
</g>
<g class="sb">
<circle cx="92.8" cy="297.9"/>
<circle cx="94.7" cy="309.7"/>
<circle cx="89.4" cy="312.6"/>
<circle cx="92.9" cy="304.5"/>
</g>
<g class="sg">
<circle cx="63" cy="341.9"/>
</g>
<g class="sb">
<circle cx="116.3" cy="323.3"/>
<circle cx="94.7" cy="312.8"/>
</g>
<g class="sr">
<circle cx="119.2" cy="299.9"/>
</g>
<g class="sb">
<circle cx="80.2" cy="295.4"/>
<circle cx="88.8" cy="308.6"/>
<circle cx="113.4" cy="329.7"/>
<circle cx="136.1" cy="343.1"/>
<circle cx="104.9" cy="305.5"/>
</g>
<g class="sr">
<circle cx="122.3" cy="314.6"/>
<circle cx="116.5" cy="323"/>
</g>
<g class="sb">
<circle cx="79.1" cy="313.3"/>
<circle cx="90.6" cy="323.4"/>
<circle cx="80.5" cy="316.1"/>
</g>
<g class="sr">
<circle cx="127.3" cy="351.3"/>
</g>
<g class="sb">
<circle cx="94.8" cy="312.3"/>
<circle cx="83" cy="328.7"/>
<circle cx="102.9" cy="323"/>
<circle cx="135.5" cy="333.8"/>
<circle cx="83.4" cy="298.5"/>
</g>
<g class="sg">
<circle cx="74.1" cy="298.6"/>
</g>
<g class="sb">
<circle cx="108.4" cy="319.4"/>
</g>
<g class="sr">
<circle cx="134.1" cy="311.5"/>
<circle cx="113.7" cy="347.2"/>
</g>
<g class="sb">
<circle cx="76.2" cy="323.4"/>
<circle cx="87" cy="315.1"/>
<circle cx="86.2" cy="303.2"/>
<circle cx="94.7" cy="315"/>
<circle cx="76.4" cy="318.6"/>
<circle cx="80" cy="373"/>
</g>
<g class="sr">
<circle cx="125.7" cy="321.5"/>
</g>
<g class="sb">
<circle cx="90.4" cy="337"/>
<circle cx="89.7" cy="322"/>
<circle cx="96.9" cy="289.2"/>
<circle cx="83.7" cy="304.7"/>
</g>
<g class="sg">
<circle cx="76.2" cy="294.3"/>
</g>
<g class="sb">
<circle cx="108.5" cy="311.1"/>
<circle cx="91.2" cy="304.6"/>
<circle cx="72.5" cy="332"/>
<circle cx="103.9" cy="309.4"/>
<circle cx="87.5" cy="332.6"/>
<circle cx="91.8" cy="292.6"/>
<circle cx="71.1" cy="317.8"/>
<circle cx="91.5" cy="331.5"/>
</g>
<g class="sr">
<circle cx="125" cy="309.5"/>
<circle cx="121" cy="319.1"/>
</g>
<g class="sb">
<circle cx="77.5" cy="299.2"/>
<circle cx="72.4" cy="300"/>
<circle cx="83.6" cy="306.2"/>
<circle cx="84.1" cy="306"/>
</g>
<g class="sr">
<circle cx="106.6" cy="299.4"/>
<circle cx="99.7" cy="298.7"/>
</g>
<g class="sb">
<circle cx="75.3" cy="297.5"/>
</g>
<g class="sr">
<circle cx="90.6" cy="300.7"/>
</g>
<g class="sb">
<circle cx="82.8" cy="328"/>
<circle cx="80.7" cy="302.7"/>
<circle cx="76.2" cy="310.9"/>
</g>
<g class="sr">
<circle cx="123.9" cy="312.6"/>
<circle cx="128.2" cy="330.6"/>
<circle cx="122.1" cy="311.7"/>
</g>
<g class="sb">
<circle cx="74.8" cy="289.3"/>
<circle cx="90.6" cy="316.1"/>
<circle cx="79.8" cy="309"/>
<circle cx="78.3" cy="289.9"/>
<circle cx="88.5" cy="327"/>
<circle cx="77.2" cy="294.3"/>
<circle cx="96.4" cy="312.5"/>
</g>
<g class="sr">
<circle cx="53.8" cy="368.2"/>
<circle cx="54.4" cy="280"/>
</g>
<g class="sb">
<circle cx="75.2" cy="290.8"/>
</g>
<g class="sr">
<circle cx="48.7" cy="297.9"/>
</g>
<g class="sb">
<circle cx="83" cy="313.9"/>
</g>
<g class="sr">
<circle cx="125.1" cy="324.7"/>
<circle cx="118" cy="314.4"/>
</g>
<g class="sb">
<circle cx="68.8" cy="317.7"/>
<circle cx="87.2" cy="313.7"/>
</g>
<g class="sr">
<circle cx="87" cy="331.8"/>
<circle cx="131.8" cy="327.8"/>
</g>
<g class="sb">
<circle cx="125.3" cy="367.8"/>
<circle cx="106.3" cy="319.2"/>
<circle cx="83.3" cy="322.8"/>
<circle cx="90.5" cy="325.7"/>
<circle cx="89.8" cy="313.2"/>
<circle cx="84.5" cy="360"/>
<circle cx="90.8" cy="296.1"/>
</g>
<g class="sr">
<circle cx="121.9" cy="332.6"/>
</g>
<g class="sb">
<circle cx="99.8" cy="307.5"/>
<circle cx="89.2" cy="301"/>
</g>
<g class="sg">
<circle cx="70.2" cy="316.3"/>
</g>
<g class="sb">
<circle cx="92.1" cy="288.1"/>
<circle cx="84.5" cy="296.9"/>
<circle cx="77.8" cy="321.7"/>
</g>
<g class="sg">
<circle cx="62.3" cy="357.1"/>
</g>
<g class="sb">
<circle cx="75.2" cy="293.4"/>
</g>
<g class="sg">
<circle cx="54.9" cy="359.9"/>
</g>
<g class="sr">
<circle cx="57.8" cy="337.9"/>
</g>
<g class="sb">
<circle cx="68.1" cy="300.1"/>
<circle cx="73.8" cy="308.1"/>
<circle cx="88.2" cy="324.6"/>
<circle cx="90.3" cy="306.2"/>
<circle cx="86.5" cy="332.8"/>
</g>
<g class="sr">
<circle cx="66.5" cy="350.1"/>
</g>
<g class="sb">
<circle cx="77.4" cy="338.7"/>
<circle cx="88.7" cy="302.2"/>
<circle cx="87.4" cy="308.3"/>
</g>
<g class="sr">
<circle cx="115.7" cy="318.6"/>
</g>
<g class="sb">
<circle cx="99.4" cy="316.6"/>
<circle cx="140.3" cy="334.6"/>
<circle cx="82.3" cy="311.4"/>
<circle cx="105.1" cy="324.5"/>
</g>
<g class="sr">
<circle cx="103.3" cy="348.2"/>
</g>
<g class="sb">
<circle cx="90" cy="293.1"/>
<circle cx="76.7" cy="360.4"/>
<circle cx="86.6" cy="306.2"/>
<circle cx="93.3" cy="334.5"/>
<circle cx="96.7" cy="322.9"/>
<circle cx="87.3" cy="302.1"/>
<circle cx="93.9" cy="342.1"/>
<circle cx="96.3" cy="307.2"/>
</g>
<g class="sr">
<circle cx="115.5" cy="303.9"/>
</g>
<g class="sb">
<circle cx="86.7" cy="319.7"/>
<circle cx="55.1" cy="360.1"/>
</g>
<g class="sr">
<circle cx="86.4" cy="298"/>
</g>
<g class="sb">
<circle cx="104.2" cy="316.2"/>
<circle cx="87.2" cy="337"/>
<circle cx="55.4" cy="349.9"/>
<circle cx="125.4" cy="372"/>
<circle cx="75.6" cy="293.3"/>
<circle cx="76.6" cy="321.4"/>
<circle cx="79.7" cy="319.3"/>
</g>
<g class="sr">
<circle cx="120.5" cy="310.5"/>
</g>
<g class="sb">
<circle cx="97.7" cy="312.9"/>
<circle cx="90.5" cy="327.6"/>
<circle cx="71.1" cy="294.3"/>
<circle cx="77.7" cy="373.9"/>
</g>
<g class="sr">
<circle cx="122.1" cy="342.5"/>
</g>
<g class="sg">
<circle cx="78.2" cy="291.6"/>
</g>
<g class="sr">
<circle cx="99.9" cy="310.5"/>
</g>
<g class="sb">
<circle cx="87.4" cy="305.2"/>
<circle cx="114.2" cy="313"/>
<circle cx="78.4" cy="301.8"/>
</g>
<g class="sr">
<circle cx="123.6" cy="349.6"/>
</g>
<g class="sb">
<circle cx="85.9" cy="300.5"/>
<circle cx="69.4" cy="303.3"/>
<circle cx="85.1" cy="364.7"/>
<circle cx="75.6" cy="308.7"/>
<circle cx="103.2" cy="332.2"/>
<circle cx="104.8" cy="330.4"/>
<circle cx="76.7" cy="334.1"/>
<circle cx="86.6" cy="329.9"/>
</g>
<g class="sr">
<circle cx="138" cy="344.2"/>
</g>
<g class="sb">
<circle cx="134.7" cy="312.3"/>
<circle cx="85.2" cy="317.4"/>
<circle cx="90.7" cy="336.3"/>
</g>
<g class="sr">
<circle cx="117.3" cy="296.2"/>
<circle cx="82.4" cy="298.4"/>
</g>
<g class="sb">
<circle cx="87.7" cy="289.7"/>
<circle cx="72.2" cy="290.3"/>
</g>
<g class="sr">
<circle cx="122.6" cy="306.8"/>
</g>
<g class="sb">
<circle cx="91.2" cy="313.5"/>
<circle cx="127.2" cy="321.4"/>
<circle cx="121.9" cy="309.5"/>
<circle cx="93.2" cy="313.3"/>
<circle cx="83.6" cy="317.6"/>
</g>
<g class="sr">
<circle cx="123.5" cy="325.4"/>
</g>
<g class="sb">
<circle cx="92.4" cy="355.5"/>
<circle cx="78.2" cy="323.4"/>
<circle cx="76.9" cy="300.4"/>
<circle cx="88.2" cy="308"/>
</g>
<g class="sr">
<circle cx="116.9" cy="298.5"/>
</g>
<g class="sb">
<circle cx="88.4" cy="291.7"/>
<circle cx="85.2" cy="347.8"/>
</g>
<g class="sr">
<circle cx="120.1" cy="318.3"/>
<circle cx="129.8" cy="313.8"/>
</g>
<g class="sb">
<circle cx="73.9" cy="301.4"/>
</g>
<g class="sg">
<circle cx="77.6" cy="319.6"/>
<circle cx="76.8" cy="302.3"/>
</g>
<g class="sr">
<circle cx="126.1" cy="320.5"/>
</g>
<g class="sb">
<circle cx="74.1" cy="291.6"/>
<circle cx="92.1" cy="331.6"/>
</g>
<g class="sr">
<circle cx="120.6" cy="331.1"/>
</g>
<g class="sb">
<circle cx="90.3" cy="317.2"/>
<circle cx="92.4" cy="303.9"/>
</g>
<g class="sr">
<circle cx="116.1" cy="340.6"/>
</g>
<g class="sb">
<circle cx="110.6" cy="310.6"/>
<circle cx="103.8" cy="307.9"/>
<circle cx="75" cy="327.2"/>
<circle cx="86.6" cy="310.4"/>
</g>
<g class="sr">
<circle cx="98.4" cy="312.3"/>
<circle cx="109" cy="310.3"/>
</g>
<g class="sb">
<circle cx="80.8" cy="313.5"/>
<circle cx="119.5" cy="315.1"/>
<circle cx="97.4" cy="318.6"/>
<circle cx="95.1" cy="302.6"/>
<circle cx="84.9" cy="304.7"/>
<circle cx="81.5" cy="314"/>
<circle cx="75.7" cy="319.1"/>
<circle cx="81.5" cy="331.8"/>
<circle cx="81.2" cy="352.4"/>
</g>
<g class="sr">
<circle cx="109.1" cy="328"/>
<circle cx="116.9" cy="304.9"/>
<circle cx="53.2" cy="351.6"/>
</g>
<g class="sb">
<circle cx="129.2" cy="367.1"/>
<circle cx="76.9" cy="362"/>
<circle cx="82.4" cy="362.3"/>
<circle cx="98.2" cy="326.3"/>
<circle cx="73.6" cy="333.2"/>
<circle cx="78.5" cy="298.4"/>
<circle cx="93.3" cy="292.1"/>
<circle cx="85.5" cy="299.5"/>
<circle cx="84.6" cy="320.6"/>
</g>
<g class="sg">
<circle cx="67.1" cy="305.2"/>
</g>
<g class="sb">
<circle cx="114.5" cy="302.5"/>
<circle cx="83.7" cy="318.1"/>
<circle cx="101" cy="314.9"/>
<circle cx="84.1" cy="335.9"/>
</g>
<g class="sg">
<circle cx="71.2" cy="289.9"/>
</g>
<g class="sr">
<circle cx="111.6" cy="320.2"/>
</g>
<g class="sb">
<circle cx="103.9" cy="367.8"/>
</g>
<g class="sr">
<circle cx="123" cy="313.5"/>
</g>
<g class="sb">
<circle cx="91.5" cy="288.5"/>
</g>
<g class="sg">
<circle cx="70.8" cy="317.3"/>
</g>
<g class="sb">
<circle cx="93.9" cy="307.6"/>
<circle cx="86.3" cy="312.2"/>
<circle cx="87.7" cy="320.3"/>
<circle cx="105.7" cy="298.8"/>
<circle cx="103.9" cy="320.2"/>
<circle cx="90.5" cy="368.7"/>
<circle cx="73.4" cy="295.5"/>
<circle cx="81.6" cy="301.5"/>
<circle cx="85.3" cy="325.3"/>
<circle cx="89.3" cy="312.2"/>
</g>
<g class="sr">
<circle cx="110.5" cy="323.3"/>
<circle cx="123.8" cy="320.2"/>
</g>
<g class="sb">
<circle cx="77.8" cy="329.1"/>
<circle cx="99" cy="321.3"/>
<circle cx="77.2" cy="333.8"/>
</g>
<g class="sr">
<circle cx="90.3" cy="294.7"/>
<circle cx="98.4" cy="302"/>
<circle cx="100.9" cy="311.6"/>
<circle cx="136.9" cy="327.2"/>
<circle cx="106.7" cy="306.8"/>
</g>
<g class="sb">
<circle cx="80.1" cy="357.7"/>
</g>
<g class="sr">
<circle cx="96.8" cy="364"/>
</g>
<g class="sb">
<circle cx="75.6" cy="299.7"/>
<circle cx="90.5" cy="318.4"/>
<circle cx="79.7" cy="297.9"/>
<circle cx="114.3" cy="332.5"/>
<circle cx="113.8" cy="331"/>
</g>
<g class="sg">
<circle cx="79.3" cy="282.3"/>
</g>
<g class="sb">
<circle cx="133.3" cy="337.9"/>
<circle cx="85.2" cy="313.8"/>
<circle cx="84.2" cy="342.6"/>
<circle cx="80.4" cy="289.9"/>
<circle cx="105" cy="324"/>
<circle cx="134.6" cy="341.1"/>
<circle cx="107.3" cy="326.9"/>
</g>
<g class="sg">
<circle cx="59.7" cy="345.7"/>
</g>
<g class="sb">
<circle cx="105.2" cy="305.5"/>
<circle cx="78.4" cy="337.3"/>
</g>
<g class="sr">
<circle cx="48.6" cy="359.4"/>
<circle cx="109.6" cy="332.1"/>
<circle cx="69.5" cy="321.6"/>
</g>
<g class="sb">
<circle cx="96.4" cy="304.7"/>
<circle cx="94" cy="322.4"/>
<circle cx="80.9" cy="331.1"/>
<circle cx="91" cy="308.1"/>
<circle cx="68" cy="303.5"/>
</g>
<g class="sr">
<circle cx="122.9" cy="328.5"/>
</g>
<g class="sb">
<circle cx="72.5" cy="301.9"/>
<circle cx="67.1" cy="316.8"/>
<circle cx="73.1" cy="311.4"/>
</g>
<g class="sr">
<circle cx="55.9" cy="283.9"/>
</g>
<g class="sb">
<circle cx="67.5" cy="336.3"/>
</g>
<g class="sr">
<circle cx="71" cy="285.2"/>
<circle cx="60.3" cy="349.1"/>
</g>
<g class="sb">
<circle cx="84.8" cy="351.7"/>
</g>
<g class="sg">
<circle cx="75.9" cy="303"/>
</g>
<g class="sb">
<circle cx="101" cy="314.6"/>
</g>
<g class="sr">
<circle cx="99.7" cy="305.4"/>
</g>
<g class="sb">
<circle cx="87.6" cy="300.1"/>
<circle cx="109" cy="329.9"/>
</g>
<g class="sr">
<circle cx="106.1" cy="313.7"/>
</g>
<g class="sb">
<circle cx="78.1" cy="305.3"/>
<circle cx="62.9" cy="306.8"/>
<circle cx="85.7" cy="320.1"/>
</g>
<g class="sr">
<circle cx="112.2" cy="330"/>
<circle cx="112.2" cy="305.6"/>
</g>
<g class="sb">
<circle cx="75.5" cy="287.5"/>
</g>
<g class="sr">
<circle cx="96" cy="314.1"/>
</g>
<g class="sb">
<circle cx="81.3" cy="322.9"/>
<circle cx="77.1" cy="324.8"/>
<circle cx="73.3" cy="293"/>
</g>
<g class="sg">
<circle cx="70.2" cy="298.7"/>
</g>
<g class="sr">
<circle cx="119.5" cy="323.7"/>
<circle cx="62.2" cy="288.9"/>
</g>
<g class="sb">
<circle cx="70.4" cy="320.6"/>
<circle cx="92.8" cy="316.9"/>
<circle cx="140.4" cy="323.6"/>
<circle cx="131.4" cy="331.7"/>
</g>
<g class="sr">
<circle cx="126.4" cy="319.6"/>
</g>
<g class="sb">
<circle cx="49.7" cy="281.8"/>
</g>
<g class="sr">
<circle cx="125.8" cy="317.5"/>
</g>
<g class="sb">
<circle cx="102.1" cy="312"/>
<circle cx="83" cy="312.3"/>
</g>
<g class="sr">
<circle cx="98.9" cy="294.6"/>
</g>
<g class="sb">
<circle cx="80.2" cy="303.2"/>
<circle cx="82.6" cy="344.2"/>
<circle cx="75.8" cy="292.7"/>
<circle cx="110.6" cy="340.6"/>
<circle cx="69.2" cy="323.6"/>
<circle cx="73" cy="303.5"/>
</g>
<g class="sr">
<circle cx="49.2" cy="318"/>
</g>
<g class="sb">
<circle cx="79.4" cy="324.5"/>
<circle cx="94.8" cy="304.2"/>
</g>
<g class="sg">
<circle cx="78.7" cy="304.5"/>
</g>
<g class="sb">
<circle cx="92.7" cy="307.2"/>
<circle cx="140.6" cy="321.7"/>
<circle cx="81.2" cy="303.4"/>
<circle cx="88.1" cy="327.7"/>
<circle cx="104.2" cy="321.4"/>
<circle cx="82.6" cy="320.4"/>
<circle cx="99.4" cy="301.5"/>
</g>
<g class="sg">
<circle cx="74" cy="302.9"/>
</g>
<g class="sb">
<circle cx="128.5" cy="339"/>
<circle cx="87.6" cy="309.5"/>
<circle cx="77.6" cy="305.9"/>
</g>
<g class="sr">
<circle cx="139.5" cy="301.4"/>
<circle cx="121.5" cy="306.6"/>
</g>
<g class="sb">
<circle cx="54.3" cy="359.1"/>
<circle cx="98.1" cy="334.9"/>
<circle cx="81.7" cy="298.6"/>
<circle cx="71.4" cy="303.7"/>
<circle cx="142" cy="348.2"/>
<circle cx="87.4" cy="288"/>
</g>
<g class="sr">
<circle cx="60.3" cy="301.5"/>
</g>
<g class="sb">
<circle cx="107.7" cy="293.9"/>
<circle cx="88.7" cy="321.6"/>
<circle cx="92.6" cy="323.6"/>
<circle cx="78.2" cy="307"/>
</g>
<g class="sr">
<circle cx="55.3" cy="344"/>
</g>
<g class="sb">
<circle cx="83.8" cy="326.8"/>
<circle cx="82.3" cy="324.3"/>
</g>
<g class="sg">
<circle cx="73.1" cy="290.4"/>
</g>
<g class="sb">
<circle cx="83.9" cy="300.9"/>
<circle cx="82.2" cy="295.8"/>
<circle cx="78.6" cy="326.7"/>
<circle cx="76.8" cy="300.7"/>
<circle cx="72.9" cy="319.7"/>
<circle cx="93.9" cy="311.6"/>
</g>
<g class="sr">
<circle cx="113.5" cy="322.3"/>
<circle cx="100.5" cy="320.3"/>
</g>
<g class="sg">
<circle cx="64.7" cy="298"/>
</g>
<g class="sb">
<circle cx="83.9" cy="319.5"/>
</g>
<g class="sr">
<circle cx="94.7" cy="316"/>
</g>
<g class="sb">
<circle cx="74" cy="305.4"/>
<circle cx="77" cy="332.7"/>
<circle cx="72.4" cy="336"/>
<circle cx="86.6" cy="309.3"/>
</g>
<g class="sg">
<circle cx="49" cy="293"/>
</g>
<g class="sb">
<circle cx="77.9" cy="325.2"/>
<circle cx="76" cy="298.2"/>
</g>
<g class="sr">
<circle cx="68.3" cy="355.5"/>
</g>
<g class="sb">
<circle cx="88.1" cy="307.6"/>
<circle cx="86.5" cy="320.6"/>
</g>
<g class="sr">
<circle cx="93.7" cy="340.4"/>
<circle cx="57.5" cy="348.3"/>
</g>
<g class="sb">
<circle cx="90" cy="339.2"/>
<circle cx="84.7" cy="331.8"/>
<circle cx="141.5" cy="299.4"/>
<circle cx="102.8" cy="364.6"/>
<circle cx="78.3" cy="312.7"/>
<circle cx="70.4" cy="306.9"/>
<circle cx="80.3" cy="340"/>
<circle cx="95.2" cy="301"/>
<circle cx="89.8" cy="293.4"/>
<circle cx="123" cy="330.3"/>
<circle cx="72" cy="355.3"/>
<circle cx="94.4" cy="339.7"/>
<circle cx="78.1" cy="308.9"/>
<circle cx="77.2" cy="313"/>
</g>
<g class="sr">
<circle cx="109.1" cy="317.2"/>
</g>
<g class="sb">
<circle cx="48.2" cy="326.3"/>
<circle cx="92.7" cy="310.9"/>
<circle cx="90.8" cy="319"/>
</g>
<g class="sr">
<circle cx="72.1" cy="289"/>
<circle cx="121.9" cy="322.8"/>
</g>
<g class="sb">
<circle cx="86.2" cy="323.3"/>
<circle cx="79.2" cy="304.8"/>
<circle cx="80.9" cy="323.8"/>
<circle cx="93.8" cy="330.8"/>
</g>
<g class="sr">
<circle cx="112.3" cy="326.4"/>
<circle cx="78.1" cy="302.7"/>
<circle cx="112.2" cy="320.3"/>
</g>
<g class="sb">
<circle cx="72.5" cy="327.7"/>
<circle cx="134.7" cy="317.5"/>
<circle cx="74.2" cy="309.6"/>
<circle cx="92.6" cy="323.7"/>
</g>
<g class="sr">
<circle cx="83.7" cy="355.6"/>
</g>
<g class="sb">
<circle cx="133.4" cy="333"/>
<circle cx="75.7" cy="299.2"/>
<circle cx="81.6" cy="301.4"/>
</g>
<g class="sr">
<circle cx="124.2" cy="311.3"/>
</g>
<g class="sb">
<circle cx="97.5" cy="332.4"/>
<circle cx="91.6" cy="316.8"/>
<circle cx="130.9" cy="330.2"/>
<circle cx="137" cy="372"/>
</g>
<g class="sr">
<circle cx="99.2" cy="347.8"/>
</g>
<g class="sb">
<circle cx="92" cy="306.7"/>
<circle cx="93.4" cy="333.9"/>
<circle cx="85.2" cy="286.6"/>
<circle cx="80.3" cy="315.5"/>
</g>
<g class="sr">
<circle cx="108.8" cy="334.1"/>
</g>
<g class="sb">
<circle cx="81.6" cy="294.2"/>
</g>
<g class="sr">
<circle cx="120.5" cy="317.5"/>
</g>
<g class="sb">
<circle cx="95.5" cy="324.2"/>
<circle cx="101" cy="318.9"/>
<circle cx="90.5" cy="300.1"/>
<circle cx="76.4" cy="313.7"/>
<circle cx="84.6" cy="332.3"/>
<circle cx="75.9" cy="315.4"/>
<circle cx="90.5" cy="314.7"/>
<circle cx="92.9" cy="328.5"/>
<circle cx="122.2" cy="326"/>
<circle cx="88.6" cy="321.1"/>
<circle cx="78.7" cy="327.8"/>
<circle cx="98.8" cy="298.4"/>
<circle cx="68.2" cy="313.2"/>
<circle cx="100.9" cy="326.1"/>
<circle cx="89.4" cy="313.9"/>
</g>
<g class="sr">
<circle cx="75.1" cy="374.4"/>
<circle cx="98.1" cy="312.1"/>
</g>
<g class="sb">
<circle cx="83.4" cy="332.8"/>
<circle cx="91.8" cy="310.7"/>
<circle cx="85.5" cy="341.3"/>
<circle cx="134.9" cy="294.7"/>
<circle cx="91.2" cy="305.7"/>
<circle cx="76.8" cy="308.2"/>
<circle cx="83.3" cy="314.9"/>
</g>
<g class="sg">
<circle cx="68.5" cy="293.9"/>
</g>
<g class="sr">
<circle cx="120" cy="303.9"/>
</g>
<g class="sb">
<circle cx="82.4" cy="330.7"/>
<circle cx="142" cy="323.8"/>
<circle cx="85.4" cy="330.6"/>
</g>
<g class="sr">
<circle cx="142.5" cy="327.4"/>
</g>
<g class="sb">
<circle cx="99.5" cy="331"/>
<circle cx="115.4" cy="332.6"/>
</g>
<g class="sr">
<circle cx="116.8" cy="318.4"/>
</g>
<g class="sb">
<circle cx="81.7" cy="339.2"/>
</g>
<g class="sr">
<circle cx="111.5" cy="302.1"/>
</g>
<g class="sg">
<circle cx="75.5" cy="307"/>
</g>
<g class="sr">
<circle cx="108.9" cy="302.6"/>
</g>
<g class="sb">
<circle cx="89.7" cy="345.9"/>
</g>
<g class="sr">
<circle cx="135.5" cy="320.4"/>
</g>
<g class="sb">
<circle cx="86.5" cy="307.5"/>
<circle cx="92.3" cy="334.4"/>
<circle cx="94.8" cy="313.1"/>
<circle cx="70.8" cy="312.5"/>
<circle cx="126.8" cy="317"/>
</g>
<g class="sr">
<circle cx="84.7" cy="370.8"/>
</g>
<g class="sb">
<circle cx="93.8" cy="320.8"/>
<circle cx="65.6" cy="301.9"/>
<circle cx="129.2" cy="334.7"/>
<circle cx="81.9" cy="324"/>
</g>
<g class="sg">
<circle cx="70.8" cy="301.8"/>
</g>
<g class="sb">
<circle cx="74.4" cy="364.2"/>
</g>
<g class="sr">
<circle cx="97.3" cy="321.6"/>
</g>
<g class="sb">
<circle cx="137.8" cy="329.9"/>
<circle cx="87.1" cy="340.6"/>
</g>
<g class="sg">
<circle cx="59.7" cy="311.2"/>
</g>
<g class="sb">
<circle cx="93.6" cy="332.4"/>
<circle cx="76.3" cy="294.3"/>
<circle cx="90.9" cy="332.3"/>
<circle cx="75.7" cy="345.1"/>
</g>
<g class="sr">
<circle cx="122.8" cy="310.4"/>
</g>
<g class="sb">
<circle cx="88.5" cy="308.9"/>
<circle cx="78.4" cy="369.6"/>
<circle cx="137.9" cy="326.7"/>
</g>
<g class="sg">
<circle cx="73.2" cy="314.7"/>
</g>
<g class="sb">
<circle cx="75.4" cy="307.3"/>
</g>
<g class="sg">
<circle cx="71.6" cy="291.6"/>
</g>
<g class="sb">
<circle cx="70.3" cy="364.8"/>
</g>
<g class="sr">
<circle cx="98.3" cy="330.4"/>
</g>
<g class="sb">
<circle cx="108.3" cy="343.9"/>
<circle cx="48.8" cy="353.7"/>
<circle cx="99.3" cy="335.8"/>
<circle cx="99.7" cy="289.9"/>
</g>
<g class="sg">
<circle cx="61.3" cy="298.9"/>
</g>
<g class="sb">
<circle cx="72.1" cy="289.6"/>
<circle cx="87" cy="346"/>
<circle cx="87.2" cy="315.6"/>
<circle cx="104.1" cy="322.7"/>
<circle cx="82.4" cy="316.1"/>
<circle cx="94.1" cy="309.9"/>
<circle cx="82.6" cy="306.2"/>
<circle cx="94.2" cy="289.9"/>
</g>
<g class="sr">
<circle cx="136.7" cy="323.9"/>
</g>
<g class="sb">
<circle cx="130.2" cy="332.4"/>
<circle cx="73.2" cy="298.6"/>
<circle cx="72.2" cy="322.5"/>
</g>
<g class="sr">
<circle cx="139.4" cy="313"/>
</g>
<g class="sb">
<circle cx="87" cy="291"/>
<circle cx="80.7" cy="310.8"/>
<circle cx="83.2" cy="291.6"/>
<circle cx="83" cy="334.1"/>
<circle cx="70.2" cy="313.4"/>
<circle cx="74.9" cy="306.5"/>
<circle cx="97.5" cy="301.3"/>
<circle cx="88.8" cy="343.8"/>
<circle cx="89" cy="327.5"/>
<circle cx="95.6" cy="310"/>
</g>
<g class="sr">
<circle cx="109" cy="317.4"/>
</g>
<g class="sb">
<circle cx="87.4" cy="318.6"/>
<circle cx="72" cy="312.9"/>
<circle cx="83.5" cy="290.9"/>
</g>
<g class="sg">
<circle cx="68.3" cy="296.5"/>
</g>
<g class="sb">
<circle cx="79.3" cy="303.6"/>
<circle cx="82.6" cy="333.6"/>
<circle cx="72.3" cy="311.8"/>
<circle cx="98.7" cy="328.2"/>
</g>
<g class="sr">
<circle cx="123.2" cy="307.1"/>
</g>
<g class="sb">
<circle cx="72.3" cy="292.4"/>
<circle cx="90.5" cy="314.4"/>
<circle cx="96.1" cy="320.5"/>
<circle cx="77.6" cy="302.2"/>
</g>
<g class="sg">
<circle cx="76.7" cy="298.5"/>
</g>
<g class="sb">
<circle cx="93.7" cy="310.8"/>
</g>
<g class="sr">
<circle cx="106.1" cy="309.2"/>
</g>
<g class="sb">
<circle cx="89.5" cy="298.3"/>
<circle cx="83.6" cy="314"/>
<circle cx="89.8" cy="316.9"/>
<circle cx="96.4" cy="310.3"/>
<circle cx="77.6" cy="326.1"/>
<circle cx="94.6" cy="338"/>
</g>
<g class="sr">
<circle cx="127.1" cy="303.7"/>
</g>
<g class="sb">
<circle cx="100.3" cy="305.2"/>
</g>
<g class="sr">
<circle cx="76.8" cy="362.7"/>
</g>
<g class="sb">
<circle cx="81.8" cy="335.1"/>
</g>
<g class="sr">
<circle cx="131.2" cy="313.9"/>
</g>
<g class="sb">
<circle cx="92" cy="314.8"/>
<circle cx="82.5" cy="310.3"/>
<circle cx="89.6" cy="332.7"/>
</g>
<g class="sg">
<circle cx="52.4" cy="324.8"/>
</g>
<g class="sb">
<circle cx="89" cy="331.3"/>
<circle cx="81" cy="304.6"/>
<circle cx="73.4" cy="310.8"/>
</g>
<g class="sr">
<circle cx="85.9" cy="360.8"/>
</g>
<g class="sb">
<circle cx="78.3" cy="319.9"/>
</g>
<g class="sr">
<circle cx="101.2" cy="299"/>
</g>
<g class="sb">
<circle cx="73.5" cy="302.3"/>
<circle cx="73.9" cy="316.3"/>
<circle cx="71.2" cy="309.9"/>
<circle cx="76.5" cy="304.7"/>
</g>
<g class="sr">
<circle cx="108.5" cy="306.2"/>
<circle cx="113.3" cy="311.6"/>
</g>
<g class="sb">
<circle cx="103.2" cy="311.3"/>
<circle cx="79.2" cy="310.3"/>
<circle cx="81.9" cy="345.5"/>
<circle cx="102.1" cy="302.3"/>
<circle cx="81.9" cy="297.7"/>
<circle cx="84.3" cy="311.7"/>
<circle cx="84.2" cy="322.1"/>
<circle cx="76.5" cy="300.2"/>
<circle cx="74.7" cy="335.8"/>
<circle cx="79.4" cy="317.4"/>
<circle cx="73.5" cy="315"/>
</g>
<g class="sr">
<circle cx="116.3" cy="334.3"/>
</g>
<g class="sb">
<circle cx="82.9" cy="310.5"/>
<circle cx="98.3" cy="316.5"/>
<circle cx="71.7" cy="290.4"/>
<circle cx="109.9" cy="318.3"/>
<circle cx="98" cy="317.6"/>
<circle cx="83.4" cy="313.1"/>
<circle cx="103.4" cy="347.4"/>
</g>
<g class="sr">
<circle cx="129.8" cy="319.2"/>
</g>
<g class="sb">
<circle cx="85.4" cy="347.1"/>
<circle cx="71.4" cy="309.6"/>
<circle cx="71.2" cy="293.3"/>
</g>
<g class="sg">
<circle cx="91.8" cy="307.7"/>
</g>
<g class="sb">
<circle cx="135.6" cy="311"/>
</g>
<g class="sg">
<circle cx="72.5" cy="314.3"/>
</g>
<g class="sb">
<circle cx="95.7" cy="306.8"/>
</g>
<g class="sr">
<circle cx="114.6" cy="303.4"/>
</g>
<g class="sb">
<circle cx="64" cy="289.3"/>
<circle cx="135.5" cy="347.7"/>
<circle cx="55.7" cy="319.5"/>
<circle cx="70.8" cy="304.8"/>
</g>
<g class="sg">
<circle cx="77.1" cy="290.7"/>
</g>
<g class="sb">
<circle cx="114.8" cy="316.9"/>
<circle cx="77.9" cy="343.5"/>
<circle cx="77.1" cy="322.4"/>
<circle cx="80.7" cy="295.8"/>
<circle cx="91.7" cy="306.8"/>
<circle cx="123.7" cy="335"/>
<circle cx="84.8" cy="309.4"/>
</g>
<g class="sr">
<circle cx="123.2" cy="307.5"/>
</g>
<g class="sb">
<circle cx="135" cy="343.8"/>
<circle cx="68.2" cy="301.7"/>
<circle cx="105.1" cy="309.4"/>
</g>
<g class="sr">
<circle cx="138.4" cy="316.1"/>
</g>
<g class="sb">
<circle cx="71.4" cy="300.2"/>
</g>
<g class="sr">
<circle cx="84.8" cy="369.3"/>
</g>
<g class="sb">
<circle cx="132.9" cy="326"/>
<circle cx="126.9" cy="317.6"/>
</g>
<g class="sr">
<circle cx="92.2" cy="364.8"/>
</g>
<g class="sb">
<circle cx="93.1" cy="311.9"/>
</g>
<g class="sr">
<circle cx="113.3" cy="328.1"/>
</g>
<g class="sb">
<circle cx="83.7" cy="373.1"/>
<circle cx="78.2" cy="330.4"/>
<circle cx="86.7" cy="368.9"/>
</g>
<g class="sr">
<circle cx="100" cy="325"/>
<circle cx="111.7" cy="318.9"/>
</g>
<g class="sb">
<circle cx="90.2" cy="288.4"/>
<circle cx="85.3" cy="330.3"/>
<circle cx="92.1" cy="317.1"/>
<circle cx="88.7" cy="344.2"/>
<circle cx="89.2" cy="290.3"/>
</g>
<g class="sr">
<circle cx="106" cy="299.4"/>
</g>
<g class="sb">
<circle cx="75.3" cy="293"/>
<circle cx="113.9" cy="314.4"/>
<circle cx="82.7" cy="347.9"/>
<circle cx="90.7" cy="301.9"/>
<circle cx="79.9" cy="345.4"/>
</g>
<g class="sr">
<circle cx="121.7" cy="324.7"/>
<circle cx="115.7" cy="318.8"/>
</g>
<g class="sb">
<circle cx="104.6" cy="301.7"/>
<circle cx="112.3" cy="334.1"/>
<circle cx="90.2" cy="312.2"/>
</g>
<g class="sr">
<circle cx="121.3" cy="340.7"/>
</g>
<g class="sb">
<circle cx="80.5" cy="316.1"/>
</g>
<g class="sr">
<circle cx="86.4" cy="285.2"/>
<circle cx="54.5" cy="372.5"/>
</g>
<g class="sb">
<circle cx="86.1" cy="313.9"/>
<circle cx="83.6" cy="328.3"/>
<circle cx="70.8" cy="300.4"/>
<circle cx="77.9" cy="327.4"/>
<circle cx="78" cy="291"/>
</g>
<g class="sg">
<circle cx="65.8" cy="303"/>
</g>
<g class="sr">
<circle cx="115.8" cy="302.3"/>
</g>
<g class="sb">
<circle cx="91" cy="344.1"/>
</g>
<g class="sg">
<circle cx="88" cy="297.3"/>
</g>
<g class="sr">
<circle cx="110.4" cy="284.8"/>
<circle cx="114.6" cy="308.5"/>
</g>
<g class="sb">
<circle cx="77.9" cy="291.9"/>
</g>
<g class="sr">
<circle cx="66.2" cy="347"/>
</g>
<g class="sb">
<circle cx="90.6" cy="305.4"/>
<circle cx="78.1" cy="326.4"/>
<circle cx="93.8" cy="289.3"/>
<circle cx="120.6" cy="314.4"/>
</g>
<g class="sr">
<circle cx="113.3" cy="305.5"/>
</g>
<g class="sb">
<circle cx="72.3" cy="300.8"/>
<circle cx="81.6" cy="296.7"/>
</g>
<g class="sr">
<circle cx="99.3" cy="301"/>
</g>
<g class="sb">
<circle cx="81.5" cy="302.1"/>
</g>
<g class="sg">
<circle cx="57.8" cy="303.2"/>
</g>
<g class="sb">
<circle cx="75.5" cy="339.1"/>
</g>
<g class="sr">
<circle cx="123.2" cy="309.3"/>
</g>
<g class="sb">
<circle cx="84.7" cy="344.5"/>
<circle cx="86.4" cy="349.1"/>
<circle cx="87" cy="294.4"/>
</g>
<g class="sr">
<circle cx="117.7" cy="315.1"/>
</g>
<g class="sb">
<circle cx="74.2" cy="313.7"/>
<circle cx="75.6" cy="329.6"/>
</g>
<g class="sr">
<circle cx="134.4" cy="307.2"/>
</g>
<g class="sb">
<circle cx="71.9" cy="319.5"/>
<circle cx="84.3" cy="331.9"/>
</g>
<g class="sr">
<circle cx="126.6" cy="284.1"/>
</g>
<g class="sb">
<circle cx="91.5" cy="308.3"/>
<circle cx="84.7" cy="364.9"/>
<circle cx="67.7" cy="307"/>
<circle cx="79.3" cy="336.1"/>
<circle cx="83" cy="299.2"/>
<circle cx="130.2" cy="345"/>
<circle cx="86.6" cy="289.5"/>
<circle cx="84.7" cy="318.8"/>
<circle cx="88" cy="304.2"/>
<circle cx="86.1" cy="342.2"/>
</g>
<g class="sr">
<circle cx="124" cy="337.8"/>
</g>
<g class="sb">
<circle cx="113.1" cy="307.9"/>
<circle cx="80.9" cy="341.9"/>
</g>
<g class="sr">
<circle cx="115.8" cy="318.6"/>
</g>
<g class="sb">
<circle cx="74.6" cy="301.5"/>
<circle cx="82.4" cy="311.4"/>
<circle cx="76.3" cy="296.6"/>
<circle cx="91.3" cy="367"/>
<circle cx="81.4" cy="288.6"/>
<circle cx="83.4" cy="330.7"/>
<circle cx="64.8" cy="373.2"/>
<circle cx="80.8" cy="299.2"/>
<circle cx="67" cy="291.6"/>
<circle cx="78.9" cy="294.7"/>
<circle cx="79.2" cy="303.3"/>
<circle cx="126" cy="341.1"/>
<circle cx="100.4" cy="309.2"/>
</g>
<g class="sg">
<circle cx="76.9" cy="361.6"/>
</g>
<g class="sb">
<circle cx="80.8" cy="348.7"/>
<circle cx="77.5" cy="294.5"/>
<circle cx="80" cy="286.4"/>
<circle cx="68.9" cy="298.1"/>
<circle cx="71.9" cy="300.8"/>
</g>
<g class="sr">
<circle cx="105.4" cy="306.7"/>
<circle cx="120.8" cy="311.3"/>
</g>
<g class="sb">
<circle cx="84.3" cy="295"/>
<circle cx="84.1" cy="291.8"/>
<circle cx="70.9" cy="309.9"/>
<circle cx="75.1" cy="361.8"/>
<circle cx="92.3" cy="315.9"/>
<circle cx="87.7" cy="320.1"/>
</g>
<g class="sr">
<circle cx="117.1" cy="348.6"/>
</g>
<g class="sb">
<circle cx="94.3" cy="303.9"/>
</g>
<g class="sr">
<circle cx="58.9" cy="369.7"/>
</g>
<g class="sb">
<circle cx="100.9" cy="320.7"/>
<circle cx="89" cy="299.3"/>
<circle cx="80.2" cy="296.8"/>
</g>
<g class="sr">
<circle cx="125.1" cy="324.4"/>
<circle cx="116.6" cy="298.7"/>
<circle cx="118.6" cy="323.6"/>
</g>
<g class="sb">
<circle cx="93.8" cy="328.5"/>
<circle cx="100.1" cy="301.3"/>
<circle cx="83.1" cy="309.9"/>
<circle cx="101.2" cy="320.3"/>
</g>
<g class="sr">
<circle cx="108.6" cy="315"/>
</g>
<g class="sb">
<circle cx="84" cy="341.6"/>
<circle cx="79.7" cy="325.5"/>
<circle cx="138.9" cy="356.8"/>
<circle cx="77.9" cy="309"/>
<circle cx="86.8" cy="315.3"/>
<circle cx="94.2" cy="301.4"/>
<circle cx="94.6" cy="318.7"/>
<circle cx="73.8" cy="286.3"/>
<circle cx="104.3" cy="300.3"/>
<circle cx="75.9" cy="308.5"/>
</g>
<g class="sg">
<circle cx="71.4" cy="291.7"/>
</g>
<g class="sb">
<circle cx="87.3" cy="289.7"/>
<circle cx="113.6" cy="336.7"/>
</g>
<g class="sr">
<circle cx="78.4" cy="326.8"/>
<circle cx="139.3" cy="318"/>
</g>
<g class="sb">
<circle cx="88.9" cy="358.6"/>
<circle cx="88.6" cy="301.4"/>
</g>
<g class="sr">
<circle cx="51.8" cy="333.7"/>
<circle cx="106.1" cy="320.8"/>
<circle cx="104.7" cy="298.9"/>
</g>
<g class="sb">
<circle cx="96.9" cy="304.6"/>
<circle cx="83.5" cy="314.6"/>
<circle cx="85.1" cy="304.4"/>
<circle cx="87.2" cy="373.1"/>
<circle cx="97.9" cy="322.8"/>
<circle cx="52.7" cy="330.5"/>
</g>
<g class="sr">
<circle cx="103.2" cy="320.8"/>
</g>
<g class="sb">
<circle cx="88.2" cy="307"/>
<circle cx="80.1" cy="308.4"/>
</g>
<g class="sg">
<circle cx="79.5" cy="286.9"/>
</g>
<g class="sb">
<circle cx="87.3" cy="327.4"/>
<circle cx="102.5" cy="303.6"/>
<circle cx="82.9" cy="311.4"/>
<circle cx="70.9" cy="299.3"/>
<circle cx="75.1" cy="322.1"/>
</g>
<g class="sr">
<circle cx="111.7" cy="312"/>
</g>
<g class="sb">
<circle cx="120.9" cy="337.4"/>
<circle cx="85.7" cy="288.8"/>
</g>
<g class="sg">
<circle cx="63.7" cy="303.6"/>
</g>
<g class="sb">
<circle cx="101.5" cy="306.6"/>
<circle cx="87.5" cy="315.8"/>
</g>
<g class="sg">
<circle cx="65.1" cy="299.5"/>
</g>
<g class="sb">
<circle cx="87.8" cy="324.4"/>
<circle cx="82.7" cy="323.6"/>
</g>
<g class="sr">
<circle cx="110.2" cy="298.1"/>
</g>
<g class="sb">
<circle cx="85" cy="287.6"/>
</g>
<g class="sr">
<circle cx="130.1" cy="305.2"/>
</g>
<g class="sb">
<circle cx="90.1" cy="311.6"/>
<circle cx="94.7" cy="318.8"/>
<circle cx="89.7" cy="312.4"/>
<circle cx="94.8" cy="308.1"/>
<circle cx="85.1" cy="321.7"/>
<circle cx="81.9" cy="309.2"/>
</g>
<g class="sr">
<circle cx="121.8" cy="313.8"/>
</g>
<g class="sb">
<circle cx="77.1" cy="324.5"/>
<circle cx="115.7" cy="322.6"/>
</g>
<g class="sg">
<circle cx="72.4" cy="293.2"/>
</g>
<g class="sb">
<circle cx="101.4" cy="320.5"/>
</g>
<g class="sr">
<circle cx="142.7" cy="307.7"/>
<circle cx="128.9" cy="302.8"/>
<circle cx="89.6" cy="357.8"/>
<circle cx="108.6" cy="300.2"/>
</g>
<g class="sb">
<circle cx="92.6" cy="304"/>
</g>
<g class="sr">
<circle cx="124.5" cy="333.5"/>
</g>
<g class="sb">
<circle cx="101.2" cy="328.7"/>
</g>
<g class="sr">
<circle cx="114.4" cy="281.5"/>
</g>
<g class="sb">
<circle cx="87.2" cy="351.1"/>
<circle cx="99.7" cy="307.7"/>
<circle cx="73" cy="301.6"/>
</g>
<g class="sg">
<circle cx="61.5" cy="306.1"/>
</g>
<g class="sb">
<circle cx="65.3" cy="310.6"/>
<circle cx="72.1" cy="320.4"/>
<circle cx="77.2" cy="343.2"/>
<circle cx="96.4" cy="303.1"/>
<circle cx="81.6" cy="349.4"/>
<circle cx="76.7" cy="295.4"/>
<circle cx="80.7" cy="301.7"/>
<circle cx="77.3" cy="309.3"/>
<circle cx="70.2" cy="303.9"/>
<circle cx="80.1" cy="373"/>
<circle cx="111" cy="321.4"/>
</g>
<g class="sr">
<circle cx="111.2" cy="287.7"/>
</g>
<g class="sb">
<circle cx="78.4" cy="314.8"/>
<circle cx="85.5" cy="305.6"/>
</g>
<g class="sr">
<circle cx="122.2" cy="302.8"/>
</g>
<g class="sb">
<circle cx="96.1" cy="314.4"/>
<circle cx="100" cy="333.6"/>
<circle cx="91.6" cy="363.7"/>
<circle cx="89.7" cy="303.9"/>
</g>
<g class="sr">
<circle cx="72.7" cy="330.7"/>
</g>
<g class="sb">
<circle cx="85.3" cy="300.4"/>
<circle cx="72.6" cy="307.5"/>
<circle cx="80.9" cy="319.4"/>
<circle cx="100" cy="329.9"/>
</g>
<g class="sr">
<circle cx="59.4" cy="360"/>
</g>
<g class="sb">
<circle cx="88.9" cy="328.8"/>
<circle cx="138" cy="314.4"/>
</g>
<g class="sr">
<circle cx="140.4" cy="308.9"/>
</g>
<g class="sb">
<circle cx="56.4" cy="338.7"/>
<circle cx="83.4" cy="311.1"/>
</g>
<g class="sr">
<circle cx="94.8" cy="341.6"/>
<circle cx="53.5" cy="353.7"/>
</g>
<g class="sb">
<circle cx="78" cy="328.4"/>
<circle cx="85.5" cy="357.5"/>
<circle cx="88.3" cy="304.4"/>
</g>
<g class="sr">
<circle cx="67" cy="345.1"/>
</g>
<g class="sb">
<circle cx="139.3" cy="308.4"/>
<circle cx="69.5" cy="369.1"/>
<circle cx="80.5" cy="365.3"/>
<circle cx="86" cy="369.8"/>
<circle cx="91.8" cy="342.6"/>
<circle cx="71.8" cy="303.4"/>
<circle cx="117" cy="332.6"/>
</g>
<g class="sr">
<circle cx="126.6" cy="341.5"/>
</g>
<g class="sg">
<circle cx="73.3" cy="298.9"/>
</g>
<g class="sb">
<circle cx="79.3" cy="333.6"/>
<circle cx="86.7" cy="308.8"/>
<circle cx="91.5" cy="312.5"/>
<circle cx="74.4" cy="330.4"/>
</g>
<g class="sr">
<circle cx="109.9" cy="313.6"/>
<circle cx="58.7" cy="355.5"/>
<circle cx="121" cy="302.6"/>
<circle cx="114.1" cy="341.7"/>
</g>
<g class="sb">
<circle cx="140.8" cy="325.7"/>
<circle cx="112.5" cy="298.8"/>
<circle cx="75.6" cy="309.4"/>
</g>
<g class="sr">
<circle cx="94.2" cy="316.2"/>
</g>
<g class="sg">
<circle cx="48.2" cy="280.9"/>
</g>
<g class="sb">
<circle cx="77.1" cy="301.8"/>
<circle cx="80.2" cy="299.9"/>
</g>
<g class="sr">
<circle cx="88" cy="285.2"/>
</g>
<g class="sb">
<circle cx="83.3" cy="293.2"/>
<circle cx="84.7" cy="286.9"/>
<circle cx="72.4" cy="367.8"/>
<circle cx="137.2" cy="316.8"/>
<circle cx="77.4" cy="332.8"/>
<circle cx="90.5" cy="289"/>
<circle cx="86.8" cy="292.1"/>
</g>
<g class="sr">
<circle cx="53.2" cy="334.6"/>
</g>
<g class="sb">
<circle cx="74.6" cy="300.5"/>
</g>
<g class="sr">
<circle cx="104.2" cy="327"/>
</g>
<g class="sb">
<circle cx="88.3" cy="342.1"/>
<circle cx="81.3" cy="302.5"/>
</g>
<g class="sr">
<circle cx="112.4" cy="324.7"/>
</g>
<g class="sb">
<circle cx="82.8" cy="288.9"/>
<circle cx="85.8" cy="327.7"/>
<circle cx="87.3" cy="321.1"/>
</g>
<g class="sg">
<circle cx="72.8" cy="319.4"/>
</g>
<g class="sb">
<circle cx="71.7" cy="329.2"/>
</g>
<g class="sr">
<circle cx="57.3" cy="363.6"/>
</g>
<g class="sb">
<circle cx="76" cy="303.2"/>
<circle cx="69.7" cy="292"/>
</g>
<g class="sr">
<circle cx="114.6" cy="321.2"/>
</g>
<g class="sb">
<circle cx="94.2" cy="289.7"/>
<circle cx="95.6" cy="317.2"/>
</g>
<g class="sr">
<circle cx="140.4" cy="320.9"/>
</g>
<g class="sb">
<circle cx="68.6" cy="292.3"/>
<circle cx="74.5" cy="322.8"/>
<circle cx="99.5" cy="320.5"/>
</g>
<g class="sr">
<circle cx="116.2" cy="321.6"/>
</g>
<g class="sb">
<circle cx="72.2" cy="295.1"/>
<circle cx="93.8" cy="291.5"/>
</g>
<g class="sr">
<circle cx="97.3" cy="319.5"/>
</g>
<g class="sb">
<circle cx="76.2" cy="300"/>
<circle cx="78.1" cy="309.6"/>
</g>
<g class="sr">
<circle cx="110.6" cy="303.1"/>
</g>
<g class="sb">
<circle cx="103.1" cy="299.6"/>
<circle cx="69.9" cy="365.8"/>
<circle cx="124.5" cy="330"/>
<circle cx="80.6" cy="297.6"/>
<circle cx="68.7" cy="314.9"/>
<circle cx="106.5" cy="311.6"/>
</g>
<g class="sg">
<circle cx="81.9" cy="313.7"/>
</g>
<g class="sb">
<circle cx="96" cy="328.2"/>
<circle cx="92.2" cy="328.9"/>
<circle cx="135" cy="322.5"/>
<circle cx="79.9" cy="315.5"/>
<circle cx="98.8" cy="291.9"/>
<circle cx="82.3" cy="338.3"/>
</g>
<g class="sg">
<circle cx="83.1" cy="300.9"/>
</g>
<g class="sr">
<circle cx="127" cy="322.3"/>
</g>
<g class="sb">
<circle cx="75.6" cy="325.8"/>
<circle cx="90.5" cy="304.8"/>
<circle cx="65.9" cy="328.7"/>
</g>
<g class="sr">
<circle cx="57.2" cy="364.6"/>
</g>
<g class="sb">
<circle cx="79.7" cy="320"/>
</g>
<g class="sr">
<circle cx="141.3" cy="308.3"/>
</g>
<g class="sb">
<circle cx="76.1" cy="299.1"/>
<circle cx="97.2" cy="310.8"/>
<circle cx="77.9" cy="325.1"/>
</g>
<g class="sr">
<circle cx="123.6" cy="308.4"/>
</g>
<g class="sb">
<circle cx="100.1" cy="294.1"/>
<circle cx="80.5" cy="301.6"/>
<circle cx="96.6" cy="328.9"/>
<circle cx="73.6" cy="357.8"/>
<circle cx="93.8" cy="297.4"/>
<circle cx="111.7" cy="339.8"/>
</g>
<g class="sr">
<circle cx="52.1" cy="366.5"/>
<circle cx="127.9" cy="320.9"/>
</g>
<g class="sb">
<circle cx="91.2" cy="317.8"/>
</g>
<g class="sr">
<circle cx="127.5" cy="314.8"/>
</g>
<g class="sb">
<circle cx="91.7" cy="319.1"/>
<circle cx="81.9" cy="301.9"/>
</g>
<g class="sr">
<circle cx="109" cy="314.9"/>
</g>
<g class="sb">
<circle cx="98.4" cy="319"/>
<circle cx="65.1" cy="299.8"/>
</g>
<g class="sr">
<circle cx="109.9" cy="322.2"/>
</g>
<g class="sb">
<circle cx="86.5" cy="337.6"/>
<circle cx="80.6" cy="315.4"/>
<circle cx="107.6" cy="328.9"/>
<circle cx="105" cy="320.5"/>
<circle cx="85.3" cy="326.5"/>
<circle cx="93.4" cy="323.2"/>
</g>
<g class="sr">
<circle cx="51.6" cy="349.8"/>
</g>
<g class="sb">
<circle cx="74.6" cy="327.4"/>
</g>
<g class="sr">
<circle cx="118.6" cy="315.8"/>
</g>
<g class="sb">
<circle cx="113.3" cy="311.6"/>
</g>
<g class="sr">
<circle cx="99.2" cy="333.9"/>
<circle cx="127.3" cy="304"/>
<circle cx="99.8" cy="305.6"/>
</g>
<g class="sb">
<circle cx="94.4" cy="329.4"/>
<circle cx="101.9" cy="316.3"/>
</g>
<g class="sr">
<circle cx="55.1" cy="301.5"/>
</g>
<g class="sb">
<circle cx="116.3" cy="313.9"/>
<circle cx="105.3" cy="328.6"/>
</g>
<g class="sr">
<circle cx="105.1" cy="317.7"/>
</g>
<g class="sb">
<circle cx="97.1" cy="329.4"/>
</g>
<g class="sr">
<circle cx="61.4" cy="346.1"/>
</g>
<g class="sb">
<circle cx="83.9" cy="362.1"/>
<circle cx="81.5" cy="306.9"/>
<circle cx="85.3" cy="300.6"/>
<circle cx="74" cy="292.5"/>
</g>
<g class="sg">
<circle cx="76.2" cy="294.4"/>
</g>
<g class="sb">
<circle cx="92.7" cy="317.9"/>
<circle cx="136.6" cy="367.4"/>
<circle cx="69.6" cy="315.7"/>
</g>
<g class="sg">
<circle cx="80.3" cy="312.8"/>
</g>
<g class="sb">
<circle cx="141.8" cy="308.2"/>
<circle cx="82.5" cy="294.2"/>
<circle cx="98.3" cy="301.9"/>
<circle cx="79.3" cy="300.6"/>
<circle cx="77.6" cy="330.5"/>
</g>
<g class="sr">
<circle cx="115.5" cy="301.1"/>
</g>
<g class="sb">
<circle cx="80.3" cy="324.4"/>
<circle cx="79.6" cy="309.7"/>
<circle cx="63.3" cy="314.1"/>
</g>
<g class="sr">
<circle cx="81.2" cy="302"/>
<circle cx="54.8" cy="352.4"/>
</g>
<g class="sb">
<circle cx="70.9" cy="296.1"/>
<circle cx="137.3" cy="333.1"/>
<circle cx="63.5" cy="293.5"/>
<circle cx="94.9" cy="325.1"/>
<circle cx="56.8" cy="370.4"/>
<circle cx="85" cy="328"/>
</g>
<g class="sr">
<circle cx="78.2" cy="369"/>
</g>
<g class="sb">
<circle cx="75.6" cy="325"/>
</g>
<g class="sg">
<circle cx="78.2" cy="308.3"/>
</g>
<g class="sb">
<circle cx="73.2" cy="313.2"/>
<circle cx="121.5" cy="317.7"/>
</g>
<g class="sr">
<circle cx="119.1" cy="323.9"/>
</g>
<g class="sb">
<circle cx="106.3" cy="329.6"/>
<circle cx="83.8" cy="331.2"/>
</g>
<g class="sr">
<circle cx="99.4" cy="299.7"/>
</g>
<g class="sb">
<circle cx="121.8" cy="362"/>
</g>
<g class="sr">
<circle cx="48.5" cy="374.2"/>
</g>
<g class="sb">
<circle cx="120.9" cy="356.9"/>
</g>
<g class="sr">
<circle cx="108.3" cy="303.6"/>
</g>
<g class="sb">
<circle cx="87.9" cy="313.8"/>
<circle cx="98.5" cy="295.8"/>
</g>
<g class="sr">
<circle cx="105.4" cy="313.5"/>
</g>
<g class="sb">
<circle cx="101.4" cy="311.3"/>
<circle cx="92.9" cy="322.1"/>
</g>
<g class="sg">
<circle cx="65.4" cy="287.5"/>
</g>
<g class="sb">
<circle cx="88" cy="297.2"/>
<circle cx="101.2" cy="316.9"/>
<circle cx="91.5" cy="303"/>
<circle cx="100.8" cy="324.2"/>
<circle cx="98" cy="313.3"/>
<circle cx="87.8" cy="291.8"/>
<circle cx="73.6" cy="320.7"/>
<circle cx="69.5" cy="325.4"/>
</g>
<g class="sr">
<circle cx="122.1" cy="373.7"/>
</g>
<g class="sb">
<circle cx="79.6" cy="294.8"/>
<circle cx="101.2" cy="316.8"/>
<circle cx="83.5" cy="323.6"/>
<circle cx="85.8" cy="331.2"/>
<circle cx="79" cy="325.4"/>
<circle cx="117.2" cy="297.3"/>
<circle cx="100.6" cy="290.7"/>
<circle cx="69.9" cy="324.8"/>
<circle cx="67.5" cy="291.8"/>
<circle cx="112.3" cy="298.2"/>
<circle cx="89.4" cy="302.5"/>
</g>
<g class="sr">
<circle cx="126" cy="319.4"/>
</g>
<g class="sb">
<circle cx="73.8" cy="300.5"/>
</g>
<g class="sg">
<circle cx="70.7" cy="296.7"/>
</g>
<g class="sb">
<circle cx="82.4" cy="296.8"/>
</g>
<g class="sr">
<circle cx="125.2" cy="332.3"/>
</g>
<g class="sg">
<circle cx="66.1" cy="301.8"/>
</g>
<g class="sr">
<circle cx="130.1" cy="300"/>
</g>
<g class="sb">
<circle cx="77.6" cy="322.9"/>
<circle cx="78.1" cy="310.5"/>
</g>
<g class="sr">
<circle cx="74.4" cy="279.8"/>
</g>
<g class="sb">
<circle cx="99.3" cy="309.1"/>
<circle cx="71.8" cy="295.4"/>
<circle cx="80.1" cy="302.4"/>
<circle cx="114.5" cy="310.6"/>
</g>
<g class="sr">
<circle cx="127.1" cy="315.7"/>
</g>
<g class="sb">
<circle cx="98" cy="328"/>
<circle cx="87" cy="315.8"/>
</g>
<g class="sg">
<circle cx="74.6" cy="296.8"/>
</g>
<g class="sr">
<circle cx="99.8" cy="313.4"/>
</g>
<g class="sb">
<circle cx="84.4" cy="325.9"/>
</g>
<g class="sr">
<circle cx="77" cy="373.6"/>
</g>
<g class="sb">
<circle cx="74.8" cy="326.2"/>
<circle cx="73" cy="332.3"/>
<circle cx="85.1" cy="326"/>
<circle cx="77.4" cy="303.9"/>
</g>
<g class="sr">
<circle cx="129.2" cy="306.2"/>
</g>
<g class="sb">
<circle cx="94" cy="340.4"/>
<circle cx="77.3" cy="334.4"/>
<circle cx="69.5" cy="323.3"/>
<circle cx="99.2" cy="286.7"/>
<circle cx="139.2" cy="341"/>
</g>
<g class="sr">
<circle cx="121.7" cy="308.3"/>
</g>
<g class="sb">
<circle cx="91.3" cy="316.3"/>
<circle cx="91.2" cy="317.2"/>
</g>
<g class="sr">
<circle cx="117.1" cy="331.8"/>
<circle cx="98.2" cy="296.4"/>
</g>
<g class="sb">
<circle cx="98.1" cy="316.2"/>
<circle cx="86.1" cy="298.6"/>
</g>
<g class="sr">
<circle cx="121.3" cy="308.2"/>
</g>
<g class="sb">
<circle cx="80.2" cy="314.4"/>
<circle cx="85.3" cy="330.6"/>
<circle cx="85.1" cy="325.7"/>
<circle cx="83.5" cy="362.6"/>
<circle cx="86.6" cy="321.3"/>
</g>
<g class="sr">
<circle cx="140.9" cy="323.3"/>
</g>
<g class="sb">
<circle cx="83.1" cy="292.8"/>
<circle cx="92.8" cy="299.3"/>
<circle cx="88.4" cy="296.3"/>
<circle cx="76.6" cy="306.2"/>
<circle cx="74.6" cy="306.7"/>
<circle cx="89.4" cy="338.5"/>
<circle cx="79" cy="304.2"/>
<circle cx="85.7" cy="314.9"/>
<circle cx="117.9" cy="322.4"/>
<circle cx="113.5" cy="333.8"/>
<circle cx="89.3" cy="335.5"/>
<circle cx="81.1" cy="341.1"/>
</g>
<g class="sr">
<circle cx="135.9" cy="373.3"/>
</g>
<g class="sb">
<circle cx="79.8" cy="306.8"/>
<circle cx="85.6" cy="296.7"/>
<circle cx="98.1" cy="292"/>
</g>
<g class="sr">
<circle cx="58" cy="282.4"/>
</g>
<g class="sb">
<circle cx="75.6" cy="310.2"/>
<circle cx="86.4" cy="310.6"/>
<circle cx="96.9" cy="308"/>
<circle cx="90.1" cy="331.2"/>
<circle cx="137" cy="305.6"/>
</g>
<g class="sr">
<circle cx="118.9" cy="305.3"/>
<circle cx="51.1" cy="308.7"/>
</g>
<g class="sb">
<circle cx="93.8" cy="288.6"/>
<circle cx="84.6" cy="329.8"/>
<circle cx="74.7" cy="324.7"/>
<circle cx="93.7" cy="294.9"/>
<circle cx="103.6" cy="315.9"/>
</g>
<g class="sr">
<circle cx="60.2" cy="283.2"/>
</g>
<g class="sg">
<circle cx="65.1" cy="295.4"/>
</g>
<g class="sb">
<circle cx="96.8" cy="332.2"/>
<circle cx="80.8" cy="330"/>
</g>
<g class="sr">
<circle cx="53.2" cy="370.2"/>
</g>
<g class="sb">
<circle cx="120.7" cy="349.8"/>
<circle cx="112.5" cy="317.3"/>
<circle cx="67.7" cy="305.7"/>
<circle cx="132.1" cy="347.2"/>
<circle cx="83.4" cy="294.1"/>
<circle cx="103.7" cy="300.4"/>
<circle cx="73.4" cy="316.7"/>
<circle cx="139.5" cy="327.5"/>
<circle cx="95.2" cy="315.6"/>
<circle cx="108.3" cy="304.6"/>
<circle cx="137.6" cy="300"/>
<circle cx="87.7" cy="321.5"/>
</g>
<g class="sr">
<circle cx="107.7" cy="302"/>
</g>
<g class="sb">
<circle cx="83.4" cy="320.5"/>
<circle cx="103.1" cy="333.4"/>
<circle cx="98" cy="330.7"/>
</g>
<g class="sr">
<circle cx="110.4" cy="308.2"/>
<circle cx="116.1" cy="298.1"/>
</g>
<g class="sb">
<circle cx="72.4" cy="305.8"/>
</g>
<g class="sg">
<circle cx="78.6" cy="304.9"/>
</g>
<g class="sr">
<circle cx="135.5" cy="338.2"/>
<circle cx="60.3" cy="321.7"/>
</g>
<g class="sb">
<circle cx="69.6" cy="291.3"/>
<circle cx="79.1" cy="328"/>
<circle cx="90.2" cy="319.2"/>
</g>
<g class="sg">
<circle cx="79.4" cy="306.6"/>
</g>
<g class="sb">
<circle cx="80.4" cy="306.2"/>
<circle cx="70.3" cy="320.4"/>
</g>
<g class="sg">
<circle cx="80.1" cy="280.5"/>
</g>
<g class="sb">
<circle cx="89.1" cy="334.9"/>
</g>
<g class="sr">
<circle cx="132.9" cy="313.4"/>
<circle cx="87.9" cy="299.9"/>
</g>
<g class="sb">
<circle cx="90.7" cy="313.4"/>
</g>
<g class="sr">
<circle cx="134.2" cy="297.5"/>
</g>
<g class="sb">
<circle cx="89.7" cy="287.3"/>
<circle cx="78.7" cy="296.9"/>
<circle cx="87.7" cy="323.1"/>
<circle cx="94.3" cy="325.1"/>
<circle cx="130.4" cy="316"/>
</g>
<g class="sr">
<circle cx="124.3" cy="307.2"/>
</g>
<g class="sb">
<circle cx="78" cy="323.3"/>
<circle cx="78.8" cy="334.7"/>
<circle cx="93.5" cy="310.7"/>
<circle cx="91.2" cy="315.6"/>
<circle cx="119.1" cy="337.5"/>
<circle cx="72" cy="312.8"/>
<circle cx="84.8" cy="367.4"/>
<circle cx="91.9" cy="323.3"/>
<circle cx="101.8" cy="300.9"/>
<circle cx="84.3" cy="313.8"/>
<circle cx="66.1" cy="302.5"/>
<circle cx="138.4" cy="299.8"/>
</g>
<g class="sr">
<circle cx="126.1" cy="302.5"/>
</g>
<g class="sb">
<circle cx="89.4" cy="311.1"/>
</g>
<g class="sr">
<circle cx="56.3" cy="325.5"/>
</g>
<g class="sb">
<circle cx="121.5" cy="338.2"/>
<circle cx="97.7" cy="314.5"/>
<circle cx="93.6" cy="317.7"/>
<circle cx="91.4" cy="311.7"/>
<circle cx="87" cy="359.2"/>
</g>
<g class="sr">
<circle cx="73.2" cy="315.5"/>
</g>
<g class="sb">
<circle cx="93.6" cy="331.4"/>
<circle cx="88.4" cy="313.2"/>
<circle cx="72.7" cy="315.3"/>
</g>
<g class="sr">
<circle cx="140.9" cy="317"/>
<circle cx="123.4" cy="282.8"/>
<circle cx="103.9" cy="295.4"/>
<circle cx="130.2" cy="310.3"/>
</g>
<g class="sb">
<circle cx="97.3" cy="307.4"/>
<circle cx="74.2" cy="322.3"/>
<circle cx="68.5" cy="308.2"/>
<circle cx="84" cy="293.7"/>
<circle cx="90.6" cy="330.6"/>
<circle cx="97.8" cy="301.7"/>
<circle cx="90.1" cy="311.6"/>
</g>
<g class="sg">
<circle cx="74.8" cy="305.1"/>
</g>
<g class="sb">
<circle cx="77.7" cy="326.1"/>
<circle cx="85.7" cy="316.4"/>
<circle cx="77.7" cy="323.9"/>
<circle cx="77" cy="328.6"/>
<circle cx="108.5" cy="315.9"/>
</g>
<g class="sr">
<circle cx="136.8" cy="304.6"/>
</g>
<g class="sb">
<circle cx="73.2" cy="320.6"/>
<circle cx="89.4" cy="321.8"/>
<circle cx="127.8" cy="331.9"/>
<circle cx="111.5" cy="316.3"/>
<circle cx="81.3" cy="318.5"/>
</g>
<g class="sr">
<circle cx="120.6" cy="337.1"/>
</g>
<g class="sb">
<circle cx="139.5" cy="337.1"/>
<circle cx="90.9" cy="304.4"/>
<circle cx="140.4" cy="306.9"/>
<circle cx="74.1" cy="292.4"/>
<circle cx="89.6" cy="354.7"/>
<circle cx="84.8" cy="298.6"/>
<circle cx="86.3" cy="344.6"/>
</g>
<g class="sg">
<circle cx="64.4" cy="300"/>
</g>
<g class="sb">
<circle cx="91.1" cy="291.7"/>
<circle cx="109.5" cy="345.4"/>
<circle cx="68.1" cy="318"/>
<circle cx="129.5" cy="294.8"/>
</g>
<g class="sr">
<circle cx="111.1" cy="320.8"/>
</g>
<g class="sb">
<circle cx="89.2" cy="293.7"/>
<circle cx="89.4" cy="322.8"/>
</g>
<g class="sr">
<circle cx="124.3" cy="298.1"/>
</g>
<g class="sb">
<circle cx="96.5" cy="321.3"/>
<circle cx="81.3" cy="295.3"/>
</g>
<g class="sr">
<circle cx="111.5" cy="315.9"/>
</g>
<g class="sb">
<circle cx="86.8" cy="311.2"/>
<circle cx="70.9" cy="321.5"/>
<circle cx="79.7" cy="324.5"/>
</g>
<g class="sr">
<circle cx="79.1" cy="327"/>
</g>
<g class="sb">
<circle cx="86.7" cy="327.1"/>
<circle cx="77.3" cy="303.7"/>
</g>
<g class="sr">
<circle cx="110.5" cy="317.3"/>
</g>
<g class="sg">
<circle cx="80" cy="295.3"/>
</g>
<g class="sb">
<circle cx="65.7" cy="297.3"/>
<circle cx="89.3" cy="329"/>
<circle cx="72.3" cy="339.6"/>
</g>
<g class="sr">
<circle cx="89.7" cy="337.7"/>
</g>
<g class="sb">
<circle cx="76.1" cy="293.2"/>
</g>
<g class="sr">
<circle cx="53.7" cy="363.1"/>
</g>
<g class="sb">
<circle cx="81.7" cy="293.7"/>
<circle cx="88.6" cy="321.7"/>
</g>
<g class="sr">
<circle cx="109.9" cy="314.2"/>
</g>
<g class="sb">
<circle cx="71.5" cy="316.6"/>
</g>
<g class="sr">
<circle cx="106.9" cy="295.4"/>
<circle cx="126.9" cy="331"/>
</g>
<g class="sg">
<circle cx="69.4" cy="287.3"/>
<circle cx="59" cy="292.5"/>
</g>
<g class="sr">
<circle cx="80" cy="330.2"/>
</g>
<g class="sb">
<circle cx="81.6" cy="333.5"/>
<circle cx="90.9" cy="290"/>
<circle cx="76.6" cy="316.1"/>
<circle cx="76.7" cy="300.7"/>
<circle cx="83.2" cy="311.7"/>
<circle cx="138.7" cy="358.3"/>
<circle cx="97" cy="295.5"/>
<circle cx="77.3" cy="358.5"/>
<circle cx="70.7" cy="291.4"/>
<circle cx="80.9" cy="325.8"/>
</g>
<g class="sr">
<circle cx="98" cy="319.9"/>
</g>
<g class="sb">
<circle cx="75.6" cy="318.5"/>
</g>
<g class="sg">
<circle cx="76.1" cy="362.2"/>
</g>
<g class="sr">
<circle cx="135.7" cy="321.8"/>
</g>
<g class="sb">
<circle cx="82.5" cy="313.1"/>
</g>
<g class="sg">
<circle cx="76.5" cy="303.5"/>
</g>
<g class="sb">
<circle cx="104.3" cy="325.1"/>
<circle cx="78.2" cy="327.6"/>
<circle cx="108.1" cy="314.2"/>
<circle cx="87.1" cy="293.6"/>
<circle cx="108.1" cy="331.2"/>
<circle cx="140.8" cy="313.4"/>
<circle cx="73.1" cy="314"/>
<circle cx="137.3" cy="326.4"/>
<circle cx="84.5" cy="307.9"/>
<circle cx="109.9" cy="340.5"/>
</g>
<g class="sr">
<circle cx="78.2" cy="324.4"/>
<circle cx="67.4" cy="328.4"/>
</g>
<g class="sb">
<circle cx="90.6" cy="307"/>
<circle cx="98.7" cy="296"/>
<circle cx="79.8" cy="303.7"/>
<circle cx="86.8" cy="322.6"/>
<circle cx="81.2" cy="293.7"/>
<circle cx="90.2" cy="326.6"/>
<circle cx="71" cy="338.8"/>
<circle cx="74.5" cy="309.1"/>
<circle cx="79.7" cy="310.9"/>
<circle cx="89.7" cy="319"/>
<circle cx="80.8" cy="321.2"/>
<circle cx="94" cy="307.2"/>
<circle cx="78.5" cy="297.4"/>
<circle cx="83.4" cy="296.6"/>
<circle cx="88.7" cy="291.5"/>
<circle cx="87.1" cy="334.1"/>
<circle cx="116.7" cy="317.3"/>
<circle cx="92.9" cy="297.1"/>
</g>
<g class="sr">
<circle cx="131.4" cy="313"/>
<circle cx="78.2" cy="284.9"/>
</g>
<g class="sb">
<circle cx="93.8" cy="292.6"/>
<circle cx="98.7" cy="315.4"/>
</g>
<g class="sg">
<circle cx="71.1" cy="300.4"/>
</g>
<g class="sr">
<circle cx="128.5" cy="321.8"/>
</g>
<g class="sb">
<circle cx="92.3" cy="333.1"/>
<circle cx="87.2" cy="320.5"/>
</g>
<g class="sr">
<circle cx="121.5" cy="314.5"/>
</g>
<g class="sb">
<circle cx="96.8" cy="315"/>
<circle cx="133.7" cy="322.1"/>
<circle cx="86.9" cy="327.8"/>
<circle cx="76" cy="312"/>
<circle cx="102" cy="304.2"/>
<circle cx="81.7" cy="318.7"/>
<circle cx="104.1" cy="298.2"/>
<circle cx="83" cy="286.7"/>
<circle cx="91.5" cy="331.9"/>
</g>
<g class="sr">
<circle cx="104.3" cy="303.7"/>
<circle cx="117.2" cy="300.1"/>
<circle cx="120.9" cy="319.8"/>
</g>
<g class="sb">
<circle cx="96.8" cy="338.3"/>
<circle cx="70.8" cy="289.8"/>
</g>
<g class="sr">
<circle cx="124.8" cy="321.2"/>
<circle cx="141.6" cy="351.3"/>
</g>
<g class="sb">
<circle cx="91.9" cy="325.1"/>
<circle cx="76.9" cy="317.9"/>
<circle cx="78.5" cy="300.3"/>
</g>
<g class="sr">
<circle cx="114.4" cy="313.1"/>
</g>
<g class="sb">
<circle cx="91.2" cy="319.8"/>
<circle cx="77.5" cy="298.1"/>
</g>
<g class="sr">
<circle cx="69.6" cy="344.7"/>
</g>
<g class="sb">
<circle cx="95.2" cy="330.5"/>
</g>
<g class="sr">
<circle cx="126.1" cy="313.9"/>
</g>
<g class="sb">
<circle cx="71.6" cy="315.2"/>
<circle cx="101.2" cy="303.4"/>
<circle cx="79.3" cy="325.6"/>
<circle cx="90.9" cy="326.4"/>
<circle cx="72.9" cy="308.5"/>
</g>
<g class="sr">
<circle cx="50.4" cy="314"/>
</g>
<g class="sb">
<circle cx="87" cy="319.9"/>
<circle cx="99.6" cy="302.7"/>
<circle cx="81.8" cy="298.4"/>
</g>
<g class="sg">
<circle cx="74.2" cy="303.1"/>
</g>
<g class="sb">
<circle cx="82.3" cy="335.6"/>
<circle cx="78.7" cy="332.9"/>
<circle cx="85.4" cy="332.6"/>
<circle cx="95.7" cy="312.5"/>
<circle cx="81.9" cy="312.6"/>
</g>
<g class="sr">
<circle cx="89.1" cy="316.7"/>
<circle cx="112.7" cy="299.8"/>
</g>
<g class="sg">
<circle cx="81.8" cy="296.1"/>
</g>
<g class="sb">
<circle cx="89.2" cy="315.4"/>
<circle cx="74.1" cy="304.9"/>
</g>
<g class="sr">
<circle cx="61" cy="362.8"/>
</g>
<g class="sb">
<circle cx="93.5" cy="326.2"/>
</g>
<g class="sr">
<circle cx="122.8" cy="311.9"/>
</g>
<g class="sb">
<circle cx="82.8" cy="303.7"/>
</g>
<g class="sr">
<circle cx="114.1" cy="304.2"/>
</g>
<g class="sb">
<circle cx="84.3" cy="345.7"/>
<circle cx="73.3" cy="316.9"/>
<circle cx="95.3" cy="316.5"/>
<circle cx="78.1" cy="315.6"/>
<circle cx="72.5" cy="312.6"/>
<circle cx="83.8" cy="336.2"/>
<circle cx="92.3" cy="318.3"/>
<circle cx="92.2" cy="321"/>
<circle cx="93.4" cy="326.8"/>
</g>
<g class="sr">
<circle cx="115.9" cy="325.1"/>
</g>
<g class="sb">
<circle cx="87.9" cy="339"/>
<circle cx="94.2" cy="324.2"/>
</g>
<g class="sr">
<circle cx="61.2" cy="353.7"/>
</g>
<g class="sb">
<circle cx="87.1" cy="336.5"/>
<circle cx="139.1" cy="343.4"/>
<circle cx="89.4" cy="336.9"/>
<circle cx="83.8" cy="342.8"/>
<circle cx="89.1" cy="303.6"/>
<circle cx="55.3" cy="342.9"/>
<circle cx="75.4" cy="316.5"/>
</g>
<g class="sr">
<circle cx="121.3" cy="319.8"/>
</g>
<g class="sb">
<circle cx="81.9" cy="364.5"/>
<circle cx="87.4" cy="341.3"/>
<circle cx="86.3" cy="353.3"/>
<circle cx="77.7" cy="341.4"/>
<circle cx="84.5" cy="320"/>
<circle cx="81.4" cy="319.1"/>
<circle cx="82" cy="305.1"/>
<circle cx="85.3" cy="321.7"/>
</g>
<g class="sr">
<circle cx="82.4" cy="279.3"/>
</g>
<g class="sb">
<circle cx="114.8" cy="332.2"/>
</g>
<g class="sr">
<circle cx="133.2" cy="323.4"/>
</g>
<g class="sb">
<circle cx="118.9" cy="308.8"/>
<circle cx="94.1" cy="286.5"/>
<circle cx="93.4" cy="328.1"/>
</g>
<g class="sr">
<circle cx="113.6" cy="309.3"/>
</g>
<g class="sb">
<circle cx="76.2" cy="313.5"/>
</g>
<g class="sr">
<circle cx="102.9" cy="319.8"/>
</g>
<g class="sb">
<circle cx="82.6" cy="311"/>
</g>
<g class="sr">
<circle cx="93.7" cy="362.1"/>
</g>
<g class="sb">
<circle cx="99" cy="317.4"/>
</g>
<g class="sr">
<circle cx="96.3" cy="313.8"/>
</g>
<g class="sb">
<circle cx="97.5" cy="311.6"/>
<circle cx="96.4" cy="302"/>
<circle cx="139.8" cy="329.3"/>
<circle cx="78.3" cy="345.3"/>
<circle cx="67" cy="289.1"/>
</g>
<g class="sr">
<circle cx="111.2" cy="307.4"/>
</g>
<g class="sb">
<circle cx="81.8" cy="370.8"/>
<circle cx="102.2" cy="329.5"/>
<circle cx="85.2" cy="365.8"/>
<circle cx="77.4" cy="315.4"/>
</g>
<g class="sr">
<circle cx="127.1" cy="306.7"/>
</g>
<g class="sb">
<circle cx="87.3" cy="307.7"/>
<circle cx="91.3" cy="295.3"/>
<circle cx="126.5" cy="352.7"/>
<circle cx="95" cy="328.5"/>
<circle cx="94.6" cy="338.1"/>
<circle cx="87.2" cy="337.6"/>
<circle cx="73.8" cy="296.5"/>
<circle cx="98.6" cy="292"/>
</g>
<g class="sr">
<circle cx="69.3" cy="362.6"/>
</g>
<g class="sb">
<circle cx="84.9" cy="343"/>
</g>
<g class="sr">
<circle cx="113.6" cy="316"/>
</g>
<g class="sb">
<circle cx="99.2" cy="297.3"/>
<circle cx="68" cy="302.7"/>
<circle cx="81.7" cy="332.7"/>
</g>
<g class="sr">
<circle cx="70" cy="310.4"/>
</g>
<g class="sb">
<circle cx="78.7" cy="312.3"/>
<circle cx="100.5" cy="312.1"/>
<circle cx="107.3" cy="310.4"/>
<circle cx="91.1" cy="373.7"/>
<circle cx="69.9" cy="326.6"/>
</g>
<g class="sr">
<circle cx="89.4" cy="299.1"/>
</g>
<g class="sb">
<circle cx="53.3" cy="357"/>
<circle cx="104.9" cy="302.7"/>
</g>
<g class="sg">
<circle cx="60.1" cy="321"/>
</g>
<g class="sb">
<circle cx="87.3" cy="354.6"/>
<circle cx="66.4" cy="312.6"/>
<circle cx="91.2" cy="317.9"/>
<circle cx="89.3" cy="326.7"/>
<circle cx="97.2" cy="322.2"/>
<circle cx="73.7" cy="325.7"/>
</g>
<g class="sr">
<circle cx="130.5" cy="316.6"/>
</g>
<g class="sb">
<circle cx="110.8" cy="316.7"/>
<circle cx="74.2" cy="327.5"/>
<circle cx="75.7" cy="313.8"/>
<circle cx="81.4" cy="319.3"/>
<circle cx="72.8" cy="314.2"/>
</g>
<g class="sr">
<circle cx="128.3" cy="332.8"/>
</g>
<g class="sb">
<circle cx="92.3" cy="312.6"/>
<circle cx="130.4" cy="341.4"/>
<circle cx="86.9" cy="330.8"/>
</g>
<g class="sr">
<circle cx="131.9" cy="328"/>
<circle cx="111.7" cy="345.7"/>
<circle cx="92.5" cy="303.7"/>
</g>
<g class="sb">
<circle cx="112" cy="318.9"/>
<circle cx="78.8" cy="326.8"/>
<circle cx="82.9" cy="335.1"/>
</g>
<g class="sr">
<circle cx="123" cy="333.8"/>
</g>
<g class="sb">
<circle cx="65.9" cy="301.4"/>
<circle cx="83.2" cy="325.9"/>
<circle cx="95.4" cy="323.6"/>
<circle cx="83.4" cy="309.7"/>
</g>
<g class="sg">
<circle cx="67.1" cy="289.4"/>
</g>
<g class="sb">
<circle cx="81.1" cy="342.4"/>
<circle cx="81.2" cy="338.4"/>
<circle cx="82.1" cy="291.7"/>
<circle cx="94" cy="342.7"/>
<circle cx="90.2" cy="334.4"/>
<circle cx="101.7" cy="340.3"/>
<circle cx="81.9" cy="350.1"/>
<circle cx="77.1" cy="328.2"/>
</g>
<g class="sg">
<circle cx="74.8" cy="320.7"/>
</g>
<g class="sr">
<circle cx="54.6" cy="342.3"/>
<circle cx="97.1" cy="315"/>
</g>
<g class="sb">
<circle cx="90.7" cy="304.5"/>
<circle cx="75.2" cy="328.6"/>
</g>
<g class="sr">
<circle cx="137.2" cy="328.7"/>
</g>
<g class="sb">
<circle cx="84" cy="312.7"/>
<circle cx="139.8" cy="309.8"/>
<circle cx="89.3" cy="289.9"/>
<circle cx="76" cy="304.5"/>
</g>
<g class="sg">
<circle cx="85.4" cy="280.1"/>
</g>
<g class="sb">
<circle cx="75.7" cy="330.5"/>
<circle cx="77" cy="307.4"/>
<circle cx="88" cy="300.2"/>
</g>
<g class="sr">
<circle cx="121.3" cy="316.3"/>
</g>
<g class="sb">
<circle cx="88" cy="354.5"/>
<circle cx="80.5" cy="329.3"/>
<circle cx="80.4" cy="304.5"/>
</g>
<g class="sr">
<circle cx="123.1" cy="310"/>
</g>
<g class="sb">
<circle cx="129.1" cy="348.8"/>
</g>
<g class="sr">
<circle cx="121.5" cy="318.3"/>
<circle cx="111.5" cy="323.9"/>
</g>
<g class="sb">
<circle cx="86.3" cy="302.8"/>
<circle cx="100.8" cy="332.6"/>
<circle cx="79.8" cy="330.2"/>
</g>
<g class="sr">
<circle cx="120.8" cy="331.9"/>
</g>
<g class="sb">
<circle cx="83" cy="313"/>
<circle cx="124.3" cy="304.1"/>
<circle cx="81.6" cy="310.3"/>
<circle cx="104.4" cy="342.5"/>
<circle cx="78.5" cy="315.8"/>
</g>
<g class="sr">
<circle cx="108.8" cy="317.4"/>
<circle cx="50.6" cy="355.6"/>
</g>
<g class="sb">
<circle cx="91.6" cy="302.9"/>
</g>
<g class="sr">
<circle cx="57.9" cy="283.1"/>
</g>
<g class="sb">
<circle cx="76" cy="323.6"/>
</g>
<g class="sr">
<circle cx="117.4" cy="327.5"/>
</g>
<g class="sb">
<circle cx="91.1" cy="324.7"/>
<circle cx="129.9" cy="306.7"/>
</g>
<g class="sr">
<circle cx="108.9" cy="328.2"/>
</g>
<g class="sb">
<circle cx="107.9" cy="307.4"/>
</g>
<g class="sr">
<circle cx="129.2" cy="314.4"/>
</g>
<g class="sb">
<circle cx="81" cy="347.6"/>
<circle cx="106.8" cy="331.3"/>
<circle cx="111.3" cy="320.9"/>
<circle cx="96.7" cy="322.3"/>
</g>
<g class="sg">
<circle cx="89.9" cy="288.9"/>
</g>
<g class="sb">
<circle cx="71.8" cy="307.5"/>
<circle cx="71.8" cy="311.6"/>
</g>
<g class="sr">
<circle cx="116.2" cy="322"/>
</g>
<g class="sb">
<circle cx="95.5" cy="372.7"/>
<circle cx="78.2" cy="365.6"/>
<circle cx="92.7" cy="307.6"/>
<circle cx="135.4" cy="306.4"/>
<circle cx="70.2" cy="293.5"/>
<circle cx="86.9" cy="321.1"/>
</g>
<g class="sg">
<circle cx="88.9" cy="318.2"/>
</g>
<g class="sb">
<circle cx="74.4" cy="322.3"/>
<circle cx="89.6" cy="339.6"/>
</g>
<g class="sg">
<circle cx="74.3" cy="284"/>
</g>
<g class="sb">
<circle cx="80.9" cy="287.8"/>
<circle cx="82" cy="365.3"/>
<circle cx="73.6" cy="300.3"/>
</g>
<g class="sr">
<circle cx="125.4" cy="327.9"/>
<circle cx="48.1" cy="291.7"/>
<circle cx="99.5" cy="372.2"/>
</g>
<g class="sb">
<circle cx="92" cy="310.4"/>
<circle cx="76.6" cy="336.8"/>
</g>
<g class="sr">
<circle cx="119" cy="323.8"/>
<circle cx="139" cy="283.6"/>
</g>
<g class="sb">
<circle cx="86.5" cy="318.7"/>
</g>
<g class="sr">
<circle cx="136.9" cy="298"/>
</g>
<g class="sb">
<circle cx="85.3" cy="339.1"/>
</g>
<g class="sr">
<circle cx="80.4" cy="319.3"/>
<circle cx="114.9" cy="300.1"/>
</g>
<g class="sb">
<circle cx="74.5" cy="323.8"/>
<circle cx="79.1" cy="310.9"/>
<circle cx="102.1" cy="315"/>
<circle cx="95.4" cy="318.2"/>
<circle cx="71.5" cy="320.1"/>
<circle cx="79.7" cy="312.2"/>
<circle cx="89.2" cy="294.9"/>
<circle cx="83.6" cy="309.3"/>
<circle cx="93.9" cy="332.7"/>
<circle cx="109.4" cy="314.3"/>
</g>
<g class="sr">
<circle cx="78.7" cy="328.3"/>
</g>
<g class="sb">
<circle cx="136.8" cy="360.3"/>
<circle cx="75.1" cy="312.8"/>
<circle cx="133" cy="348.6"/>
<circle cx="94.7" cy="295.3"/>
</g>
<g class="sr">
<circle cx="129.6" cy="319.8"/>
</g>
<g class="sb">
<circle cx="71.9" cy="312.3"/>
<circle cx="88.9" cy="362"/>
<circle cx="71.9" cy="318.4"/>
<circle cx="69.4" cy="309"/>
<circle cx="73.8" cy="324.1"/>
<circle cx="99.2" cy="309.1"/>
<circle cx="92.1" cy="323.4"/>
<circle cx="139" cy="361.6"/>
<circle cx="95" cy="316.9"/>
<circle cx="79.4" cy="295.1"/>
<circle cx="105.7" cy="304.8"/>
<circle cx="73.4" cy="333.7"/>
<circle cx="93" cy="341.7"/>
<circle cx="100.6" cy="321.9"/>
<circle cx="103.3" cy="307.8"/>
<circle cx="94.9" cy="316.3"/>
<circle cx="104" cy="300.8"/>
</g>
<g class="sr">
<circle cx="106.5" cy="300.6"/>
</g>
<g class="sg">
<circle cx="63.1" cy="278.7"/>
</g>
<g class="sb">
<circle cx="85.7" cy="337"/>
<circle cx="127.8" cy="361.3"/>
<circle cx="83.8" cy="318.5"/>
</g>
<g class="sr">
<circle cx="111.7" cy="303.9"/>
<circle cx="48.6" cy="330.3"/>
</g>
<g class="sb">
<circle cx="93.4" cy="291.8"/>
<circle cx="73" cy="326.9"/>
<circle cx="105.5" cy="364.9"/>
<circle cx="73.3" cy="319.7"/>
<circle cx="97.8" cy="317.9"/>
<circle cx="99.9" cy="333"/>
<circle cx="82.8" cy="322.9"/>
<circle cx="92.7" cy="290.7"/>
<circle cx="81.9" cy="322.6"/>
<circle cx="75.8" cy="338.2"/>
<circle cx="84.2" cy="335.6"/>
</g>
<g class="sg">
<circle cx="72.3" cy="293.6"/>
</g>
<g class="sb">
<circle cx="73.4" cy="286"/>
</g>
<g class="sr">
<circle cx="86.1" cy="305.2"/>
</g>
<g class="sg">
<circle cx="78.7" cy="336.1"/>
</g>
<g class="sb">
<circle cx="76.6" cy="298.9"/>
</g>
<g class="sr">
<circle cx="139.7" cy="306.3"/>
<circle cx="121.5" cy="323.5"/>
<circle cx="88.7" cy="298.8"/>
</g>
<g class="sb">
<circle cx="81.3" cy="319.7"/>
</g>
<g class="sg">
<circle cx="84.2" cy="328.2"/>
</g>
<g class="sb">
<circle cx="83.8" cy="311.8"/>
<circle cx="74.3" cy="314.1"/>
</g>
<g class="sr">
<circle cx="105.7" cy="296.1"/>
</g>
<g class="sb">
<circle cx="70.6" cy="292.6"/>
<circle cx="84.1" cy="310.6"/>
</g>
<g class="sr">
<circle cx="106.3" cy="300.4"/>
</g>
<g class="sb">
<circle cx="139.4" cy="332.4"/>
</g>
<g class="sg">
<circle cx="53.6" cy="295.2"/>
</g>
<g class="sb">
<circle cx="74" cy="346.9"/>
<circle cx="91.8" cy="305.4"/>
<circle cx="94" cy="329.9"/>
</g>
<g class="sr">
<circle cx="112.3" cy="301.4"/>
<circle cx="128.9" cy="341.6"/>
</g>
<g class="sb">
<circle cx="74" cy="321"/>
</g>
<g class="sr">
<circle cx="126.6" cy="326.5"/>
<circle cx="89.3" cy="351.9"/>
</g>
<g class="sb">
<circle cx="102.4" cy="314"/>
<circle cx="136.7" cy="338.8"/>
<circle cx="87.8" cy="297"/>
</g>
<g class="sg">
<circle cx="66.5" cy="315.1"/>
</g>
<g class="sb">
<circle cx="90.6" cy="299.3"/>
<circle cx="114.1" cy="305.9"/>
<circle cx="71.2" cy="315.6"/>
<circle cx="84.5" cy="326"/>
<circle cx="81.6" cy="349.3"/>
<circle cx="110.2" cy="321.3"/>
<circle cx="72.5" cy="292.3"/>
<circle cx="84.9" cy="305.9"/>
<circle cx="98.6" cy="313.3"/>
<circle cx="75.1" cy="308.6"/>
</g>
<g class="sr">
<circle cx="120.4" cy="304.2"/>
</g>
<g class="sb">
<circle cx="62.4" cy="288.8"/>
<circle cx="72.2" cy="314.8"/>
</g>
<g class="sg">
<circle cx="65.8" cy="289.9"/>
</g>
<g class="sb">
<circle cx="71" cy="296.7"/>
<circle cx="87.6" cy="304.8"/>
</g>
<g class="sr">
<circle cx="51.7" cy="349.4"/>
</g>
<g class="sb">
<circle cx="50.3" cy="355.3"/>
<circle cx="77.6" cy="306.4"/>
</g>
<g class="sr">
<circle cx="111.6" cy="320.1"/>
<circle cx="113.9" cy="310.5"/>
</g>
<g class="sb">
<circle cx="103.8" cy="345.9"/>
<circle cx="73.2" cy="323.8"/>
<circle cx="91" cy="344.7"/>
<circle cx="121.5" cy="336"/>
</g>
<g class="sr">
<circle cx="111.1" cy="310.4"/>
<circle cx="127.9" cy="338.7"/>
<circle cx="110.7" cy="312.7"/>
<circle cx="124.8" cy="326.5"/>
</g>
<g class="sb">
<circle cx="98.5" cy="310.3"/>
<circle cx="88.3" cy="319.7"/>
</g>
<g class="sr">
<circle cx="136.2" cy="284.5"/>
</g>
<g class="sg">
<circle cx="79.7" cy="310.4"/>
</g>
<g class="sr">
<circle cx="48.6" cy="369.5"/>
</g>
<g class="sb">
<circle cx="96.6" cy="293.1"/>
<circle cx="101" cy="308.5"/>
<circle cx="79.2" cy="345.3"/>
<circle cx="119.2" cy="331.3"/>
<circle cx="87.4" cy="328"/>
<circle cx="85.3" cy="329.3"/>
<circle cx="86.4" cy="301.9"/>
<circle cx="54.5" cy="373.2"/>
</g>
<g class="sr">
<circle cx="129.2" cy="324.2"/>
</g>
<g class="sb">
<circle cx="72.1" cy="322.5"/>
<circle cx="93.3" cy="304.7"/>
</g>
<g class="sr">
<circle cx="106.8" cy="310.8"/>
</g>
<g class="sb">
<circle cx="78.2" cy="307.3"/>
<circle cx="90.3" cy="308.4"/>
</g>
<g class="sr">
<circle cx="137.2" cy="319.9"/>
</g>
<g class="sb">
<circle cx="92.7" cy="315.6"/>
<circle cx="87.2" cy="321.1"/>
<circle cx="93.3" cy="309"/>
<circle cx="99.9" cy="285.3"/>
<circle cx="133.1" cy="312.4"/>
</g>
<g class="sr">
<circle cx="88.6" cy="320"/>
</g>
<g class="sb">
<circle cx="94.4" cy="301.8"/>
<circle cx="66.9" cy="310.2"/>
<circle cx="65.3" cy="304.4"/>
<circle cx="90.6" cy="314.2"/>
</g>
<g class="sg">
<circle cx="70.5" cy="301.2"/>
</g>
<g class="sb">
<circle cx="68" cy="324.7"/>
<circle cx="75" cy="281.7"/>
<circle cx="125.6" cy="310.7"/>
<circle cx="74.2" cy="306.4"/>
<circle cx="87" cy="314.9"/>
<circle cx="79.4" cy="319.8"/>
<circle cx="83.5" cy="363.1"/>
<circle cx="113.4" cy="313"/>
<circle cx="77.8" cy="320.9"/>
<circle cx="126.8" cy="297.7"/>
<circle cx="101.6" cy="321.4"/>
<circle cx="103.7" cy="311.8"/>
<circle cx="89.7" cy="293.8"/>
</g>
<g class="sr">
<circle cx="131.1" cy="328.8"/>
</g>
<g class="sb">
<circle cx="138.8" cy="318.7"/>
</g>
<g class="sg">
<circle cx="72.4" cy="303.7"/>
</g>
<g class="sb">
<circle cx="80.5" cy="365.5"/>
<circle cx="89.4" cy="314"/>
<circle cx="118.9" cy="320.6"/>
<circle cx="86.6" cy="306"/>
<circle cx="82.2" cy="349"/>
</g>
<g class="sr">
<circle cx="112.7" cy="306.1"/>
<circle cx="133" cy="299.4"/>
</g>
<g class="sb">
<circle cx="77.2" cy="347.6"/>
<circle cx="100.3" cy="302.6"/>
<circle cx="88.9" cy="321.2"/>
</g>
<g class="sr">
<circle cx="136.5" cy="318"/>
</g>
<g class="sb">
<circle cx="109.1" cy="330.7"/>
<circle cx="78.6" cy="320.4"/>
</g>
<g class="sr">
<circle cx="126.7" cy="304"/>
</g>
<g class="sb">
<circle cx="86.4" cy="305.9"/>
<circle cx="72.9" cy="324.6"/>
</g>
<g class="sr">
<circle cx="121.7" cy="310"/>
</g>
<g class="sb">
<circle cx="85.5" cy="288.4"/>
<circle cx="100.3" cy="312"/>
<circle cx="72.6" cy="288.9"/>
</g>
<g class="sr">
<circle cx="124.5" cy="323"/>
</g>
<g class="sb">
<circle cx="87.9" cy="338.6"/>
<circle cx="85.5" cy="335.7"/>
<circle cx="79.6" cy="334.5"/>
</g>
<g class="sg">
<circle cx="68.5" cy="307.5"/>
</g>
<g class="sb">
<circle cx="66.7" cy="310.9"/>
<circle cx="79.4" cy="290.4"/>
<circle cx="74.7" cy="331"/>
<circle cx="93.1" cy="340.9"/>
<circle cx="82.4" cy="320.1"/>
</g>
<g class="sr">
<circle cx="113.9" cy="323"/>
</g>
<g class="sb">
<circle cx="92.2" cy="306"/>
<circle cx="87.6" cy="322.3"/>
</g>
<g class="sr">
<circle cx="125.1" cy="314.4"/>
</g>
<g class="sb">
<circle cx="93.4" cy="313.1"/>
<circle cx="129.9" cy="332.1"/>
</g>
<g class="sr">
<circle cx="140.3" cy="307.7"/>
</g>
<g class="sb">
<circle cx="78.2" cy="322.9"/>
<circle cx="116.1" cy="308"/>
<circle cx="85.1" cy="308.8"/>
<circle cx="80.1" cy="290.2"/>
<circle cx="73.6" cy="314.4"/>
<circle cx="73.4" cy="318.2"/>
<circle cx="75.1" cy="304.1"/>
<circle cx="78.3" cy="302.3"/>
<circle cx="69.9" cy="328.2"/>
<circle cx="93" cy="294.2"/>
<circle cx="84.7" cy="339.8"/>
<circle cx="96.3" cy="324.8"/>
<circle cx="78.1" cy="359.2"/>
<circle cx="141.4" cy="315.5"/>
<circle cx="95" cy="305.8"/>
<circle cx="55.6" cy="350.5"/>
<circle cx="113.3" cy="321.8"/>
<circle cx="86.9" cy="341.1"/>
</g>
<g class="sr">
<circle cx="120.2" cy="299"/>
</g>
<g class="sb">
<circle cx="82.1" cy="310.4"/>
</g>
<g class="sr">
<circle cx="113.8" cy="311"/>
<circle cx="119.9" cy="319.1"/>
</g>
<g class="sb">
<circle cx="84.9" cy="332.9"/>
</g>
<g class="sr">
<circle cx="109.1" cy="315.2"/>
</g>
<g class="sb">
<circle cx="96.1" cy="325.7"/>
<circle cx="90.4" cy="346.8"/>
<circle cx="130.5" cy="326.2"/>
<circle cx="136" cy="308.9"/>
<circle cx="84" cy="288.4"/>
<circle cx="131.8" cy="323.3"/>
<circle cx="128.7" cy="328.3"/>
<circle cx="78.4" cy="295.9"/>
<circle cx="65.9" cy="336.3"/>
<circle cx="114.2" cy="314"/>
<circle cx="76.5" cy="323.4"/>
<circle cx="85.7" cy="312.7"/>
<circle cx="92.9" cy="319.9"/>
<circle cx="72.1" cy="296.9"/>
<circle cx="78.5" cy="320.6"/>
<circle cx="82.3" cy="311.1"/>
<circle cx="80.3" cy="316.3"/>
</g>
<g class="sr">
<circle cx="66.1" cy="335.7"/>
</g>
<g class="sg">
<circle cx="89.1" cy="289.6"/>
</g>
<g class="sb">
<circle cx="68.5" cy="295.1"/>
</g>
<g class="sr">
<circle cx="120.2" cy="307"/>
</g>
<g class="sb">
<circle cx="71" cy="316"/>
<circle cx="113.5" cy="330"/>
<circle cx="73.8" cy="309.9"/>
</g>
<g class="sr">
<circle cx="98.8" cy="359.8"/>
</g>
<g class="sb">
<circle cx="84.3" cy="338.1"/>
<circle cx="103.3" cy="323.9"/>
<circle cx="98.8" cy="312.9"/>
</g>
<g class="sr">
<circle cx="119.9" cy="313.9"/>
</g>
<g class="sb">
<circle cx="65.4" cy="290.4"/>
<circle cx="88.8" cy="302.3"/>
<circle cx="71" cy="322.6"/>
</g>
<g class="sr">
<circle cx="126.9" cy="321.5"/>
</g>
<g class="sb">
<circle cx="105.6" cy="314.2"/>
<circle cx="75.2" cy="330.5"/>
<circle cx="140.4" cy="334.5"/>
<circle cx="135" cy="296.4"/>
<circle cx="84.9" cy="361.8"/>
<circle cx="78.8" cy="312.3"/>
<circle cx="94.1" cy="323.2"/>
<circle cx="66.3" cy="305.8"/>
</g>
<g class="sg">
<circle cx="76.8" cy="323.9"/>
</g>
<g class="sb">
<circle cx="95.3" cy="292.6"/>
<circle cx="61.9" cy="306.1"/>
<circle cx="81.6" cy="303.8"/>
<circle cx="85.9" cy="322"/>
</g>
<g class="sr">
<circle cx="124.9" cy="324.2"/>
</g>
<g class="sb">
<circle cx="80.6" cy="315.5"/>
<circle cx="88" cy="331.6"/>
</g>
<g class="sr">
<circle cx="104.6" cy="301.6"/>
</g>
<g class="sg">
<circle cx="69.4" cy="301"/>
</g>
<g class="sb">
<circle cx="88.9" cy="339.7"/>
<circle cx="79.2" cy="361.1"/>
<circle cx="102.8" cy="324.4"/>
<circle cx="78" cy="319.9"/>
<circle cx="75.5" cy="325"/>
<circle cx="92.4" cy="321.3"/>
<circle cx="84.4" cy="296.5"/>
</g>
<g class="sr">
<circle cx="89.1" cy="312.3"/>
</g>
<g class="sb">
<circle cx="79.5" cy="297.9"/>
<circle cx="109.5" cy="322.4"/>
<circle cx="77.6" cy="312.6"/>
<circle cx="77.2" cy="326.4"/>
</g>
<g class="sr">
<circle cx="99.9" cy="309.8"/>
</g>
<g class="sg">
<circle cx="69.6" cy="311.1"/>
</g>
<g class="sb">
<circle cx="71.2" cy="322.5"/>
</g>
<g class="sg">
<circle cx="73.6" cy="300.6"/>
</g>
<g class="sb">
<circle cx="99.7" cy="311.3"/>
<circle cx="92.3" cy="311.9"/>
<circle cx="67" cy="314.6"/>
<circle cx="74.7" cy="325.7"/>
<circle cx="88.8" cy="321.2"/>
<circle cx="90.7" cy="307.2"/>
</g>
<g class="sr">
<circle cx="136.4" cy="313.9"/>
<circle cx="119" cy="313.3"/>
<circle cx="113.3" cy="306"/>
</g>
<g class="sb">
<circle cx="83.7" cy="332.3"/>
</g>
<g class="sr">
<circle cx="120.8" cy="310.9"/>
</g>
<g class="sb">
<circle cx="80.1" cy="288.3"/>
<circle cx="92.5" cy="297.1"/>
<circle cx="92.8" cy="329.1"/>
<circle cx="81.3" cy="320.5"/>
<circle cx="82.5" cy="290.8"/>
</g>
<g class="sr">
<circle cx="104.3" cy="305.1"/>
</g>
<g class="sb">
<circle cx="132.4" cy="344.6"/>
<circle cx="94.6" cy="317.1"/>
</g>
<g class="sr">
<circle cx="131.2" cy="313.2"/>
</g>
<g class="sb">
<circle cx="70.1" cy="322.5"/>
<circle cx="87" cy="288"/>
<circle cx="76.3" cy="350.6"/>
<circle cx="87.2" cy="332.6"/>
</g>
<g class="sr">
<circle cx="131.5" cy="312"/>
</g>
<g class="sb">
<circle cx="83.6" cy="313.6"/>
<circle cx="92.3" cy="307"/>
<circle cx="82.9" cy="302.7"/>
</g>
<g class="sr">
<circle cx="96.9" cy="323.8"/>
</g>
<g class="sb">
<circle cx="50.7" cy="360.8"/>
</g>
<g class="sr">
<circle cx="126.4" cy="308.3"/>
<circle cx="115.9" cy="297.4"/>
</g>
<g class="sb">
<circle cx="82.7" cy="316.7"/>
<circle cx="103.7" cy="323.1"/>
<circle cx="80.2" cy="337"/>
<circle cx="74" cy="303.7"/>
</g>
<g class="sg">
<circle cx="66.6" cy="308.5"/>
</g>
<g class="sb">
<circle cx="97.6" cy="317.4"/>
<circle cx="78.7" cy="343.8"/>
</g>
<g class="sg">
<circle cx="75" cy="310"/>
</g>
<g class="sr">
<circle cx="123" cy="325.9"/>
</g>
<g class="sb">
<circle cx="83" cy="302.9"/>
<circle cx="82.9" cy="297.3"/>
<circle cx="98" cy="329.4"/>
<circle cx="75.8" cy="314.7"/>
<circle cx="86.8" cy="313.3"/>
<circle cx="84.7" cy="317.4"/>
<circle cx="82.1" cy="321.5"/>
<circle cx="80.6" cy="342.5"/>
<circle cx="83.4" cy="295.7"/>
<circle cx="86.2" cy="366.1"/>
<circle cx="88.1" cy="320.9"/>
<circle cx="78.4" cy="317"/>
<circle cx="102.8" cy="289.8"/>
<circle cx="73.9" cy="302.9"/>
<circle cx="72.1" cy="329.1"/>
<circle cx="72.3" cy="334.7"/>
<circle cx="91.2" cy="301"/>
<circle cx="86.7" cy="298.5"/>
<circle cx="95.1" cy="299.7"/>
<circle cx="83.8" cy="345.6"/>
<circle cx="85.3" cy="315.1"/>
<circle cx="84.8" cy="295.5"/>
</g>
<g class="sr">
<circle cx="127.4" cy="314.5"/>
</g>
<g class="sb">
<circle cx="87.5" cy="316.1"/>
<circle cx="91.3" cy="302.2"/>
</g>
<g class="sr">
<circle cx="124.4" cy="312"/>
<circle cx="128.5" cy="317.4"/>
</g>
<g class="sb">
<circle cx="88.6" cy="300.3"/>
<circle cx="78.7" cy="319.5"/>
<circle cx="84.9" cy="304.4"/>
<circle cx="78.3" cy="353.1"/>
<circle cx="91.9" cy="327.3"/>
</g>
<g class="sr">
<circle cx="54.8" cy="309"/>
</g>
<g class="sb">
<circle cx="89.2" cy="318.1"/>
<circle cx="77" cy="333.2"/>
</g>
<g class="sr">
<circle cx="138.1" cy="318.2"/>
</g>
<g class="sb">
<circle cx="83.2" cy="293.1"/>
</g>
<g class="sg">
<circle cx="86.4" cy="298.5"/>
</g>
<g class="sb">
<circle cx="77.2" cy="327.2"/>
<circle cx="115.6" cy="333"/>
<circle cx="82.1" cy="295.3"/>
</g>
<g class="sr">
<circle cx="116.1" cy="328.2"/>
</g>
<g class="sb">
<circle cx="81.1" cy="303.8"/>
<circle cx="96.3" cy="328.3"/>
<circle cx="91.8" cy="319.2"/>
<circle cx="75.1" cy="326.6"/>
</g>
<g class="sr">
<circle cx="61.3" cy="337.6"/>
<circle cx="115.9" cy="310.9"/>
</g>
<g class="sb">
<circle cx="89.4" cy="303.3"/>
</g>
<g class="sr">
<circle cx="103.1" cy="307.9"/>
</g>
<g class="sb">
<circle cx="89.4" cy="296.7"/>
<circle cx="95.4" cy="302.8"/>
<circle cx="86.9" cy="301.2"/>
<circle cx="100.9" cy="321.9"/>
<circle cx="90.6" cy="319.1"/>
<circle cx="111" cy="304.6"/>
<circle cx="107.3" cy="322.5"/>
<circle cx="85.4" cy="353.5"/>
</g>
<g class="sr">
<circle cx="122" cy="321"/>
<circle cx="55.5" cy="288.2"/>
</g>
<g class="sb">
<circle cx="85" cy="325.6"/>
<circle cx="124.7" cy="328.8"/>
<circle cx="65.7" cy="306"/>
<circle cx="78.1" cy="321"/>
</g>
<g class="sr">
<circle cx="96.4" cy="303.2"/>
</g>
<g class="sb">
<circle cx="76.9" cy="321.4"/>
<circle cx="73.8" cy="301.7"/>
<circle cx="130.2" cy="307.5"/>
<circle cx="85.3" cy="297.9"/>
</g>
<g class="sr">
<circle cx="110.9" cy="299"/>
</g>
<g class="sb">
<circle cx="87.4" cy="335"/>
<circle cx="90.3" cy="306.1"/>
</g>
<g class="sr">
<circle cx="123.2" cy="320.1"/>
<circle cx="124.6" cy="311.8"/>
</g>
<g class="sb">
<circle cx="71.8" cy="311.5"/>
<circle cx="98.6" cy="296.3"/>
</g>
<g class="sr">
<circle cx="117.5" cy="313.4"/>
</g>
<g class="sb">
<circle cx="92.1" cy="288.8"/>
</g>
<g class="sr">
<circle cx="115.3" cy="330.1"/>
</g>
<g class="sb">
<circle cx="89.4" cy="370.5"/>
<circle cx="76.2" cy="334.3"/>
<circle cx="70.5" cy="313.7"/>
<circle cx="74.6" cy="332.2"/>
</g>
<g class="sr">
<circle cx="82.6" cy="322.7"/>
</g>
<g class="sb">
<circle cx="96.1" cy="337.4"/>
</g>
<g class="sr">
<circle cx="119.8" cy="299.9"/>
</g>
<g class="sb">
<circle cx="73.8" cy="299.5"/>
</g>
<g class="sr">
<circle cx="105.4" cy="310.9"/>
</g>
<g class="sb">
<circle cx="89.4" cy="348.5"/>
<circle cx="120.7" cy="337.1"/>
<circle cx="77.8" cy="300.7"/>
<circle cx="99" cy="308.4"/>
<circle cx="84.1" cy="330.1"/>
</g>
<g class="sr">
<circle cx="117.7" cy="327.4"/>
<circle cx="137.1" cy="331.2"/>
</g>
<g class="sb">
<circle cx="70.9" cy="320.1"/>
<circle cx="85.7" cy="373.9"/>
<circle cx="76.3" cy="318.5"/>
</g>
<g class="sr">
<circle cx="110.9" cy="316.8"/>
</g>
<g class="sb">
<circle cx="78.6" cy="315.1"/>
<circle cx="128" cy="314.8"/>
<circle cx="85.8" cy="318"/>
<circle cx="79" cy="320.7"/>
<circle cx="92.1" cy="330.5"/>
<circle cx="90.3" cy="316.2"/>
<circle cx="95.8" cy="334.1"/>
</g>
<g class="sr">
<circle cx="122.5" cy="314.6"/>
</g>
<g class="sb">
<circle cx="98.7" cy="314"/>
</g>
<g class="sr">
<circle cx="117.9" cy="305.3"/>
</g>
<g class="sb">
<circle cx="92.7" cy="326.8"/>
</g>
<g class="sr">
<circle cx="142.8" cy="315"/>
<circle cx="122.6" cy="317.9"/>
</g>
<g class="sb">
<circle cx="55" cy="347.6"/>
<circle cx="79.4" cy="341.7"/>
<circle cx="95.5" cy="321.6"/>
<circle cx="74.6" cy="318.5"/>
<circle cx="88.8" cy="348.6"/>
<circle cx="85.9" cy="320.4"/>
<circle cx="92.3" cy="325.9"/>
<circle cx="64.1" cy="369.7"/>
</g>
<g class="sr">
<circle cx="62.1" cy="314.8"/>
</g>
<g class="sb">
<circle cx="103.6" cy="312.8"/>
</g>
<g class="sg">
<circle cx="80.1" cy="296.6"/>
</g>
<g class="sb">
<circle cx="123.5" cy="321.6"/>
</g>
<g class="sr">
<circle cx="112.3" cy="309.7"/>
<circle cx="71.5" cy="374.4"/>
</g>
<g class="sb">
<circle cx="86.5" cy="325.5"/>
</g>
<g class="sr">
<circle cx="108.2" cy="319.4"/>
<circle cx="115.9" cy="311.6"/>
<circle cx="120.2" cy="313.8"/>
</g>
<g class="sb">
<circle cx="89.8" cy="299.5"/>
<circle cx="77.3" cy="313.7"/>
<circle cx="86.8" cy="318.4"/>
</g>
<g class="sr">
<circle cx="100.8" cy="280.4"/>
</g>
<g class="sb">
<circle cx="98.1" cy="307.2"/>
<circle cx="72.4" cy="307.5"/>
<circle cx="93.5" cy="317.7"/>
<circle cx="83" cy="301.4"/>
<circle cx="86.9" cy="326.6"/>
<circle cx="83.7" cy="360.1"/>
</g>
<g class="sr">
<circle cx="112.6" cy="304.3"/>
<circle cx="119" cy="309.8"/>
</g>
<g class="sb">
<circle cx="73.5" cy="303.5"/>
<circle cx="83.8" cy="301.7"/>
<circle cx="108.3" cy="340.3"/>
<circle cx="88.3" cy="302.5"/>
<circle cx="79.6" cy="304.1"/>
</g>
<g class="sr">
<circle cx="112.1" cy="299.1"/>
<circle cx="104.5" cy="296.2"/>
<circle cx="47.8" cy="362.8"/>
</g>
<g class="sb">
<circle cx="82.1" cy="292.5"/>
<circle cx="97.5" cy="302.8"/>
<circle cx="91.3" cy="372"/>
</g>
<g class="sr">
<circle cx="61.8" cy="367.5"/>
</g>
<g class="sb">
<circle cx="89.7" cy="334.3"/>
<circle cx="92.1" cy="317.2"/>
<circle cx="72.3" cy="326.4"/>
<circle cx="91.8" cy="303.1"/>
<circle cx="105.2" cy="295.2"/>
<circle cx="79" cy="306.4"/>
<circle cx="84.2" cy="316.1"/>
<circle cx="85.6" cy="289.1"/>
<circle cx="70.1" cy="325.8"/>
</g>
<g class="sr">
<circle cx="99.9" cy="317.9"/>
</g>
<g class="sb">
<circle cx="125.4" cy="316.6"/>
<circle cx="109.3" cy="339.1"/>
</g>
<g class="sr">
<circle cx="142.5" cy="316.3"/>
</g>
<g class="sb">
<circle cx="79.1" cy="309.5"/>
<circle cx="84.3" cy="331.4"/>
<circle cx="77.2" cy="307.9"/>
<circle cx="104" cy="310.5"/>
<circle cx="87" cy="325.9"/>
</g>
<g class="sr">
<circle cx="74.3" cy="327.3"/>
</g>
<g class="sb">
<circle cx="83.6" cy="330.6"/>
<circle cx="81" cy="298.7"/>
</g>
<g class="sr">
<circle cx="108.2" cy="294.9"/>
<circle cx="140.5" cy="320"/>
</g>
<g class="sb">
<circle cx="97.4" cy="327.2"/>
<circle cx="87.9" cy="308.1"/>
<circle cx="80.4" cy="319.2"/>
<circle cx="83.6" cy="341.7"/>
</g>
<g class="sr">
<circle cx="126.9" cy="314.4"/>
</g>
<g class="sb">
<circle cx="89.4" cy="305"/>
<circle cx="79.6" cy="317.4"/>
<circle cx="70.9" cy="316.3"/>
<circle cx="68.9" cy="303.8"/>
</g>
<g class="sg">
<circle cx="51.8" cy="288.3"/>
</g>
<g class="sb">
<circle cx="96" cy="368"/>
<circle cx="79.2" cy="342.8"/>
<circle cx="70.6" cy="303.4"/>
<circle cx="86.7" cy="337"/>
</g>
<g class="sr">
<circle cx="129.8" cy="331.6"/>
</g>
<g class="sb">
<circle cx="98.5" cy="308.1"/>
</g>
<g class="sr">
<circle cx="115.6" cy="324.9"/>
</g>
<g class="sb">
<circle cx="87.9" cy="305.7"/>
<circle cx="128.3" cy="321.3"/>
</g>
<g class="sg">
<circle cx="69.7" cy="304.4"/>
<circle cx="74.3" cy="307.9"/>
</g>
<g class="sb">
<circle cx="117.1" cy="351.5"/>
<circle cx="75.9" cy="295.5"/>
<circle cx="74.3" cy="298.7"/>
<circle cx="80.5" cy="350.2"/>
<circle cx="74.4" cy="329"/>
</g>
<g class="sr">
<circle cx="134.1" cy="298.3"/>
</g>
<g class="sb">
<circle cx="61.7" cy="299.2"/>
<circle cx="95.3" cy="324"/>
<circle cx="78.4" cy="296.8"/>
<circle cx="89.3" cy="317.4"/>
<circle cx="75.1" cy="291"/>
<circle cx="82" cy="331.4"/>
<circle cx="84.3" cy="300.7"/>
<circle cx="81.1" cy="320.8"/>
</g>
<g class="sr">
<circle cx="118" cy="321.8"/>
</g>
<g class="sb">
<circle cx="78.9" cy="316.5"/>
<circle cx="89.9" cy="295.9"/>
<circle cx="109.3" cy="338.6"/>
<circle cx="78.2" cy="302.5"/>
<circle cx="96.5" cy="309"/>
<circle cx="82.4" cy="325.7"/>
<circle cx="75" cy="288.4"/>
<circle cx="101.6" cy="319.2"/>
</g>
<g class="sr">
<circle cx="119.8" cy="327.2"/>
</g>
<g class="sb">
<circle cx="93" cy="312"/>
<circle cx="77" cy="296.7"/>
<circle cx="84.5" cy="305"/>
<circle cx="87.9" cy="310.9"/>
<circle cx="79.4" cy="286.4"/>
<circle cx="86.5" cy="322.6"/>
<circle cx="84" cy="314.9"/>
<circle cx="138.6" cy="326.3"/>
<circle cx="121.8" cy="325"/>
<circle cx="79.1" cy="310.8"/>
</g>
<g class="sr">
<circle cx="112.6" cy="354.7"/>
</g>
<g class="sb">
<circle cx="121.8" cy="340.5"/>
<circle cx="111.2" cy="334.5"/>
<circle cx="83.2" cy="370.9"/>
<circle cx="81.7" cy="291.2"/>
<circle cx="75.1" cy="334.8"/>
</g>
<g class="sr">
<circle cx="117.3" cy="301.1"/>
</g>
<g class="sb">
<circle cx="100.8" cy="322.6"/>
<circle cx="85.2" cy="309.3"/>
<circle cx="74.1" cy="302.9"/>
<circle cx="74.9" cy="301.9"/>
<circle cx="74.1" cy="303.2"/>
<circle cx="69.3" cy="291.3"/>
<circle cx="82" cy="354.9"/>
<circle cx="96.9" cy="311.9"/>
<circle cx="88" cy="311.7"/>
<circle cx="91" cy="322.7"/>
<circle cx="99.7" cy="318.8"/>
</g>
<g class="sr">
<circle cx="53.1" cy="362"/>
</g>
<g class="sb">
<circle cx="84.2" cy="288.8"/>
<circle cx="81.3" cy="306.4"/>
<circle cx="132.8" cy="324.9"/>
</g>
<g class="sr">
<circle cx="128.3" cy="340.1"/>
</g>
<g class="sb">
<circle cx="107.8" cy="316.6"/>
<circle cx="90.3" cy="316.7"/>
<circle cx="86.4" cy="359.4"/>
<circle cx="132.3" cy="330.4"/>
<circle cx="102.4" cy="288.5"/>
<circle cx="90.4" cy="312.3"/>
</g>
<g class="sr">
<circle cx="91.9" cy="283.8"/>
</g>
<g class="sb">
<circle cx="91.7" cy="285.7"/>
<circle cx="141.6" cy="333.8"/>
</g>
<g class="sg">
<circle cx="52.4" cy="347.7"/>
</g>
<g class="sb">
<circle cx="84.2" cy="336.6"/>
<circle cx="74.3" cy="328.2"/>
<circle cx="72.8" cy="295.4"/>
</g>
<g class="sr">
<circle cx="129.8" cy="331.7"/>
</g>
<g class="sb">
<circle cx="77.3" cy="297.2"/>
</g>
<g class="sr">
<circle cx="112.8" cy="306"/>
</g>
<g class="sb">
<circle cx="101.7" cy="312.3"/>
</g>
<g class="sr">
<circle cx="133.2" cy="331.9"/>
</g>
<g class="sb">
<circle cx="85.4" cy="365.7"/>
</g>
<g class="sr">
<circle cx="128.3" cy="312.9"/>
</g>
<g class="sb">
<circle cx="94.5" cy="307.4"/>
<circle cx="83.2" cy="307.9"/>
<circle cx="120.8" cy="299.6"/>
<circle cx="83.1" cy="292.7"/>
<circle cx="93.2" cy="335.9"/>
<circle cx="68" cy="289.9"/>
<circle cx="80.3" cy="301"/>
</g>
<g class="sg">
<circle cx="74.2" cy="304.9"/>
</g>
<g class="sb">
<circle cx="87.4" cy="365.5"/>
<circle cx="95.5" cy="304.7"/>
<circle cx="92.1" cy="317.5"/>
</g>
<g class="sr">
<circle cx="83.3" cy="369.9"/>
<circle cx="120.5" cy="318.1"/>
<circle cx="142.2" cy="339"/>
<circle cx="61.7" cy="300.3"/>
</g>
<g class="sb">
<circle cx="103.2" cy="340"/>
<circle cx="86.3" cy="290.1"/>
<circle cx="92.8" cy="308.2"/>
<circle cx="85.7" cy="305.5"/>
<circle cx="71.2" cy="316.2"/>
<circle cx="91.6" cy="315.5"/>
<circle cx="80.8" cy="338.3"/>
<circle cx="100.9" cy="326.4"/>
</g>
<g class="sr">
<circle cx="138.5" cy="339.5"/>
</g>
<g class="sb">
<circle cx="81.8" cy="322.9"/>
</g>
<g class="sr">
<circle cx="119.4" cy="308.8"/>
</g>
<g class="sb">
<circle cx="85" cy="309.3"/>
</g>
<g class="sr">
<circle cx="111" cy="312.1"/>
</g>
<g class="sb">
<circle cx="94.8" cy="289.5"/>
<circle cx="84.1" cy="347.7"/>
<circle cx="100.8" cy="317.2"/>
<circle cx="97.4" cy="291.9"/>
<circle cx="74.8" cy="336.1"/>
<circle cx="120.1" cy="316.1"/>
</g>
<g class="sr">
<circle cx="85" cy="327.6"/>
</g>
<g class="sb">
<circle cx="100.5" cy="319.9"/>
<circle cx="100.7" cy="333.8"/>
<circle cx="81.2" cy="319"/>
<circle cx="79.2" cy="313.5"/>
<circle cx="102.2" cy="291.1"/>
<circle cx="97.8" cy="293.9"/>
<circle cx="68.5" cy="315.9"/>
<circle cx="105.3" cy="336.9"/>
<circle cx="71.4" cy="330.3"/>
<circle cx="142" cy="353.2"/>
<circle cx="124.5" cy="313.3"/>
<circle cx="80.2" cy="354.9"/>
</g>
<g class="sg">
<circle cx="76.8" cy="299.9"/>
</g>
<g class="sb">
<circle cx="98.1" cy="295.4"/>
<circle cx="89.7" cy="349.7"/>
<circle cx="84.6" cy="326.2"/>
<circle cx="93.4" cy="302.4"/>
<circle cx="79.1" cy="329.7"/>
<circle cx="115.7" cy="316.4"/>
<circle cx="78.5" cy="339.6"/>
<circle cx="80.7" cy="278.8"/>
</g>
<g class="sg">
<circle cx="71.6" cy="313.8"/>
</g>
<g class="sb">
<circle cx="86.8" cy="341.3"/>
<circle cx="77.5" cy="310.8"/>
<circle cx="92.5" cy="310.3"/>
<circle cx="95.4" cy="312.3"/>
<circle cx="70.2" cy="308.8"/>
</g>
<g class="sr">
<circle cx="77.6" cy="323.9"/>
</g>
<g class="sb">
<circle cx="83.5" cy="320"/>
<circle cx="97.3" cy="310.3"/>
<circle cx="87.6" cy="291.5"/>
</g>
<g class="sr">
<circle cx="49.7" cy="342.3"/>
<circle cx="116.7" cy="322.7"/>
<circle cx="134.3" cy="353.6"/>
<circle cx="115.9" cy="302.3"/>
</g>
<g class="sb">
<circle cx="91" cy="309.6"/>
<circle cx="85.6" cy="319"/>
<circle cx="75.4" cy="291.6"/>
</g>
<g class="sr">
<circle cx="109.3" cy="305.9"/>
</g>
<g class="sb">
<circle cx="90.3" cy="310.5"/>
<circle cx="73" cy="325.2"/>
</g>
<g class="sr">
<circle cx="60.1" cy="307.1"/>
<circle cx="129.3" cy="331.7"/>
<circle cx="53.8" cy="347.2"/>
</g>
<g class="sb">
<circle cx="74.9" cy="373.6"/>
<circle cx="87.6" cy="325.1"/>
<circle cx="83.7" cy="319"/>
<circle cx="105.1" cy="303.3"/>
<circle cx="87.2" cy="344.8"/>
</g>
<g class="sr">
<circle cx="106.3" cy="359.5"/>
</g>
<g class="sb">
<circle cx="98.3" cy="294.5"/>
</g>
<g class="sr">
<circle cx="121.5" cy="315.8"/>
</g>
<g class="sb">
<circle cx="73.5" cy="299"/>
</g>
<g class="sr">
<circle cx="53" cy="343.7"/>
</g>
<g class="sb">
<circle cx="67.8" cy="290.1"/>
<circle cx="82" cy="312.7"/>
<circle cx="68.5" cy="324"/>
<circle cx="95.5" cy="292.3"/>
<circle cx="129.2" cy="344"/>
<circle cx="66.1" cy="288.4"/>
<circle cx="71.3" cy="321"/>
<circle cx="103.3" cy="313.8"/>
<circle cx="93.4" cy="309.3"/>
<circle cx="71.1" cy="314"/>
<circle cx="103" cy="317.8"/>
<circle cx="91.4" cy="309.8"/>
<circle cx="86.9" cy="291.2"/>
</g>
<g class="sr">
<circle cx="58.1" cy="342.4"/>
</g>
<g class="sb">
<circle cx="116.6" cy="352.1"/>
</g>
<g class="sr">
<circle cx="92.1" cy="296.4"/>
</g>
<g class="sb">
<circle cx="121" cy="324.1"/>
<circle cx="101.5" cy="328.9"/>
<circle cx="109.8" cy="298.8"/>
<circle cx="116.4" cy="311.4"/>
</g>
<g class="sr">
<circle cx="134.7" cy="369.7"/>
</g>
<g class="sb">
<circle cx="75.2" cy="293.3"/>
</g>
<g class="sg">
<circle cx="67.6" cy="298.3"/>
</g>
<g class="sr">
<circle cx="120.8" cy="309.4"/>
<circle cx="94.4" cy="310.2"/>
</g>
<g class="sb">
<circle cx="91.4" cy="326.2"/>
</g>
<g class="sr">
<circle cx="115.2" cy="323.6"/>
</g>
<g class="sg">
<circle cx="62.1" cy="283.1"/>
</g>
<g class="sb">
<circle cx="70.5" cy="372.7"/>
<circle cx="84.8" cy="308.7"/>
<circle cx="83.2" cy="312.2"/>
<circle cx="93.8" cy="369.1"/>
<circle cx="91" cy="304.4"/>
</g>
<g class="sr">
<circle cx="114.8" cy="302.6"/>
</g>
<g class="sg">
<circle cx="49.1" cy="351.8"/>
</g>
<g class="sr">
<circle cx="74.7" cy="339.7"/>
<circle cx="53.1" cy="295.6"/>
</g>
<g class="sb">
<circle cx="71.9" cy="292.9"/>
<circle cx="91" cy="314.3"/>
</g>
<g class="sr">
<circle cx="102.3" cy="315.3"/>
<circle cx="52.6" cy="344.9"/>
</g>
<g class="sb">
<circle cx="87.9" cy="317.1"/>
<circle cx="74.4" cy="315"/>
<circle cx="82" cy="323.5"/>
<circle cx="85.7" cy="318.9"/>
<circle cx="117.4" cy="312.1"/>
</g>
<g class="sr">
<circle cx="112.2" cy="313"/>
</g>
<g class="sb">
<circle cx="83.5" cy="317.3"/>
<circle cx="94.8" cy="337.3"/>
<circle cx="84.4" cy="341.2"/>
<circle cx="88" cy="368.5"/>
<circle cx="123.5" cy="349.5"/>
<circle cx="79.2" cy="309.2"/>
</g>
<g class="sr">
<circle cx="92.2" cy="337.1"/>
</g>
<g class="sb">
<circle cx="102.6" cy="306.5"/>
<circle cx="89" cy="323.6"/>
<circle cx="86.3" cy="364.8"/>
<circle cx="82.5" cy="297.3"/>
<circle cx="84.6" cy="344.7"/>
<circle cx="86.7" cy="313.9"/>
<circle cx="70.6" cy="312.8"/>
</g>
<g class="sg">
<circle cx="71.5" cy="291.8"/>
</g>
<g class="sb">
<circle cx="102.5" cy="333.3"/>
<circle cx="95.9" cy="314.9"/>
<circle cx="96.2" cy="302"/>
<circle cx="93.9" cy="329.6"/>
<circle cx="107" cy="311.1"/>
</g>
<g class="sr">
<circle cx="121.8" cy="326.8"/>
</g>
<g class="sb">
<circle cx="88.4" cy="324"/>
</g>
<g class="sr">
<circle cx="127.2" cy="288.3"/>
</g>
<g class="sb">
<circle cx="94.1" cy="357.7"/>
<circle cx="86.5" cy="308.1"/>
<circle cx="91.3" cy="328.8"/>
</g>
<g class="sr">
<circle cx="56.5" cy="293.4"/>
</g>
<g class="sb">
<circle cx="86.3" cy="289.6"/>
<circle cx="85.3" cy="301.7"/>
</g>
<g class="sr">
<circle cx="115.4" cy="315"/>
<circle cx="130.9" cy="323"/>
</g>
<g class="sb">
<circle cx="73" cy="319.8"/>
<circle cx="87.4" cy="310.3"/>
<circle cx="91.8" cy="371.7"/>
<circle cx="130.8" cy="334.9"/>
<circle cx="69.1" cy="313.9"/>
</g>
<g class="sr">
<circle cx="118.7" cy="371.5"/>
</g>
<g class="sg">
<circle cx="75.1" cy="284.9"/>
</g>
<g class="sb">
<circle cx="82" cy="306.9"/>
<circle cx="92.9" cy="333.8"/>
</g>
<g class="sr">
<circle cx="105.1" cy="303"/>
</g>
<g class="sb">
<circle cx="68.6" cy="300.8"/>
</g>
<g class="sr">
<circle cx="126.5" cy="323.8"/>
</g>
<g class="sb">
<circle cx="69" cy="294.5"/>
<circle cx="97.8" cy="298.7"/>
<circle cx="94.9" cy="307"/>
<circle cx="78.5" cy="339.6"/>
<circle cx="95.3" cy="314.8"/>
<circle cx="73.4" cy="306.7"/>
<circle cx="86.4" cy="304"/>
</g>
<g class="sr">
<circle cx="108.3" cy="281.3"/>
</g>
<g class="sb">
<circle cx="86.7" cy="344.3"/>
</g>
<g class="sr">
<circle cx="130.7" cy="360.5"/>
</g>
<g class="sb">
<circle cx="87.7" cy="319.1"/>
<circle cx="81.7" cy="330.5"/>
<circle cx="80" cy="310.7"/>
<circle cx="96.8" cy="334.3"/>
</g>
<g class="sg">
<circle cx="70.3" cy="293.8"/>
</g>
<g class="sb">
<circle cx="85.2" cy="302.3"/>
</g>
<g class="sg">
<circle cx="67.5" cy="308.9"/>
</g>
<g class="sb">
<circle cx="73.8" cy="328.9"/>
<circle cx="126.7" cy="329.4"/>
</g>
<g class="sr">
<circle cx="130.8" cy="329.2"/>
<circle cx="108.1" cy="306.3"/>
</g>
<g class="sb">
<circle cx="80.6" cy="310.6"/>
<circle cx="100.6" cy="335.2"/>
<circle cx="93.3" cy="342.3"/>
</g>
<g class="sr">
<circle cx="116.8" cy="335.9"/>
</g>
<g class="sb">
<circle cx="127.6" cy="312.1"/>
</g>
<g class="sr">
<circle cx="113.1" cy="310.7"/>
</g>
<g class="sb">
<circle cx="85.1" cy="331.8"/>
<circle cx="85.9" cy="318"/>
<circle cx="109.4" cy="311.3"/>
</g>
<g class="sr">
<circle cx="126.7" cy="311.9"/>
<circle cx="137.9" cy="336.8"/>
</g>
<g class="sb">
<circle cx="71.9" cy="303.6"/>
<circle cx="88.5" cy="320.4"/>
<circle cx="91.4" cy="339.9"/>
</g>
<g class="sr">
<circle cx="95.1" cy="309.7"/>
</g>
<g class="sb">
<circle cx="77.6" cy="314.8"/>
</g>
<g class="sr">
<circle cx="121.8" cy="321.9"/>
</g>
<g class="sb">
<circle cx="86.4" cy="321.6"/>
</g>
<g class="sr">
<circle cx="121.1" cy="310.5"/>
</g>
<g class="sb">
<circle cx="92.8" cy="292.5"/>
</g>
<g class="sr">
<circle cx="133.9" cy="311.8"/>
</g>
<g class="sb">
<circle cx="77.9" cy="311.5"/>
</g>
<g class="sr">
<circle cx="131" cy="327.4"/>
</g>
<g class="sb">
<circle cx="78.5" cy="341.6"/>
<circle cx="71.8" cy="328.3"/>
<circle cx="123.6" cy="322.8"/>
<circle cx="95.6" cy="311.1"/>
<circle cx="80" cy="304.5"/>
<circle cx="88" cy="307.9"/>
<circle cx="79.8" cy="322.6"/>
<circle cx="87.7" cy="295.5"/>
<circle cx="71.8" cy="290.4"/>
<circle cx="75.3" cy="310.3"/>
<circle cx="80.9" cy="303"/>
<circle cx="71" cy="317.5"/>
<circle cx="86.6" cy="325.2"/>
<circle cx="84.9" cy="295.2"/>
<circle cx="101.4" cy="302"/>
</g>
<g class="sg">
<circle cx="83.5" cy="298.6"/>
</g>
<g class="sb">
<circle cx="94.3" cy="306.2"/>
<circle cx="71.4" cy="317.8"/>
<circle cx="104.7" cy="330.2"/>
<circle cx="87.6" cy="347.7"/>
<circle cx="91.1" cy="309.7"/>
<circle cx="84.9" cy="323.3"/>
<circle cx="102.6" cy="319.4"/>
<circle cx="106.5" cy="309.7"/>
<circle cx="81.1" cy="310.4"/>
</g>
<g class="sr">
<circle cx="97.8" cy="300.1"/>
</g>
<g class="sb">
<circle cx="77.8" cy="316.1"/>
<circle cx="76.9" cy="295.1"/>
<circle cx="87.4" cy="365.2"/>
<circle cx="93.3" cy="324.1"/>
<circle cx="77.4" cy="364.9"/>
<circle cx="91.1" cy="329.2"/>
<circle cx="71.7" cy="293.5"/>
</g>
<g class="sr">
<circle cx="108.5" cy="310.3"/>
</g>
<g class="sb">
<circle cx="92.9" cy="311.7"/>
<circle cx="88.5" cy="332.2"/>
<circle cx="80.3" cy="350.4"/>
<circle cx="88.6" cy="296.2"/>
<circle cx="102.5" cy="341.6"/>
<circle cx="121.5" cy="321.1"/>
<circle cx="73.7" cy="323.9"/>
</g>
<g class="sr">
<circle cx="113.1" cy="301.3"/>
</g>
<g class="sb">
<circle cx="85.8" cy="318.2"/>
<circle cx="71.2" cy="303.3"/>
<circle cx="84.5" cy="323.8"/>
<circle cx="80.6" cy="316.3"/>
<circle cx="102.9" cy="292.5"/>
<circle cx="95.1" cy="300.8"/>
</g>
<g class="sr">
<circle cx="58.8" cy="309.2"/>
</g>
<g class="sb">
<circle cx="84.1" cy="293.7"/>
<circle cx="107.1" cy="294.8"/>
</g>
<g class="sr">
<circle cx="117" cy="317.8"/>
</g>
<g class="sb">
<circle cx="77.2" cy="325.3"/>
</g>
<g class="sr">
<circle cx="122.5" cy="303.7"/>
</g>
<g class="sb">
<circle cx="82.6" cy="330.2"/>
</g>
<g class="sr">
<circle cx="111.2" cy="319.7"/>
</g>
<g class="sb">
<circle cx="84.8" cy="287.7"/>
<circle cx="67.6" cy="315.5"/>
<circle cx="131.3" cy="332.1"/>
<circle cx="91.3" cy="312.4"/>
</g>
<g class="sr">
<circle cx="120" cy="311.5"/>
</g>
<g class="sb">
<circle cx="87.3" cy="325.9"/>
</g>
<g class="sr">
<circle cx="136.3" cy="309.1"/>
<circle cx="130.8" cy="304.9"/>
</g>
<g class="sb">
<circle cx="82.6" cy="335.8"/>
</g>
<g class="sr">
<circle cx="50.3" cy="332.5"/>
</g>
<g class="sb">
<circle cx="89.1" cy="309.8"/>
<circle cx="97.5" cy="313.7"/>
</g>
<g class="sr">
<circle cx="135.9" cy="316.2"/>
<circle cx="70.8" cy="307.4"/>
</g>
<g class="sb">
<circle cx="76.4" cy="304.1"/>
</g>
<g class="sg">
<circle cx="78.8" cy="281.7"/>
</g>
<g class="sr">
<circle cx="105" cy="305.3"/>
</g>
<g class="sb">
<circle cx="83.4" cy="324.6"/>
<circle cx="76.8" cy="324.5"/>
<circle cx="70.6" cy="291.2"/>
<circle cx="85.3" cy="317"/>
</g>
<g class="sr">
<circle cx="113.5" cy="321.8"/>
</g>
<g class="sb">
<circle cx="95.1" cy="324.8"/>
<circle cx="116.1" cy="321.9"/>
</g>
<g class="sr">
<circle cx="107.9" cy="306.6"/>
</g>
<g class="sb">
<circle cx="81.6" cy="370.1"/>
<circle cx="67.9" cy="333.4"/>
</g>
<g class="sg">
<circle cx="70.3" cy="289"/>
</g>
<g class="sr">
<circle cx="98.2" cy="286"/>
</g>
<g class="sb">
<circle cx="87.5" cy="302.8"/>
<circle cx="79.4" cy="319.8"/>
<circle cx="84" cy="341"/>
<circle cx="92.2" cy="328.5"/>
<circle cx="77.7" cy="302.2"/>
<circle cx="82.3" cy="296.1"/>
<circle cx="105.4" cy="316.1"/>
</g>
<g class="sr">
<circle cx="133.8" cy="307.9"/>
<circle cx="98.4" cy="333.7"/>
<circle cx="118.4" cy="295.5"/>
<circle cx="117.5" cy="321.3"/>
</g>
<g class="sb">
<circle cx="88.6" cy="329.9"/>
<circle cx="85.7" cy="320.7"/>
<circle cx="89.2" cy="342"/>
</g>
<g class="sr">
<circle cx="112.1" cy="314.5"/>
</g>
<g class="sb">
<circle cx="84.4" cy="356.8"/>
</g>
<g class="sg">
<circle cx="71.5" cy="319.3"/>
</g>
<g class="sb">
<circle cx="85.6" cy="296.8"/>
<circle cx="82.6" cy="324.9"/>
<circle cx="91.7" cy="300"/>
<circle cx="80.4" cy="299.5"/>
</g>
<g class="sg">
<circle cx="70.5" cy="305.7"/>
</g>
<g class="sb">
<circle cx="86.2" cy="319.1"/>
<circle cx="90.3" cy="316"/>
<circle cx="80.3" cy="339.3"/>
<circle cx="81.5" cy="327.8"/>
<circle cx="122.9" cy="338.2"/>
<circle cx="81.2" cy="319.9"/>
</g>
<g class="sr">
<circle cx="112.3" cy="323.4"/>
</g>
<g class="sb">
<circle cx="94.9" cy="323.6"/>
</g>
<g class="sr">
<circle cx="124.4" cy="329.8"/>
</g>
<g class="sb">
<circle cx="90.6" cy="325.5"/>
</g>
<g class="sr">
<circle cx="78.6" cy="357"/>
</g>
<g class="sb">
<circle cx="93.4" cy="293.3"/>
<circle cx="87.1" cy="316.9"/>
</g>
<g class="sr">
<circle cx="116.8" cy="304.6"/>
</g>
<g class="sb">
<circle cx="95.9" cy="326.9"/>
<circle cx="86.7" cy="304.7"/>
<circle cx="79.7" cy="341.9"/>
<circle cx="88.6" cy="373"/>
<circle cx="76" cy="305.6"/>
</g>
<g class="sr">
<circle cx="130.1" cy="327.1"/>
<circle cx="128.5" cy="301.3"/>
</g>
<g class="sb">
<circle cx="80.6" cy="315.6"/>
<circle cx="108.3" cy="343"/>
<circle cx="95.4" cy="303"/>
</g>
<g class="sr">
<circle cx="99.8" cy="294"/>
</g>
<g class="sb">
<circle cx="128" cy="328.1"/>
<circle cx="92" cy="308.4"/>
<circle cx="85.1" cy="346.5"/>
<circle cx="62.2" cy="289.3"/>
</g>
<g class="sr">
<circle cx="64.9" cy="365.7"/>
</g>
<g class="sb">
<circle cx="99.7" cy="292.1"/>
<circle cx="122.9" cy="296"/>
<circle cx="75.5" cy="315.4"/>
<circle cx="90.3" cy="319.8"/>
<circle cx="135.8" cy="313.8"/>
</g>
<g class="sr">
<circle cx="125.5" cy="347.1"/>
</g>
<g class="sb">
<circle cx="77.8" cy="338.9"/>
<circle cx="91.2" cy="367.7"/>
<circle cx="115.3" cy="331.3"/>
<circle cx="73.3" cy="296.3"/>
</g>
<g class="sr">
<circle cx="119.8" cy="316.7"/>
</g>
<g class="sb">
<circle cx="100.7" cy="329.9"/>
<circle cx="89.7" cy="325.6"/>
<circle cx="77" cy="324.7"/>
</g>
<g class="sr">
<circle cx="129.5" cy="321.8"/>
</g>
<g class="sb">
<circle cx="142.1" cy="337.1"/>
<circle cx="95.5" cy="301"/>
<circle cx="89.2" cy="302.1"/>
<circle cx="84.3" cy="344.8"/>
<circle cx="69.7" cy="304.7"/>
</g>
<g class="sr">
<circle cx="128.3" cy="333"/>
</g>
<g class="sg">
<circle cx="66.7" cy="296.4"/>
</g>
<g class="sb">
<circle cx="79.4" cy="300.2"/>
</g>
<g class="sg">
<circle cx="68.8" cy="305.1"/>
</g>
<g class="sb">
<circle cx="120.5" cy="337.3"/>
<circle cx="91.6" cy="296.6"/>
</g>
<g class="sr">
<circle cx="89.8" cy="312"/>
</g>
<g class="sb">
<circle cx="75.9" cy="356.6"/>
<circle cx="84.9" cy="370.2"/>
<circle cx="86.9" cy="303"/>
<circle cx="89.8" cy="313"/>
<circle cx="94" cy="297.4"/>
<circle cx="90.6" cy="312.5"/>
<circle cx="75.4" cy="310.3"/>
</g>
<g class="sg">
<circle cx="63.3" cy="292.9"/>
</g>
<g class="sb">
<circle cx="68" cy="304.6"/>
<circle cx="85.5" cy="330.1"/>
</g>
<g class="sg">
<circle cx="68.8" cy="302.5"/>
</g>
<g class="sr">
<circle cx="116.5" cy="338.7"/>
</g>
<g class="sb">
<circle cx="103.3" cy="316.8"/>
<circle cx="139.4" cy="330.1"/>
<circle cx="94.9" cy="320.4"/>
<circle cx="76.8" cy="327.5"/>
</g>
<g class="sr">
<circle cx="123.5" cy="328.4"/>
</g>
<g class="sg">
<circle cx="74.3" cy="298.1"/>
</g>
<g class="sr">
<circle cx="120.8" cy="309.7"/>
</g>
<g class="sb">
<circle cx="98" cy="303.8"/>
</g>
<g class="sr">
<circle cx="106.1" cy="327"/>
</g>
<g class="sb">
<circle cx="70.4" cy="316.6"/>
<circle cx="72.9" cy="301.5"/>
<circle cx="83" cy="350.8"/>
<circle cx="75.3" cy="318.4"/>
<circle cx="103.4" cy="320.5"/>
<circle cx="100.7" cy="299.5"/>
<circle cx="76" cy="310.8"/>
</g>
<g class="sg">
<circle cx="64.4" cy="281.7"/>
</g>
<g class="sr">
<circle cx="115.6" cy="317.2"/>
<circle cx="138" cy="328.3"/>
</g>
<g class="sb">
<circle cx="69.4" cy="300.9"/>
<circle cx="128.3" cy="339.1"/>
</g>
<g class="sr">
<circle cx="138.5" cy="352"/>
</g>
<g class="sb">
<circle cx="83.7" cy="335.2"/>
<circle cx="72.6" cy="329.5"/>
<circle cx="85.9" cy="308.4"/>
<circle cx="81.2" cy="301.4"/>
</g>
<g class="sr">
<circle cx="107.2" cy="310.5"/>
</g>
<g class="sb">
<circle cx="91.7" cy="317.6"/>
<circle cx="75.3" cy="309.1"/>
<circle cx="124.7" cy="309.7"/>
</g>
<g class="sr">
<circle cx="121.8" cy="314.4"/>
</g>
<g class="sb">
<circle cx="80.2" cy="307.5"/>
<circle cx="84.6" cy="306.7"/>
<circle cx="88.9" cy="367.3"/>
<circle cx="86.6" cy="315.2"/>
</g>
<g class="sg">
<circle cx="85.9" cy="281.2"/>
</g>
<g class="sb">
<circle cx="103" cy="325.8"/>
<circle cx="70.8" cy="299.5"/>
<circle cx="87.2" cy="323.3"/>
</g>
<g class="sr">
<circle cx="126.5" cy="313.1"/>
</g>
<g class="sg">
<circle cx="80" cy="279.6"/>
</g>
<g class="sb">
<circle cx="76.2" cy="305.4"/>
<circle cx="71.9" cy="321.2"/>
<circle cx="93.1" cy="342.7"/>
</g>
<g class="sr">
<circle cx="131.6" cy="329.4"/>
</g>
<g class="sb">
<circle cx="67.8" cy="310.1"/>
<circle cx="87.8" cy="340"/>
</g>
<g class="sg">
<circle cx="70.2" cy="299.8"/>
</g>
<g class="sr">
<circle cx="111" cy="333"/>
</g>
<g class="sb">
<circle cx="83.3" cy="311.2"/>
<circle cx="118" cy="320.1"/>
<circle cx="119.3" cy="313.5"/>
<circle cx="81.3" cy="308.1"/>
<circle cx="138.5" cy="330.8"/>
<circle cx="86.1" cy="301.8"/>
<circle cx="66.9" cy="296.1"/>
<circle cx="92.7" cy="320.1"/>
<circle cx="73.1" cy="321.3"/>
<circle cx="80.2" cy="303.8"/>
</g>
<g class="sr">
<circle cx="98.2" cy="358.6"/>
</g>
<g class="sb">
<circle cx="75.2" cy="294.3"/>
<circle cx="78.1" cy="288.1"/>
<circle cx="87.3" cy="308.8"/>
<circle cx="91.1" cy="374.1"/>
<circle cx="109.8" cy="318.8"/>
<circle cx="98.5" cy="301"/>
<circle cx="82" cy="332.5"/>
<circle cx="84.4" cy="373.4"/>
<circle cx="74.5" cy="302.6"/>
</g>
<g class="sr">
<circle cx="128.4" cy="315.8"/>
</g>
<g class="sb">
<circle cx="83" cy="313.6"/>
<circle cx="75.1" cy="324.4"/>
<circle cx="109.8" cy="358.7"/>
<circle cx="68" cy="278.6"/>
<circle cx="84.8" cy="322.8"/>
<circle cx="57.9" cy="347.5"/>
<circle cx="96.1" cy="323.3"/>
<circle cx="76.3" cy="315.8"/>
</g>
<g class="sr">
<circle cx="132.3" cy="321.1"/>
</g>
<g class="sb">
<circle cx="74.2" cy="299.2"/>
<circle cx="81" cy="367.3"/>
<circle cx="84.5" cy="321.4"/>
<circle cx="91.2" cy="312.8"/>
<circle cx="86.7" cy="332.1"/>
</g>
<g class="sr">
<circle cx="116.7" cy="321.4"/>
</g>
<g class="sb">
<circle cx="64" cy="342.1"/>
<circle cx="72.3" cy="307.9"/>
<circle cx="81" cy="341.4"/>
</g>
<g class="sr">
<circle cx="64.5" cy="342.8"/>
</g>
<g class="sb">
<circle cx="73.3" cy="295.1"/>
</g>
<g class="sg">
<circle cx="83.6" cy="314.4"/>
</g>
<g class="sb">
<circle cx="73.5" cy="328.1"/>
<circle cx="82.7" cy="314.8"/>
<circle cx="80.8" cy="299.4"/>
<circle cx="127.1" cy="318.3"/>
</g>
<g class="sr">
<circle cx="131.1" cy="315"/>
</g>
<g class="sb">
<circle cx="85.1" cy="316.1"/>
</g>
<g class="sr">
<circle cx="113.8" cy="312.1"/>
</g>
<g class="sb">
<circle cx="94.1" cy="315.2"/>
<circle cx="97.1" cy="317.4"/>
<circle cx="102.5" cy="335.6"/>
<circle cx="131.2" cy="295.6"/>
<circle cx="74.7" cy="296.7"/>
</g>
<g class="sr">
<circle cx="112.3" cy="316.5"/>
</g>
<g class="sb">
<circle cx="101.6" cy="329.2"/>
<circle cx="95.1" cy="326.3"/>
<circle cx="86.5" cy="312.7"/>
<circle cx="86.7" cy="358.8"/>
<circle cx="71.3" cy="337.1"/>
<circle cx="82" cy="323.8"/>
<circle cx="89.9" cy="330.5"/>
<circle cx="95.9" cy="313.5"/>
<circle cx="93.3" cy="345.1"/>
<circle cx="90.3" cy="326.8"/>
<circle cx="77.6" cy="299.5"/>
</g>
<g class="sr">
<circle cx="111.9" cy="304.9"/>
</g>
<g class="sb">
<circle cx="73.6" cy="319.7"/>
<circle cx="91.7" cy="299.2"/>
<circle cx="71.9" cy="327.3"/>
</g>
<g class="sr">
<circle cx="93.1" cy="324.6"/>
<circle cx="127" cy="330.9"/>
</g>
<g class="sb">
<circle cx="85.2" cy="328.2"/>
<circle cx="86.9" cy="323.6"/>
<circle cx="73" cy="320.6"/>
<circle cx="81.5" cy="323.3"/>
</g>
<g class="sr">
<circle cx="60.1" cy="370.3"/>
</g>
<g class="sb">
<circle cx="70.3" cy="328.4"/>
</g>
<g class="sr">
<circle cx="89.2" cy="296.8"/>
</g>
<g class="sb">
<circle cx="90.1" cy="331"/>
<circle cx="79.8" cy="303.9"/>
<circle cx="123.2" cy="330.3"/>
<circle cx="94.4" cy="316.4"/>
<circle cx="86.8" cy="348.2"/>
<circle cx="69.8" cy="303.9"/>
<circle cx="108.9" cy="321.9"/>
</g>
<g class="sr">
<circle cx="52.9" cy="367.2"/>
</g>
<g class="sb">
<circle cx="112.1" cy="323.7"/>
<circle cx="120.1" cy="347.9"/>
</g>
<g class="sr">
<circle cx="131.4" cy="311.8"/>
</g>
<g class="sb">
<circle cx="85.9" cy="333.6"/>
<circle cx="136.1" cy="324.9"/>
</g>
<g class="sr">
<circle cx="129.8" cy="314.2"/>
</g>
<g class="sb">
<circle cx="71.5" cy="325.6"/>
<circle cx="65.3" cy="312.2"/>
<circle cx="87.8" cy="318.3"/>
<circle cx="78.9" cy="331.7"/>
<circle cx="72.7" cy="295"/>
<circle cx="90.6" cy="311.8"/>
<circle cx="80.6" cy="295.6"/>
<circle cx="70.8" cy="303.9"/>
<circle cx="79.2" cy="325.8"/>
<circle cx="96.7" cy="333.5"/>
<circle cx="99.7" cy="316.4"/>
<circle cx="75.5" cy="316.6"/>
<circle cx="81.5" cy="367.2"/>
</g>
<g class="sr">
<circle cx="140.2" cy="320.6"/>
</g>
<g class="sb">
<circle cx="86" cy="295"/>
<circle cx="84.2" cy="307.1"/>
<circle cx="89.9" cy="360.6"/>
</g>
<g class="sr">
<circle cx="53.1" cy="303.4"/>
</g>
<g class="sb">
<circle cx="81.3" cy="330"/>
<circle cx="86.5" cy="306.4"/>
</g>
<g class="sr">
<circle cx="118.8" cy="342.4"/>
</g>
<g class="sb">
<circle cx="86.1" cy="294.5"/>
<circle cx="93.7" cy="305.4"/>
<circle cx="80.6" cy="304.3"/>
</g>
<g class="sg">
<circle cx="74.5" cy="301.6"/>
</g>
<g class="sb">
<circle cx="77.4" cy="337.7"/>
<circle cx="97.6" cy="292.4"/>
<circle cx="80.1" cy="321.2"/>
<circle cx="80.5" cy="315.4"/>
</g>
<g class="sr">
<circle cx="120.8" cy="324.1"/>
<circle cx="111.8" cy="313.5"/>
</g>
<g class="sb">
<circle cx="88.5" cy="309.1"/>
<circle cx="100.5" cy="318.3"/>
<circle cx="94.5" cy="295.1"/>
</g>
<g class="sr">
<circle cx="133.1" cy="320.9"/>
<circle cx="122" cy="307.2"/>
</g>
<g class="sb">
<circle cx="75.6" cy="314.6"/>
</g>
<g class="sr">
<circle cx="68.5" cy="371.9"/>
</g>
<g class="sb">
<circle cx="71.8" cy="305.7"/>
<circle cx="86.1" cy="325.4"/>
<circle cx="82.3" cy="328.1"/>
</g>
<g class="sr">
<circle cx="112.9" cy="318.5"/>
</g>
<g class="sb">
<circle cx="74" cy="303.7"/>
<circle cx="89" cy="351.7"/>
</g>
<g class="sr">
<circle cx="136.7" cy="304.4"/>
</g>
<g class="sb">
<circle cx="99.4" cy="313.3"/>
</g>
<g class="sr">
<circle cx="125.8" cy="307.3"/>
</g>
<g class="sb">
<circle cx="92.4" cy="339.6"/>
</g>
<g class="sg">
<circle cx="73.9" cy="290.7"/>
</g>
<g class="sb">
<circle cx="85.9" cy="301.8"/>
<circle cx="89.3" cy="332.5"/>
</g>
<g class="sr">
<circle cx="122.5" cy="304.7"/>
<circle cx="135" cy="325.4"/>
<circle cx="115.1" cy="309.9"/>
</g>
<g class="sb">
<circle cx="78.3" cy="324.3"/>
<circle cx="73.5" cy="320.3"/>
<circle cx="78.2" cy="301.2"/>
<circle cx="83.3" cy="319.6"/>
<circle cx="93" cy="332.7"/>
<circle cx="94.5" cy="332.7"/>
<circle cx="78.9" cy="317.5"/>
<circle cx="76.4" cy="304.2"/>
</g>
<g class="sr">
<circle cx="138" cy="334.9"/>
</g>
<g class="sb">
<circle cx="82.2" cy="342.6"/>
</g>
<g class="sr">
<circle cx="50.2" cy="359.2"/>
<circle cx="81.1" cy="343.6"/>
</g>
<g class="sb">
<circle cx="77.2" cy="293.5"/>
<circle cx="83.1" cy="330.3"/>
<circle cx="83" cy="314.5"/>
<circle cx="90.4" cy="308.3"/>
<circle cx="81" cy="320.2"/>
<circle cx="88.3" cy="321.5"/>
<circle cx="83.8" cy="298.5"/>
<circle cx="85.6" cy="308.4"/>
<circle cx="69.3" cy="314.7"/>
<circle cx="72.3" cy="320.1"/>
<circle cx="91.9" cy="347.8"/>
<circle cx="99" cy="323.3"/>
</g>
<g class="sg">
<circle cx="71.8" cy="290"/>
</g>
<g class="sb">
<circle cx="103.2" cy="282.1"/>
<circle cx="83.4" cy="351.8"/>
</g>
<g class="sr">
<circle cx="113.8" cy="280.8"/>
</g>
<g class="sb">
<circle cx="74.9" cy="316.3"/>
</g>
<g class="sr">
<circle cx="132.5" cy="312.7"/>
</g>
<g class="sb">
<circle cx="93.1" cy="310.8"/>
</g>
<g class="sr">
<circle cx="125.8" cy="355.2"/>
</g>
<g class="sb">
<circle cx="69.9" cy="292.3"/>
<circle cx="99.8" cy="319.5"/>
</g>
<g class="sr">
<circle cx="129.3" cy="305.8"/>
</g>
<g class="sb">
<circle cx="91.5" cy="322.4"/>
<circle cx="69" cy="314.1"/>
</g>
<g class="sr">
<circle cx="115" cy="308.7"/>
</g>
<g class="sb">
<circle cx="78.3" cy="299.3"/>
<circle cx="94.5" cy="304.3"/>
</g>
<g class="sr">
<circle cx="114.7" cy="332.8"/>
</g>
<g class="sb">
<circle cx="79.2" cy="329"/>
<circle cx="126.7" cy="336.4"/>
<circle cx="79.4" cy="324.2"/>
<circle cx="98.9" cy="293.9"/>
<circle cx="76.9" cy="327.8"/>
<circle cx="92.9" cy="290.6"/>
<circle cx="87.4" cy="304.5"/>
<circle cx="74.1" cy="330.3"/>
</g>
<g class="sr">
<circle cx="108.4" cy="350"/>
</g>
<g class="sb">
<circle cx="76.4" cy="302"/>
<circle cx="72.5" cy="326.2"/>
<circle cx="88.3" cy="326.6"/>
<circle cx="84.5" cy="332.1"/>
<circle cx="77.1" cy="306.5"/>
</g>
<g class="sr">
<circle cx="120" cy="309.1"/>
</g>
<g class="sb">
<circle cx="85.4" cy="346.6"/>
<circle cx="69.8" cy="299.8"/>
</g>
<g class="sr">
<circle cx="133.1" cy="320.2"/>
</g>
<g class="sb">
<circle cx="89.6" cy="302"/>
<circle cx="71.6" cy="354.2"/>
</g>
<g class="sr">
<circle cx="51.9" cy="369.8"/>
<circle cx="85.3" cy="339.8"/>
</g>
<g class="sb">
<circle cx="72.1" cy="310.8"/>
<circle cx="121.5" cy="331.3"/>
<circle cx="78.6" cy="315.9"/>
<circle cx="68.8" cy="309.7"/>
<circle cx="84.4" cy="305.3"/>
<circle cx="82.5" cy="295.6"/>
</g>
<g class="sr">
<circle cx="119.7" cy="322.9"/>
</g>
<g class="sb">
<circle cx="100.4" cy="295.5"/>
</g>
<g class="sr">
<circle cx="110" cy="311.6"/>
</g>
<g class="sb">
<circle cx="72.6" cy="298.9"/>
<circle cx="118.9" cy="321.9"/>
<circle cx="103.2" cy="293.2"/>
<circle cx="82.8" cy="317.8"/>
</g>
<g class="sr">
<circle cx="119.6" cy="306"/>
</g>
<g class="sb">
<circle cx="72" cy="307.1"/>
</g>
<g class="sr">
<circle cx="126.4" cy="329"/>
</g>
<g class="sb">
<circle cx="97.5" cy="313"/>
</g>
<g class="sr">
<circle cx="123.2" cy="316"/>
</g>
<g class="sb">
<circle cx="82.9" cy="300.9"/>
<circle cx="77.5" cy="311.2"/>
</g>
<g class="sg">
<circle cx="82.8" cy="291"/>
</g>
<g class="sb">
<circle cx="84.9" cy="331.2"/>
</g>
<g class="sr">
<circle cx="123.1" cy="314.2"/>
<circle cx="119.9" cy="299.6"/>
</g>
<g class="sb">
<circle cx="94.1" cy="337.5"/>
<circle cx="77.3" cy="309.1"/>
<circle cx="96.3" cy="314.9"/>
<circle cx="68.7" cy="300.2"/>
<circle cx="74.5" cy="313.8"/>
</g>
<g class="sg">
<circle cx="75.4" cy="307.9"/>
<circle cx="72.8" cy="309.7"/>
</g>
<g class="sb">
<circle cx="70.4" cy="326.9"/>
<circle cx="73" cy="299.4"/>
<circle cx="93.4" cy="309.9"/>
<circle cx="95" cy="311.9"/>
<circle cx="77.1" cy="302.9"/>
<circle cx="65.8" cy="294.4"/>
<circle cx="82.4" cy="310.8"/>
</g>
<g class="sr">
<circle cx="53" cy="354"/>
</g>
<g class="sg">
<circle cx="71.9" cy="300.8"/>
</g>
<g class="sr">
<circle cx="77.3" cy="296"/>
</g>
<g class="sb">
<circle cx="75.6" cy="306.8"/>
</g>
<g class="sr">
<circle cx="130" cy="326.9"/>
<circle cx="94.7" cy="368.3"/>
<circle cx="119.5" cy="309.6"/>
</g>
<g class="sb">
<circle cx="79.3" cy="291.2"/>
</g>
<g class="sr">
<circle cx="115.6" cy="304.3"/>
<circle cx="83.2" cy="285.8"/>
</g>
<g class="sb">
<circle cx="95.2" cy="327.6"/>
</g>
<g class="sr">
<circle cx="115.3" cy="307.2"/>
</g>
<g class="sb">
<circle cx="85.1" cy="346.7"/>
<circle cx="79.2" cy="318.6"/>
<circle cx="122.7" cy="310.5"/>
<circle cx="76.1" cy="343.6"/>
<circle cx="125.3" cy="323.4"/>
<circle cx="137.2" cy="312.2"/>
<circle cx="61.4" cy="360.5"/>
<circle cx="84" cy="329.3"/>
</g>
<g class="sr">
<circle cx="117.6" cy="316.4"/>
</g>
<g class="sb">
<circle cx="72.2" cy="319"/>
</g>
<g class="sr">
<circle cx="77" cy="281.9"/>
<circle cx="122.6" cy="309.7"/>
</g>
<g class="sb">
<circle cx="123.1" cy="340.2"/>
<circle cx="72.7" cy="294.5"/>
<circle cx="90.7" cy="326.6"/>
<circle cx="90.7" cy="310.3"/>
<circle cx="86.8" cy="320.4"/>
</g>
<g class="sr">
<circle cx="132.7" cy="297.2"/>
</g>
<g class="sb">
<circle cx="75.6" cy="306.8"/>
</g>
<g class="sr">
<circle cx="58.9" cy="317.9"/>
<circle cx="127.3" cy="325.6"/>
<circle cx="131.3" cy="323.2"/>
</g>
<g class="sb">
<circle cx="81.9" cy="295.8"/>
<circle cx="90.9" cy="290"/>
</g>
<g class="sr">
<circle cx="127.5" cy="318.8"/>
</g>
<g class="sb">
<circle cx="89.6" cy="328"/>
<circle cx="97.3" cy="310.1"/>
</g>
<g class="sr">
<circle cx="128.2" cy="312.5"/>
</g>
<g class="sb">
<circle cx="95.4" cy="320.9"/>
<circle cx="80.5" cy="334.3"/>
</g>
<g class="sr">
<circle cx="127" cy="326.9"/>
</g>
<g class="sb">
<circle cx="80.9" cy="327.4"/>
<circle cx="76.8" cy="294.3"/>
<circle cx="86" cy="356.7"/>
<circle cx="77.5" cy="314.2"/>
<circle cx="90.1" cy="317.8"/>
<circle cx="86.5" cy="323"/>
<circle cx="71.9" cy="306"/>
<circle cx="79.6" cy="373"/>
<circle cx="97.2" cy="324.9"/>
</g>
<g class="sr">
<circle cx="56.5" cy="349.4"/>
</g>
<g class="sb">
<circle cx="72" cy="329.8"/>
<circle cx="74.5" cy="302.1"/>
<circle cx="88.6" cy="336"/>
<circle cx="89.4" cy="308.2"/>
<circle cx="90.5" cy="340.8"/>
<circle cx="102.8" cy="312.3"/>
<circle cx="87.3" cy="360.2"/>
<circle cx="123.7" cy="341.3"/>
<circle cx="91.8" cy="300.9"/>
<circle cx="95.1" cy="313.3"/>
<circle cx="83.6" cy="328.7"/>
<circle cx="114.9" cy="332.4"/>
<circle cx="74.1" cy="307.4"/>
</g>
<g class="sr">
<circle cx="61.2" cy="362.6"/>
</g>
<g class="sb">
<circle cx="115.6" cy="335"/>
</g>
<g class="sr">
<circle cx="104.6" cy="297.6"/>
</g>
<g class="sb">
<circle cx="120.4" cy="296.5"/>
<circle cx="88.9" cy="328.6"/>
<circle cx="77" cy="286.4"/>
<circle cx="75.8" cy="341"/>
<circle cx="80.2" cy="316.5"/>
<circle cx="132.6" cy="310.8"/>
<circle cx="70.9" cy="293.9"/>
<circle cx="112.8" cy="337.2"/>
<circle cx="78.4" cy="310.9"/>
<circle cx="57.3" cy="344.7"/>
</g>
<g class="sg">
<circle cx="67.6" cy="293"/>
</g>
<g class="sb">
<circle cx="100.7" cy="304"/>
</g>
<g class="sr">
<circle cx="112.1" cy="308.7"/>
</g>
<g class="sb">
<circle cx="72.2" cy="328.5"/>
</g>
<g class="sr">
<circle cx="59" cy="341.2"/>
</g>
<g class="sb">
<circle cx="79.3" cy="308.6"/>
<circle cx="80.2" cy="288.3"/>
</g>
<g class="sr">
<circle cx="118.6" cy="327.9"/>
</g>
<g class="sb">
<circle cx="71.5" cy="294.9"/>
<circle cx="89.5" cy="312.2"/>
<circle cx="81" cy="337.7"/>
<circle cx="77.7" cy="315.6"/>
<circle cx="81.7" cy="373.5"/>
<circle cx="69.7" cy="309"/>
<circle cx="89.4" cy="313.7"/>
<circle cx="92.4" cy="302.1"/>
</g>
<g class="sr">
<circle cx="119" cy="314.4"/>
</g>
<g class="sb">
<circle cx="95.7" cy="299.4"/>
<circle cx="82.7" cy="344.2"/>
</g>
<g class="sr">
<circle cx="52.5" cy="290.5"/>
</g>
<g class="sb">
<circle cx="79.6" cy="293.3"/>
</g>
<g class="sr">
<circle cx="114.6" cy="306.6"/>
</g>
<g class="sb">
<circle cx="89" cy="307.9"/>
</g>
<g class="sr">
<circle cx="125" cy="319.6"/>
</g>
<g class="sb">
<circle cx="71.6" cy="317"/>
</g>
<g class="sr">
<circle cx="107.1" cy="314.5"/>
</g>
<g class="sb">
<circle cx="96.7" cy="317.2"/>
</g>
<g class="sr">
<circle cx="118.5" cy="323.9"/>
</g>
<g class="sb">
<circle cx="97.7" cy="301.7"/>
</g>
<g class="sr">
<circle cx="106.6" cy="312"/>
</g>
<g class="sb">
<circle cx="106.8" cy="303.3"/>
<circle cx="80.8" cy="311.5"/>
<circle cx="76.4" cy="312.8"/>
<circle cx="104.8" cy="318.3"/>
</g>
<g class="sr">
<circle cx="117.5" cy="323.2"/>
<circle cx="111.7" cy="320"/>
</g>
<g class="sb">
<circle cx="80.7" cy="307"/>
</g>
<g class="sg">
<circle cx="76.3" cy="316.6"/>
</g>
<g class="sb">
<circle cx="69.8" cy="328.4"/>
<circle cx="84.5" cy="293.5"/>
<circle cx="77.2" cy="314.5"/>
<circle cx="66" cy="304.5"/>
<circle cx="74.7" cy="334.7"/>
<circle cx="65.1" cy="293.3"/>
<circle cx="78.7" cy="324.1"/>
<circle cx="70.2" cy="325.2"/>
<circle cx="109.2" cy="324.5"/>
</g>
<g class="sr">
<circle cx="111.4" cy="306"/>
</g>
<g class="sb">
<circle cx="80.5" cy="314.2"/>
<circle cx="86" cy="366.7"/>
<circle cx="76.1" cy="283.5"/>
<circle cx="91.5" cy="292.7"/>
<circle cx="80.5" cy="313.7"/>
<circle cx="117" cy="330.1"/>
<circle cx="101.4" cy="308.9"/>
<circle cx="75.6" cy="330.4"/>
</g>
<g class="sr">
<circle cx="120.4" cy="338"/>
</g>
<g class="sb">
<circle cx="73.2" cy="324.6"/>
<circle cx="97" cy="306.5"/>
</g>
<g class="sg">
<circle cx="81.4" cy="294.7"/>
</g>
<g class="sb">
<circle cx="98.5" cy="306.6"/>
<circle cx="81.7" cy="303.8"/>
<circle cx="96.9" cy="314.5"/>
<circle cx="98.9" cy="308"/>
<circle cx="121.7" cy="339.4"/>
<circle cx="92.3" cy="320.7"/>
</g>
<g class="sr">
<circle cx="89.7" cy="304.5"/>
</g>
<g class="sb">
<circle cx="80.5" cy="325"/>
<circle cx="96.1" cy="301.5"/>
<circle cx="84.6" cy="329.6"/>
</g>
<circle cx="151.9" cy="244.8" r="1.3" fill="#9a9a9a"/>
<text x="157.4" y="247.9">Control</text>
<circle cx="151.9" cy="255" r="1.3" fill="#6478e6"/>
<text x="157.4" y="258.1">RS</text>
<circle cx="151.9" cy="265.2" r="1.3" fill="#e0202a"/>
<text x="157.4" y="268.3">IR</text>
<path d="M238.5 268.9V370.5H343.7" class="ax"/>
<line x1="235.2" y1="366.6" x2="238.5" y2="366.6" class="ax"/>
<text x="231.8" y="369.7" text-anchor="end">0</text>
<line x1="235.2" y1="354.2" x2="238.5" y2="354.2" class="ax"/>
<text x="231.8" y="357.3" text-anchor="end">10</text>
<line x1="235.2" y1="341.8" x2="238.5" y2="341.8" class="ax"/>
<text x="231.8" y="344.9" text-anchor="end">20</text>
<line x1="235.2" y1="329.4" x2="238.5" y2="329.4" class="ax"/>
<text x="231.8" y="332.5" text-anchor="end">30</text>
<line x1="235.2" y1="317" x2="238.5" y2="317" class="ax"/>
<text x="231.8" y="320.1" text-anchor="end">40</text>
<line x1="235.2" y1="304.6" x2="238.5" y2="304.6" class="ax"/>
<text x="231.8" y="307.7" text-anchor="end">50</text>
<line x1="235.2" y1="292.1" x2="238.5" y2="292.1" class="ax"/>
<text x="231.8" y="295.2" text-anchor="end">60</text>
<line x1="235.2" y1="279.7" x2="238.5" y2="279.7" class="ax"/>
<text x="231.8" y="282.8" text-anchor="end">70</text>
<line x1="250.9" y1="370.5" x2="250.9" y2="373.5" class="ax"/>
<text x="250.9" y="384.6" text-anchor="middle">0</text>
<line x1="277.7" y1="370.5" x2="277.7" y2="373.5" class="ax"/>
<text x="277.7" y="384.6" text-anchor="middle">5</text>
<line x1="304.4" y1="370.5" x2="304.4" y2="373.5" class="ax"/>
<text x="304.4" y="384.6" text-anchor="middle">10</text>
<line x1="331" y1="370.5" x2="331" y2="373.5" class="ax"/>
<text x="331" y="384.6" text-anchor="middle">20</text>
<text x="290.5" y="397.6" text-anchor="middle">Dose (Gy)</text>
<text x="213.3" y="319.5" text-anchor="middle" transform="rotate(-90 213.3 319.5)">Cell cycle (%)</text>
<path d="M250.9 366.2 L277.7 366.2 L304.4 366.2 L331 366.2" fill="none" stroke="#dde7f3" stroke-width="1.5"/>
<path d="M250.9 365.6V366.8M249.4 365.6h3M249.4 366.8h3" stroke="#dde7f3" stroke-width="0.6" fill="none"/>
<circle cx="250.9" cy="366.2" r="1.9" fill="#dde7f3"/>
<path d="M277.7 365.6V366.8M276.2 365.6h3M276.2 366.8h3" stroke="#dde7f3" stroke-width="0.6" fill="none"/>
<circle cx="277.7" cy="366.2" r="1.9" fill="#dde7f3"/>
<path d="M304.4 365.6V366.8M302.9 365.6h3M302.9 366.8h3" stroke="#dde7f3" stroke-width="0.6" fill="none"/>
<circle cx="304.4" cy="366.2" r="1.9" fill="#dde7f3"/>
<path d="M331 365.6V366.8M329.5 365.6h3M329.5 366.8h3" stroke="#dde7f3" stroke-width="0.6" fill="none"/>
<circle cx="331" cy="366.2" r="1.9" fill="#dde7f3"/>
<path d="M250.9 274.8 L277.7 307 L304.4 329.4 L331 330.6" fill="none" stroke="#a9c8de" stroke-width="1.5"/>
<path d="M250.9 273.3V276.3M249.4 273.3h3M249.4 276.3h3" stroke="#a9c8de" stroke-width="0.6" fill="none"/>
<circle cx="250.9" cy="274.8" r="1.9" fill="#a9c8de"/>
<path d="M277.7 300.8V313.2M276.2 300.8h3M276.2 313.2h3" stroke="#a9c8de" stroke-width="0.6" fill="none"/>
<circle cx="277.7" cy="307" r="1.9" fill="#a9c8de"/>
<path d="M304.4 328.4V330.4M302.9 328.4h3M302.9 330.4h3" stroke="#a9c8de" stroke-width="0.6" fill="none"/>
<circle cx="304.4" cy="329.4" r="1.9" fill="#a9c8de"/>
<path d="M331 328.7V332.5M329.5 328.7h3M329.5 332.5h3" stroke="#a9c8de" stroke-width="0.6" fill="none"/>
<circle cx="331" cy="330.6" r="1.9" fill="#a9c8de"/>
<path d="M250.9 359.8 L277.7 364.1 L304.4 365.1 L331 364.5" fill="none" stroke="#6aaed6" stroke-width="1.5"/>
<path d="M250.9 359.2V360.4M249.4 359.2h3M249.4 360.4h3" stroke="#6aaed6" stroke-width="0.6" fill="none"/>
<circle cx="250.9" cy="359.8" r="1.9" fill="#6aaed6"/>
<path d="M277.7 363.5V364.7M276.2 363.5h3M276.2 364.7h3" stroke="#6aaed6" stroke-width="0.6" fill="none"/>
<circle cx="277.7" cy="364.1" r="1.9" fill="#6aaed6"/>
<path d="M304.4 364.5V365.7M302.9 364.5h3M302.9 365.7h3" stroke="#6aaed6" stroke-width="0.6" fill="none"/>
<circle cx="304.4" cy="365.1" r="1.9" fill="#6aaed6"/>
<path d="M331 363.9V365.1M329.5 363.9h3M329.5 365.1h3" stroke="#6aaed6" stroke-width="0.6" fill="none"/>
<circle cx="331" cy="364.5" r="1.9" fill="#6aaed6"/>
<path d="M250.9 349.2 L277.7 317 L304.4 294 L331 292.8" fill="none" stroke="#3a84bd" stroke-width="1.5"/>
<path d="M250.9 348V350.5M249.4 348h3M249.4 350.5h3" stroke="#3a84bd" stroke-width="0.6" fill="none"/>
<circle cx="250.9" cy="349.2" r="1.9" fill="#3a84bd"/>
<path d="M277.7 312V321.9M276.2 312h3M276.2 321.9h3" stroke="#3a84bd" stroke-width="0.6" fill="none"/>
<circle cx="277.7" cy="317" r="1.9" fill="#3a84bd"/>
<path d="M304.4 292.8V295.2M302.9 292.8h3M302.9 295.2h3" stroke="#3a84bd" stroke-width="0.6" fill="none"/>
<circle cx="304.4" cy="294" r="1.9" fill="#3a84bd"/>
<path d="M331 290.3V295.2M329.5 290.3h3M329.5 295.2h3" stroke="#3a84bd" stroke-width="0.6" fill="none"/>
<circle cx="331" cy="292.8" r="1.9" fill="#3a84bd"/>
<path d="M250.9 359.8 L277.7 355.1 L304.4 355.2 L331 355.8" fill="none" stroke="#17509a" stroke-width="1.5" stroke-dasharray="4.2 2.4"/>
<path d="M250.9 358.8V360.8M249.4 358.8h3M249.4 360.8h3" stroke="#17509a" stroke-width="0.6" fill="none"/>
<circle cx="250.9" cy="359.8" r="1.9" fill="#17509a"/>
<path d="M277.7 353.2V356.9M276.2 353.2h3M276.2 356.9h3" stroke="#17509a" stroke-width="0.6" fill="none"/>
<circle cx="277.7" cy="355.1" r="1.9" fill="#17509a"/>
<path d="M304.4 353.3V357M302.9 353.3h3M302.9 357h3" stroke="#17509a" stroke-width="0.6" fill="none"/>
<circle cx="304.4" cy="355.2" r="1.9" fill="#17509a"/>
<path d="M331 354.3V357.3M329.5 354.3h3M329.5 357.3h3" stroke="#17509a" stroke-width="0.6" fill="none"/>
<circle cx="331" cy="355.8" r="1.9" fill="#17509a"/>
<circle cx="312.8" cy="244.4" r="2.9" fill="#dde7f3"/>
<text x="320.3" y="247.4">Sub-G1</text>
<circle cx="312.8" cy="253.4" r="2.9" fill="#a9c8de"/>
<text x="320.3" y="256.4">G0/1</text>
<circle cx="312.8" cy="262.5" r="2.9" fill="#6aaed6"/>
<text x="320.3" y="265.5">S</text>
<circle cx="312.8" cy="271.6" r="2.9" fill="#3a84bd"/>
<text x="320.3" y="274.6">G2</text>
<circle cx="312.8" cy="280.6" r="2.9" fill="#17509a"/>
<text x="320.3" y="283.6">mn</text>
<text x="450" y="266.5" text-anchor="middle">Accuracy on test data</text>
<text x="450" y="277.6" text-anchor="middle">(raw samples)</text>
<rect x="404" y="284.5" width="49.2" height="26.5" fill="#0c3f86"/>
<text x="428.5" y="300.5" text-anchor="middle" style="fill:#e8eef8;stroke:#e8eef8">94.39%</text>
<rect x="453" y="284.5" width="49" height="26.5" fill="#eef3fa"/>
<text x="477.4" y="300.5" text-anchor="middle" style="fill:#222;stroke:#222">5.61%</text>
<rect x="404" y="310.8" width="49.2" height="26.5" fill="#ebf2f9"/>
<text x="428.5" y="326.9" text-anchor="middle" style="fill:#222;stroke:#222">4.41%</text>
<rect x="453" y="310.8" width="49" height="26.5" fill="#0a397f"/>
<text x="477.4" y="326.9" text-anchor="middle" style="fill:#e8eef8;stroke:#e8eef8">95.59%</text>
<rect x="404" y="337.1" width="49.2" height="26.6" fill="#f4f8fc"/>
<text x="428.5" y="353.2" text-anchor="middle" style="fill:#222;stroke:#222">1.55%</text>
<rect x="453" y="337.1" width="49" height="26.6" fill="#08306b"/>
<text x="477.4" y="353.2" text-anchor="middle" style="fill:#e8eef8;stroke:#e8eef8">98.45%</text>
<line x1="400" y1="297.6" x2="403.4" y2="297.6" class="ax"/>
<text x="396.6" y="300.6" text-anchor="end">Control</text>
<line x1="400" y1="324" x2="403.4" y2="324" class="ax"/>
<text x="396.6" y="327" text-anchor="end">RS</text>
<line x1="400" y1="350.3" x2="403.4" y2="350.3" class="ax"/>
<text x="396.6" y="353.3" text-anchor="end">IR</text>
<line x1="428.5" y1="364" x2="428.5" y2="366.8" class="ax"/>
<text x="428.5" y="377.6" text-anchor="middle">No</text>
<line x1="477.4" y1="364" x2="477.4" y2="366.8" class="ax"/>
<text x="477.4" y="377.6" text-anchor="middle">Yes</text>
<path d="M560.5 277.9V371.1H659.7" class="ax"/>
<line x1="557" y1="366.6" x2="560.5" y2="366.6" class="ax"/>
<text x="555.6" y="369.7" text-anchor="end">0</text>
<line x1="564.1" y1="371.1" x2="564.1" y2="374.2" class="ax"/>
<text x="564.1" y="384.8" text-anchor="middle">0</text>
<line x1="557" y1="324.7" x2="560.5" y2="324.7" class="ax"/>
<text x="555.6" y="327.8" text-anchor="end">0.5</text>
<line x1="609.3" y1="371.1" x2="609.3" y2="374.2" class="ax"/>
<text x="609.3" y="384.8" text-anchor="middle">0.5</text>
<line x1="557" y1="282.8" x2="560.5" y2="282.8" class="ax"/>
<text x="555.6" y="285.9" text-anchor="end">1.0</text>
<line x1="654.5" y1="371.1" x2="654.5" y2="374.2" class="ax"/>
<text x="654.5" y="384.8" text-anchor="middle">1.0</text>
<line x1="558.3" y1="345.7" x2="560.5" y2="345.7" class="ax"/>
<line x1="558.3" y1="303.8" x2="560.5" y2="303.8" class="ax"/>
<path d="M564.1 366.6L654.5 282.8" stroke="#1c1a6a" stroke-width="1.7" stroke-dasharray="5.6 2.8" fill="none"/>
<path d="M564.1 366.6 C564.2 362.4 564.3 349.8 564.5 341.5 C564.6 333.1 564.7 323.3 564.8 316.3 C564.9 309.3 565 303.8 565.2 299.6 C565.3 295.4 565.5 293.2 565.7 291.2 C566 289.2 566.2 288.4 566.6 287.4 C567 286.5 567.5 286 568.2 285.5 C568.9 285 569.8 284.6 570.9 284.2 C572 283.9 573.1 283.6 574.9 283.4 C576.8 283.2 579.5 283.1 582.2 283 C584.9 282.9 579.2 282.8 591.2 282.8 C603.3 282.8 644 282.8 654.5 282.8" stroke="#f5a61d" stroke-width="1.7" fill="none" stroke-linecap="round" stroke-linejoin="round"/>
<path d="M564.1 366.6 C564.2 362.4 564.3 349.8 564.5 341.5 C564.6 333.1 564.7 323.3 564.8 316.3 C564.9 309.3 565 303.8 565.2 299.6 C565.3 295.4 565.5 293.2 565.7 291.2 C566 289.2 566.2 288.4 566.6 287.4 C567 286.5 567.5 286 568.2 285.5 C568.9 285 569.8 284.6 570.9 284.2 C572 283.9 573.1 283.6 574.9 283.4 C576.8 283.2 581 283 582.2 283" stroke="#f5a61d" stroke-width="4.2" fill="none" stroke-linecap="round" stroke-linejoin="round"/>
<circle cx="588.3" cy="282.8" r="1.9" fill="#f5a61d"/>
<circle cx="594.2" cy="282.8" r="1.9" fill="#f5a61d"/>
<circle cx="601" cy="282.8" r="1.9" fill="#f5a61d"/>
<circle cx="611.9" cy="282.8" r="1.9" fill="#f5a61d"/>
<circle cx="618.2" cy="282.8" r="1.9" fill="#f5a61d"/>
<circle cx="628" cy="282.8" r="1.9" fill="#f5a61d"/>
<circle cx="637.4" cy="282.8" r="1.9" fill="#f5a61d"/>
<circle cx="654.3" cy="282.8" r="1.9" fill="#f5a61d"/>
<text x="587" y="297.4">AUC = 0.99</text>
<line x1="608.4" y1="359" x2="626" y2="359" class="roc"/>
<rect x="615.6" y="357.3" width="3.4" height="3.4" fill="#f5a61d"/>
<text x="630.8" y="362">ROC</text>
<text x="609.6" y="397.6" text-anchor="middle">False positive</text>
<text x="532.3" y="324.7" text-anchor="middle" transform="rotate(-90 532.3 324.7)">True positive</text>
<path d="M35.4 446.3V518.3H117" class="ax"/>
<line x1="32.2" y1="518.3" x2="35.4" y2="518.3" class="ax"/>
<line x1="33.4" y1="504.1" x2="35.4" y2="504.1" class="ax"/>
<line x1="33.4" y1="489.9" x2="35.4" y2="489.9" class="ax"/>
<line x1="33.4" y1="475.7" x2="35.4" y2="475.7" class="ax"/>
<line x1="33.4" y1="461.5" x2="35.4" y2="461.5" class="ax"/>
<line x1="32.2" y1="447.3" x2="35.4" y2="447.3" class="ax"/>
<text x="28.4" y="450" text-anchor="end">100</text>
<text x="28.6" y="521.4" text-anchor="end">0</text>
<rect x="38" y="509.6" width="21.6" height="8.7" fill="#999"/>
<line x1="48.8" y1="518.3" x2="48.8" y2="521" class="ax"/>
<text x="48.8" y="532" text-anchor="middle">Control</text>
<rect x="65" y="453" width="21.8" height="65.3" fill="#6b80e8"/>
<line x1="75.9" y1="518.3" x2="75.9" y2="521" class="ax"/>
<text x="75.9" y="532" text-anchor="middle">RS</text>
<rect x="92" y="450.5" width="22" height="67.8" fill="#e01f26"/>
<line x1="103" y1="518.3" x2="103" y2="521" class="ax"/>
<text x="103" y="532" text-anchor="middle">IR</text>
<text x="8.2" y="482.5" text-anchor="middle" transform="rotate(-90 8.2 482.5)">Senescent (%)</text>
<path d="M180 432.5V518.3H314.5" class="ax"/>
<line x1="177" y1="518.3" x2="180" y2="518.3" class="ax"/>
<text x="172.6" y="521.4" text-anchor="end">0</text>
<line x1="177" y1="501.5" x2="180" y2="501.5" class="ax"/>
<text x="172.6" y="504.6" text-anchor="end">0.001</text>
<line x1="177" y1="484.7" x2="180" y2="484.7" class="ax"/>
<text x="172.6" y="487.8" text-anchor="end">0.002</text>
<line x1="177" y1="467.9" x2="180" y2="467.9" class="ax"/>
<text x="172.6" y="471" text-anchor="end">0.003</text>
<line x1="177" y1="451.1" x2="180" y2="451.1" class="ax"/>
<text x="172.6" y="454.2" text-anchor="end">0.004</text>
<line x1="177" y1="434.3" x2="180" y2="434.3" class="ax"/>
<text x="172.6" y="437.4" text-anchor="end">0.005</text>
<line x1="194.5" y1="518.3" x2="194.5" y2="521.3" class="ax"/>
<text x="194.5" y="531.8" text-anchor="middle">0</text>
<line x1="215.1" y1="518.3" x2="215.1" y2="521.3" class="ax"/>
<text x="215.1" y="531.8" text-anchor="middle">0.2</text>
<line x1="235.7" y1="518.3" x2="235.7" y2="521.3" class="ax"/>
<text x="235.7" y="531.8" text-anchor="middle">0.4</text>
<line x1="256.3" y1="518.3" x2="256.3" y2="521.3" class="ax"/>
<text x="256.3" y="531.8" text-anchor="middle">0.6</text>
<line x1="276.9" y1="518.3" x2="276.9" y2="521.3" class="ax"/>
<text x="276.9" y="531.8" text-anchor="middle">0.8</text>
<line x1="297.5" y1="518.3" x2="297.5" y2="521.3" class="ax"/>
<text x="297.5" y="531.8" text-anchor="middle">1.0</text>
<text x="246.6" y="545.1" text-anchor="middle">p(sen)</text>
<text x="143.2" y="475.3" text-anchor="middle" transform="rotate(-90 143.2 475.3)">Density</text>
<path d="M190.4 518.3 C190.9 517.7 192.4 518.9 193.5 514.9 C194.5 511 195.5 501.8 196.6 494.8 C197.6 487.8 198.6 477.6 199.7 472.9 C200.7 468.3 201.7 467.2 202.7 466.9 C203.8 466.6 204.6 469 205.8 471.3 C207 473.5 208.4 477.6 209.9 480.5 C211.5 483.4 213 485.9 215.1 488.4 C217.2 490.9 219.7 493.6 222.3 495.6 C224.9 497.7 227.5 499.3 230.6 500.7 C233.6 502 237.4 502.8 240.8 503.7 C244.3 504.5 247.7 504.9 251.2 505.7 C254.6 506.5 258 507.4 261.4 508.2 C264.9 509 268.7 509.9 271.8 510.6 C274.8 511.2 277.4 511.8 280 512.3 C282.6 512.7 285.1 512.8 287.2 513.3 C289.3 513.8 290.6 514.5 292.4 515.3 C294.1 516 296.1 517.3 297.5 517.8 C298.9 518.3 300.1 518.2 300.6 518.3" fill="none" stroke="#999999" stroke-width="1.3"/>
<path d="M191.4 518.3 C191.9 517.9 193.3 517.5 194.5 515.8 C195.7 514.1 197.2 509.9 198.6 508.2 C200 506.5 201.2 505.6 202.7 505.5 C204.3 505.4 205.8 506.8 207.9 507.5 C209.9 508.3 212.2 509.4 215.1 509.9 C218 510.4 222 510.7 225.4 510.7 C228.8 510.7 232.3 510.4 235.7 509.9 C239.1 509.4 242.6 508.7 246 507.9 C249.4 507.1 252.9 506.3 256.3 505.2 C259.7 504.1 263.5 502.8 266.6 501.2 C269.7 499.6 272.6 498.1 274.8 495.6 C277.1 493.2 278.4 491 280 486.4 C281.5 481.8 282.9 472.7 284.1 467.9 C285.3 463.1 286.2 457.8 287.2 457.8 C288.2 457.8 289.3 462 290.3 467.9 C291.3 473.8 292.4 485.8 293.4 493.1 C294.4 500.4 295.3 507.4 296.5 511.6 C297.7 515.8 299.9 517.2 300.6 518.3" fill="none" stroke="#5b80f0" stroke-width="1.3"/>
<path d="M192.4 518.3 C193.3 518.2 195.5 518 197.6 517.5 C199.7 517 201.9 515.8 204.8 515.3 C207.7 514.7 211.7 514.5 215.1 514.1 C218.5 513.7 222 513.3 225.4 512.9 C228.8 512.5 232.3 512.3 235.7 511.6 C239.1 510.9 242.6 509.8 246 508.7 C249.4 507.6 252.9 506.6 256.3 504.9 C259.7 503.2 263.5 500.7 266.6 498.5 C269.7 496.2 272.6 494 274.8 491.4 C277.1 488.8 278.4 488.1 280 483 C281.5 478 282.9 467.2 284.1 461.2 C285.3 455.2 286.2 446.9 287.2 446.9 C288.2 446.9 289.3 453.8 290.3 461.2 C291.3 468.6 292.4 483 293.4 491.4 C294.4 499.8 295.3 507.1 296.5 511.6 C297.7 516.1 299.9 517.2 300.6 518.3" fill="none" stroke="#7a3ce0" stroke-width="1.8"/>
<path d="M192.4 518.3 C193.3 518.1 195.5 517.9 197.6 517.3 C199.7 516.7 201.9 515.6 204.8 514.9 C207.7 514.3 211.7 514 215.1 513.6 C218.5 513.2 222 513 225.4 512.6 C228.8 512.2 232.3 512 235.7 511.2 C239.1 510.5 242.6 509.4 246 508.2 C249.4 507 252.9 505.8 256.3 504 C259.7 502.2 263.5 499.6 266.6 497.3 C269.7 495 272.6 492.7 274.8 490.1 C277.1 487.4 278.4 487 280 481.3 C281.5 475.7 282.9 463.6 284.1 456.1 C285.3 448.7 286.2 437.1 287.2 436.8 C288.2 436.5 289.3 445.6 290.3 454.5 C291.3 463.3 292.4 480.2 293.4 489.7 C294.4 499.3 295.3 506.8 296.5 511.6 C297.7 516.3 299.9 517.2 300.6 518.3" fill="none" stroke="#e0202a" stroke-width="1.6"/>
<path d="M197 427H208.8" stroke="#999999" stroke-width="1.3"/>
<text x="214.3" y="429.9">Control</text>
<path d="M197 436.7H208.8" stroke="#5b80f0" stroke-width="1.3"/>
<text x="214.3" y="439.6">5</text>
<path d="M197 446.3H208.8" stroke="#e0202a" stroke-width="1.3"/>
<text x="214.3" y="449.2">10</text>
<path d="M197 456.2H208.8" stroke="#7a3ce0" stroke-width="1.3"/>
<text x="214.3" y="459.1">20</text>
<path d="M373.9 431.3V518.4H487.9" class="ax"/>
<line x1="370.9" y1="518.4" x2="373.9" y2="518.4" class="ax"/>
<text x="368.2" y="521.5" text-anchor="end">0</text>
<line x1="370.9" y1="497.8" x2="373.9" y2="497.8" class="ax"/>
<text x="368.2" y="500.9" text-anchor="end">0.002</text>
<line x1="370.9" y1="477.3" x2="373.9" y2="477.3" class="ax"/>
<text x="368.2" y="480.4" text-anchor="end">0.004</text>
<line x1="370.9" y1="456.8" x2="373.9" y2="456.8" class="ax"/>
<text x="368.2" y="459.9" text-anchor="end">0.006</text>
<line x1="370.9" y1="436.2" x2="373.9" y2="436.2" class="ax"/>
<text x="368.2" y="439.3" text-anchor="end">0.008</text>
<line x1="373.9" y1="518.4" x2="373.9" y2="521.4" class="ax"/>
<text x="373.9" y="531.8" text-anchor="middle">0</text>
<line x1="402.4" y1="518.4" x2="402.4" y2="521.4" class="ax"/>
<text x="402.4" y="531.8" text-anchor="middle">200</text>
<line x1="430.9" y1="518.4" x2="430.9" y2="521.4" class="ax"/>
<text x="430.9" y="531.8" text-anchor="middle">400</text>
<line x1="459.4" y1="518.4" x2="459.4" y2="521.4" class="ax"/>
<text x="459.4" y="531.8" text-anchor="middle">600</text>
<line x1="487.9" y1="518.4" x2="487.9" y2="521.4" class="ax"/>
<text x="487.9" y="531.8" text-anchor="middle">800</text>
<text x="431.2" y="545.3" text-anchor="middle">p21 intensity (a.u.)</text>
<text x="337.4" y="474.7" text-anchor="middle" transform="rotate(-90 337.4 474.7)">Density</text>
<path d="M395.3 518.4 C396.5 518.3 400.5 518.7 402.4 517.9 C404.3 517 405.2 518.3 406.7 513.3 C408.1 508.2 409.6 497.5 410.9 487.6 C412.3 477.6 413.3 462.2 414.5 453.7 C415.7 445.1 416.9 437.1 418.1 436.2 C419.3 435.3 420.4 442 421.6 448.5 C422.8 455 424 467.4 425.2 475.2 C426.4 483.1 427.6 490.3 428.8 495.8 C429.9 501.3 431 505 432.3 508.1 C433.6 511.2 434.9 512.7 436.6 514.3 C438.3 515.8 440.2 516.7 442.3 517.4 C444.4 518.1 441.8 518.2 449.4 518.4 C457 518.6 481.5 518.4 487.9 518.4" fill="none" stroke="#999999" stroke-width="0.9"/>
<path d="M395.3 518.4 C396.5 518.2 400.5 518.4 402.4 517.4 C404.3 516.3 405.2 515 406.7 512.2 C408.1 509.5 409.5 505.6 410.9 500.9 C412.4 496.3 413.8 489.5 415.2 484.5 C416.6 479.5 417.9 474.4 419.2 471.1 C420.5 467.9 421.8 465.5 423.1 465 C424.3 464.5 425.3 466 426.6 468.1 C427.9 470.1 429.2 473.5 430.9 477.3 C432.6 481.1 434.7 486.5 436.6 490.7 C438.5 494.8 440.4 499 442.3 502 C444.2 505 446.1 506.8 448 508.6 C449.9 510.4 451.8 511.6 453.7 512.7 C455.6 513.9 457 514.6 459.4 515.3 C461.8 516.1 465.1 516.7 467.9 517.2 C470.8 517.6 473.2 517.9 476.5 518.1 C479.8 518.3 486 518.3 487.9 518.4" fill="none" stroke="#5b80f0" stroke-width="1.3"/>
<path d="M395.3 518.4 C396.5 518.2 400.5 518.4 402.4 517.4 C404.3 516.3 405.2 515 406.7 512.2 C408.1 509.5 409.5 504.7 410.9 500.9 C412.4 497.2 413.8 492.4 415.2 489.6 C416.6 486.9 418.1 486.2 419.5 484.5 C420.9 482.8 422.2 480.9 423.8 479.4 C425.3 477.8 427.1 475.1 428.8 475.2 C430.4 475.4 432 478.2 433.8 480.4 C435.5 482.6 437.6 486 439.4 488.6 C441.3 491.2 443 493.1 445.1 495.8 C447.3 498.5 449.9 502.5 452.3 505 C454.6 507.6 457 509.7 459.4 511.2 C461.8 512.7 464.1 513.4 466.5 514.3 C468.9 515.1 471 515.7 473.6 516.3 C476.3 516.9 479.8 517.5 482.2 517.9 C484.6 518.2 486.9 518.3 487.9 518.4" fill="none" stroke="#e0202a" stroke-width="1.5"/>
<path d="M395.3 518.4 C396.5 518.2 400.5 518.4 402.4 517.4 C404.3 516.3 405.2 515.1 406.7 512.2 C408.1 509.3 409.5 504.9 410.9 499.9 C412.4 494.9 413.9 487.6 415.2 482.4 C416.5 477.3 417.6 472.3 418.8 469.1 C420 465.8 421.2 463.3 422.3 462.9 C423.5 462.6 424.5 464.3 425.9 467 C427.3 469.8 429.1 475.1 430.9 479.4 C432.7 483.6 434.7 488.8 436.6 492.7 C438.5 496.7 440.4 500.2 442.3 503 C444.2 505.7 446.1 507.4 448 509.2 C449.9 510.9 451.8 512.1 453.7 513.3 C455.6 514.4 457 515.1 459.4 515.8 C461.8 516.5 465.1 517 467.9 517.4 C470.8 517.8 473.2 518 476.5 518.2 C479.8 518.4 486 518.4 487.9 518.4" fill="none" stroke="#7a3ce0" stroke-width="1.5"/>
<path d="M379.3 427.5H391.5" stroke="#999999" stroke-width="1.3"/>
<text x="395.4" y="430.4">Control</text>
<path d="M379.3 437.1H391.5" stroke="#5b80f0" stroke-width="1.3"/>
<text x="395.4" y="440">5</text>
<path d="M379.3 446.2H391.5" stroke="#e0202a" stroke-width="1.3"/>
<text x="395.4" y="449.1">10</text>
<path d="M379.3 455.7H391.5" stroke="#7a3ce0" stroke-width="1.3"/>
<text x="395.4" y="458.6">20</text>
<path d="M558.7 431.9V518.5H685" class="ax"/>
<line x1="555.7" y1="518.5" x2="558.7" y2="518.5" class="ax"/>
<text x="551.2" y="521.6" text-anchor="end">0</text>
<line x1="555.7" y1="495" x2="558.7" y2="495" class="ax"/>
<text x="551.2" y="498.1" text-anchor="end">0.0005</text>
<line x1="555.7" y1="471.4" x2="558.7" y2="471.4" class="ax"/>
<text x="551.2" y="474.5" text-anchor="end">0.0010</text>
<line x1="555.7" y1="447.9" x2="558.7" y2="447.9" class="ax"/>
<text x="551.2" y="451" text-anchor="end">0.0015</text>
<line x1="558.7" y1="518.5" x2="558.7" y2="521.5" class="ax"/>
<text x="561.3" y="528.6" text-anchor="end" transform="rotate(-45 561.3 528.6)">0</text>
<line x1="583.3" y1="518.5" x2="583.3" y2="521.5" class="ax"/>
<text x="585.9" y="528.6" text-anchor="end" transform="rotate(-45 585.9 528.6)">500</text>
<line x1="607.9" y1="518.5" x2="607.9" y2="521.5" class="ax"/>
<text x="610.5" y="528.6" text-anchor="end" transform="rotate(-45 610.5 528.6)">1,000</text>
<line x1="632.5" y1="518.5" x2="632.5" y2="521.5" class="ax"/>
<text x="635.1" y="528.6" text-anchor="end" transform="rotate(-45 635.1 528.6)">1,500</text>
<line x1="657.1" y1="518.5" x2="657.1" y2="521.5" class="ax"/>
<text x="659.7" y="528.6" text-anchor="end" transform="rotate(-45 659.7 528.6)">2,000</text>
<line x1="681.7" y1="518.5" x2="681.7" y2="521.5" class="ax"/>
<text x="684.3" y="528.6" text-anchor="end" transform="rotate(-45 684.3 528.6)">2,500</text>
<text x="620.2" y="557.3" text-anchor="middle">PCNA intensity (a.u.)</text>
<text x="516.6" y="475.6" text-anchor="middle" transform="rotate(-90 516.6 475.6)">Density</text>
<path d="M566.1 518.5 C566.3 518.5 567.1 518.4 567.5 518.4 C568 518.4 568.5 518.4 569 518.4 C569.5 518.4 570 518.4 570.5 518.4 C571 518.4 571.5 518.3 572 518.3 C572.4 518.3 572.9 518.3 573.4 518.2 C573.9 518.2 574.4 518.2 574.9 518.1 C575.4 518.1 575.9 518 576.4 518 C576.9 517.9 577.3 517.9 577.8 517.8 C578.3 517.7 578.8 517.6 579.3 517.5 C579.8 517.4 580.3 517.3 580.8 517.2 C581.3 517.1 581.8 517 582.2 516.8 C582.7 516.6 583.2 516.5 583.7 516.3 C584.2 516.1 584.7 515.8 585.2 515.6 C585.7 515.4 586.2 515.1 586.7 514.8 C587.1 514.5 587.6 514.2 588.1 513.8 C588.6 513.4 589.1 513 589.6 512.6 C590.1 512.1 590.6 511.7 591.1 511.2 C591.6 510.6 592 510.1 592.5 509.5 C593 508.9 593.5 508.2 594 507.6 C594.5 506.9 595 506.1 595.5 505.4 C596 504.6 596.5 503.8 596.9 502.9 C597.4 502 597.9 501.1 598.4 500.2 C598.9 499.2 599.4 498.2 599.9 497.2 C600.4 496.2 600.9 495.1 601.4 494 C601.8 492.9 602.3 491.8 602.8 490.7 C603.3 489.5 603.8 488.4 604.3 487.2 C604.8 486.1 605.3 484.9 605.8 483.7 C606.3 482.6 606.7 481.4 607.2 480.3 C607.7 479.1 608.2 478 608.7 476.9 C609.2 475.8 609.7 474.8 610.2 473.8 C610.7 472.7 611.2 471.8 611.6 470.9 C612.1 470 612.6 469.1 613.1 468.4 C613.6 467.6 614.1 466.9 614.6 466.3 C615.1 465.7 615.6 465.2 616.1 464.8 C616.5 464.4 617 464 617.5 463.8 C618 463.6 618.5 463.4 619 463.4 C619.5 463.3 620 463.4 620.5 463.5 C621 463.5 621.4 463.7 621.9 463.8 C622.4 464 622.9 464.2 623.4 464.4 C623.9 464.6 624.4 464.9 624.9 465.2 C625.4 465.6 625.9 465.9 626.3 466.3 C626.8 466.7 627.3 467.1 627.8 467.6 C628.3 468.1 628.8 468.6 629.3 469.1 C629.8 469.6 630.3 470.2 630.8 470.7 C631.2 471.3 631.7 471.9 632.2 472.5 C632.7 473.2 633.2 473.8 633.7 474.5 C634.2 475.1 634.7 475.8 635.2 476.5 C635.7 477.2 636.1 477.9 636.6 478.6 C637.1 479.3 637.6 480.1 638.1 480.8 C638.6 481.5 639.1 482.2 639.6 483 C640.1 483.7 640.6 484.4 641 485.1 C641.5 485.9 642 486.6 642.5 487.3 C643 488 643.5 488.7 644 489.4 C644.5 490.1 645 490.8 645.5 491.5 C645.9 492.2 646.4 492.8 646.9 493.5 C647.4 494.1 647.9 494.8 648.4 495.4 C648.9 496 649.4 496.6 649.9 497.2 C650.4 497.8 650.8 498.4 651.3 498.9 C651.8 499.5 652.3 500 652.8 500.6 C653.3 501.1 653.8 501.6 654.3 502.1 C654.8 502.6 655.3 503.1 655.7 503.5 C656.2 504 656.7 504.4 657.2 504.8 C657.7 505.3 658.2 505.7 658.7 506.1 C659.2 506.5 659.7 506.9 660.2 507.2 C660.6 507.6 661.1 508 661.6 508.3 C662.1 508.6 662.6 509 663.1 509.3 C663.6 509.6 664.1 509.9 664.6 510.2 C665.1 510.4 665.5 510.7 666 511 C666.5 511.2 667 511.5 667.5 511.7 C668 511.9 668.5 512.2 669 512.4 C669.5 512.6 670 512.8 670.4 513 C670.9 513.2 671.4 513.4 671.9 513.5 C672.4 513.7 672.9 513.9 673.4 514 C673.9 514.2 674.4 514.3 674.9 514.5 C675.3 514.6 675.8 514.8 676.3 514.9 C676.8 515 677.3 515.1 677.8 515.3 C678.3 515.4 678.8 515.5 679.3 515.6 C679.8 515.7 680.2 515.8 680.7 515.9 C681.2 516 681.7 516.1 682.2 516.2 C682.7 516.3 683.2 516.3 683.7 516.4 C684.2 516.5 684.9 516.6 685.1 516.7" fill="none" stroke="#999999" stroke-width="1.5"/>
<path d="M566.1 518.5 C566.3 518.5 567.1 518.5 567.5 518.5 C568 518.5 568.5 518.5 569 518.5 C569.5 518.4 570 518.4 570.5 518.4 C571 518.4 571.5 518.4 572 518.4 C572.4 518.3 572.9 518.3 573.4 518.3 C573.9 518.3 574.4 518.2 574.9 518.2 C575.4 518.1 575.9 518.1 576.4 518 C576.9 517.9 577.3 517.8 577.8 517.7 C578.3 517.6 578.8 517.5 579.3 517.3 C579.8 517.2 580.3 517 580.8 516.8 C581.3 516.6 581.8 516.3 582.2 516 C582.7 515.7 583.2 515.4 583.7 515 C584.2 514.6 584.7 514.2 585.2 513.7 C585.7 513.2 586.2 512.7 586.7 512 C587.1 511.4 587.6 510.7 588.1 509.9 C588.6 509.1 589.1 508.3 589.6 507.3 C590.1 506.4 590.6 505.4 591.1 504.2 C591.6 503.1 592 501.9 592.5 500.7 C593 499.4 593.5 498 594 496.6 C594.5 495.2 595 493.7 595.5 492.1 C596 490.6 596.5 489 596.9 487.3 C597.4 485.7 597.9 484 598.4 482.4 C598.9 480.8 599.4 479.1 599.9 477.5 C600.4 475.9 600.9 474.3 601.4 472.8 C601.8 471.3 602.3 469.8 602.8 468.5 C603.3 467.2 603.8 465.9 604.3 464.8 C604.8 463.8 605.3 462.8 605.8 462 C606.3 461.2 606.7 460.6 607.2 460.2 C607.7 459.7 608.2 459.5 608.7 459.4 C609.2 459.3 609.7 459.4 610.2 459.5 C610.7 459.6 611.2 459.8 611.6 460.1 C612.1 460.4 612.6 460.7 613.1 461.1 C613.6 461.5 614.1 462 614.6 462.5 C615.1 463.1 615.6 463.7 616.1 464.3 C616.5 465 617 465.7 617.5 466.4 C618 467.2 618.5 468 619 468.8 C619.5 469.7 620 470.5 620.5 471.4 C621 472.3 621.4 473.3 621.9 474.2 C622.4 475.1 622.9 476.1 623.4 477 C623.9 478 624.4 478.9 624.9 479.9 C625.4 480.8 625.9 481.8 626.3 482.7 C626.8 483.7 627.3 484.6 627.8 485.5 C628.3 486.4 628.8 487.3 629.3 488.2 C629.8 489.1 630.3 489.9 630.8 490.7 C631.2 491.5 631.7 492.3 632.2 493.1 C632.7 493.8 633.2 494.6 633.7 495.3 C634.2 496 634.7 496.6 635.2 497.2 C635.7 497.9 636.1 498.5 636.6 499 C637.1 499.6 637.6 500.1 638.1 500.6 C638.6 501.1 639.1 501.6 639.6 502.1 C640.1 502.5 640.6 502.9 641 503.3 C641.5 503.7 642 504.1 642.5 504.5 C643 504.8 643.5 505.1 644 505.5 C644.5 505.8 645 506.1 645.5 506.4 C645.9 506.7 646.4 506.9 646.9 507.2 C647.4 507.5 647.9 507.7 648.4 507.9 C648.9 508.2 649.4 508.4 649.9 508.6 C650.4 508.8 650.8 509 651.3 509.2 C651.8 509.4 652.3 509.5 652.8 509.7 C653.3 509.9 653.8 510 654.3 510.2 C654.8 510.3 655.3 510.4 655.7 510.6 C656.2 510.7 656.7 510.9 657.2 511 C657.7 511.1 658.2 511.2 658.7 511.4 C659.2 511.5 659.7 511.6 660.2 511.7 C660.6 511.9 661.1 512 661.6 512.1 C662.1 512.2 662.6 512.3 663.1 512.4 C663.6 512.6 664.1 512.7 664.6 512.8 C665.1 512.9 665.5 513 666 513.1 C666.5 513.2 667 513.3 667.5 513.5 C668 513.6 668.5 513.7 669 513.8 C669.5 513.9 670 514 670.4 514.1 C670.9 514.2 671.4 514.3 671.9 514.4 C672.4 514.5 672.9 514.6 673.4 514.7 C673.9 514.8 674.4 514.9 674.9 515 C675.3 515.1 675.8 515.2 676.3 515.3 C676.8 515.4 677.3 515.5 677.8 515.6 C678.3 515.7 678.8 515.8 679.3 515.8 C679.8 515.9 680.2 516 680.7 516.1 C681.2 516.2 681.7 516.3 682.2 516.3 C682.7 516.4 683.2 516.5 683.7 516.6 C684.2 516.6 684.9 516.7 685.1 516.8" fill="none" stroke="#5b80f0" stroke-width="1.4"/>
<path d="M566.1 518.5 C566.3 518.5 567.1 518.5 567.5 518.5 C568 518.5 568.5 518.5 569 518.5 C569.5 518.5 570 518.5 570.5 518.5 C571 518.5 571.5 518.5 572 518.5 C572.4 518.4 572.9 518.4 573.4 518.4 C573.9 518.4 574.4 518.4 574.9 518.4 C575.4 518.4 575.9 518.3 576.4 518.3 C576.9 518.3 577.3 518.2 577.8 518.2 C578.3 518.1 578.8 518.1 579.3 518 C579.8 517.9 580.3 517.9 580.8 517.8 C581.3 517.7 581.8 517.6 582.2 517.4 C582.7 517.3 583.2 517.1 583.7 516.9 C584.2 516.7 584.7 516.5 585.2 516.2 C585.7 516 586.2 515.7 586.7 515.3 C587.1 515 587.6 514.6 588.1 514.1 C588.6 513.7 589.1 513.1 589.6 512.6 C590.1 512 590.6 511.3 591.1 510.6 C591.6 509.8 592 509 592.5 508.1 C593 507.2 593.5 506.2 594 505.2 C594.5 504.1 595 502.9 595.5 501.6 C596 500.4 596.5 499 596.9 497.5 C597.4 496.1 597.9 494.5 598.4 492.9 C598.9 491.3 599.4 489.6 599.9 487.8 C600.4 486.1 600.9 484.2 601.4 482.4 C601.8 480.5 602.3 478.6 602.8 476.7 C603.3 474.7 603.8 472.8 604.3 470.9 C604.8 469 605.3 467.1 605.8 465.3 C606.3 463.5 606.7 461.7 607.2 460.1 C607.7 458.4 608.2 456.9 608.7 455.5 C609.2 454.1 609.7 452.8 610.2 451.7 C610.7 450.6 611.2 449.6 611.6 448.9 C612.1 448.2 612.6 447.6 613.1 447.3 C613.6 446.9 614.1 446.8 614.6 446.9 C615.1 446.9 615.6 447.1 616.1 447.4 C616.5 447.6 617 448.1 617.5 448.6 C618 449.1 618.5 449.8 619 450.5 C619.5 451.3 620 452.1 620.5 453.1 C621 454 621.4 455.1 621.9 456.2 C622.4 457.3 622.9 458.5 623.4 459.7 C623.9 461 624.4 462.3 624.9 463.6 C625.4 465 625.9 466.4 626.3 467.8 C626.8 469.2 627.3 470.7 627.8 472.1 C628.3 473.6 628.8 475 629.3 476.5 C629.8 477.9 630.3 479.3 630.8 480.7 C631.2 482.1 631.7 483.5 632.2 484.9 C632.7 486.2 633.2 487.6 633.7 488.8 C634.2 490.1 634.7 491.3 635.2 492.5 C635.7 493.7 636.1 494.8 636.6 495.9 C637.1 496.9 637.6 498 638.1 498.9 C638.6 499.9 639.1 500.8 639.6 501.6 C640.1 502.5 640.6 503.3 641 504 C641.5 504.8 642 505.5 642.5 506.1 C643 506.7 643.5 507.3 644 507.9 C644.5 508.4 645 508.9 645.5 509.4 C645.9 509.8 646.4 510.2 646.9 510.6 C647.4 511 647.9 511.3 648.4 511.7 C648.9 512 649.4 512.3 649.9 512.5 C650.4 512.8 650.8 513 651.3 513.2 C651.8 513.4 652.3 513.6 652.8 513.8 C653.3 514 653.8 514.1 654.3 514.3 C654.8 514.4 655.3 514.6 655.7 514.7 C656.2 514.8 656.7 514.9 657.2 515 C657.7 515.1 658.2 515.2 658.7 515.3 C659.2 515.3 659.7 515.4 660.2 515.5 C660.6 515.6 661.1 515.6 661.6 515.7 C662.1 515.8 662.6 515.8 663.1 515.9 C663.6 515.9 664.1 516 664.6 516 C665.1 516.1 665.5 516.1 666 516.2 C666.5 516.2 667 516.3 667.5 516.3 C668 516.4 668.5 516.4 669 516.5 C669.5 516.5 670 516.6 670.4 516.6 C670.9 516.7 671.4 516.7 671.9 516.8 C672.4 516.8 672.9 516.9 673.4 516.9 C673.9 517 674.4 517 674.9 517 C675.3 517.1 675.8 517.1 676.3 517.2 C676.8 517.2 677.3 517.2 677.8 517.3 C678.3 517.3 678.8 517.4 679.3 517.4 C679.8 517.4 680.2 517.5 680.7 517.5 C681.2 517.5 681.7 517.6 682.2 517.6 C682.7 517.7 683.2 517.7 683.7 517.7 C684.2 517.7 684.9 517.8 685.1 517.8" fill="none" stroke="#e0202a" stroke-width="1.7"/>
<path d="M566.1 518.5 C566.3 518.5 567.1 518.5 567.5 518.5 C568 518.5 568.5 518.5 569 518.5 C569.5 518.5 570 518.5 570.5 518.5 C571 518.5 571.5 518.5 572 518.5 C572.4 518.5 572.9 518.4 573.4 518.4 C573.9 518.4 574.4 518.4 574.9 518.4 C575.4 518.4 575.9 518.3 576.4 518.3 C576.9 518.3 577.3 518.2 577.8 518.2 C578.3 518.1 578.8 518 579.3 517.9 C579.8 517.8 580.3 517.7 580.8 517.6 C581.3 517.5 581.8 517.3 582.2 517.1 C582.7 516.9 583.2 516.7 583.7 516.4 C584.2 516.1 584.7 515.8 585.2 515.4 C585.7 515 586.2 514.5 586.7 514 C587.1 513.4 587.6 512.8 588.1 512.1 C588.6 511.4 589.1 510.5 589.6 509.6 C590.1 508.7 590.6 507.6 591.1 506.4 C591.6 505.3 592 504 592.5 502.5 C593 501.1 593.5 499.5 594 497.8 C594.5 496.1 595 494.2 595.5 492.2 C596 490.3 596.5 488.2 596.9 486 C597.4 483.8 597.9 481.4 598.4 479.1 C598.9 476.7 599.4 474.2 599.9 471.7 C600.4 469.3 600.9 466.7 601.4 464.3 C601.8 461.8 602.3 459.4 602.8 457 C603.3 454.7 603.8 452.4 604.3 450.4 C604.8 448.3 605.3 446.3 605.8 444.6 C606.3 442.9 606.7 441.4 607.2 440.2 C607.7 438.9 608.2 437.9 608.7 437.3 C609.2 436.6 609.7 436.2 610.2 436.1 C610.7 436 611.2 436.2 611.6 436.5 C612.1 436.8 612.6 437.3 613.1 437.9 C613.6 438.5 614.1 439.3 614.6 440.3 C615.1 441.2 615.6 442.3 616.1 443.5 C616.5 444.7 617 446.1 617.5 447.6 C618 449 618.5 450.6 619 452.2 C619.5 453.8 620 455.6 620.5 457.3 C621 459.1 621.4 460.9 621.9 462.7 C622.4 464.6 622.9 466.4 623.4 468.3 C623.9 470.1 624.4 472 624.9 473.8 C625.4 475.7 625.9 477.5 626.3 479.3 C626.8 481 627.3 482.7 627.8 484.4 C628.3 486.1 628.8 487.7 629.3 489.2 C629.8 490.7 630.3 492.2 630.8 493.6 C631.2 495 631.7 496.3 632.2 497.6 C632.7 498.8 633.2 500 633.7 501 C634.2 502.1 634.7 503.1 635.2 504.1 C635.7 505 636.1 505.8 636.6 506.6 C637.1 507.4 637.6 508.1 638.1 508.7 C638.6 509.4 639.1 510 639.6 510.5 C640.1 511 640.6 511.5 641 511.9 C641.5 512.3 642 512.7 642.5 513 C643 513.4 643.5 513.7 644 513.9 C644.5 514.2 645 514.4 645.5 514.6 C645.9 514.8 646.4 515 646.9 515.1 C647.4 515.3 647.9 515.4 648.4 515.5 C648.9 515.6 649.4 515.7 649.9 515.8 C650.4 515.9 650.8 516 651.3 516 C651.8 516.1 652.3 516.2 652.8 516.2 C653.3 516.3 653.8 516.3 654.3 516.3 C654.8 516.4 655.3 516.4 655.7 516.5 C656.2 516.5 656.7 516.5 657.2 516.5 C657.7 516.6 658.2 516.6 658.7 516.6 C659.2 516.7 659.7 516.7 660.2 516.7 C660.6 516.7 661.1 516.8 661.6 516.8 C662.1 516.8 662.6 516.8 663.1 516.9 C663.6 516.9 664.1 516.9 664.6 516.9 C665.1 517 665.5 517 666 517 C666.5 517 667 517.1 667.5 517.1 C668 517.1 668.5 517.2 669 517.2 C669.5 517.2 670 517.2 670.4 517.3 C670.9 517.3 671.4 517.3 671.9 517.4 C672.4 517.4 672.9 517.4 673.4 517.4 C673.9 517.5 674.4 517.5 674.9 517.5 C675.3 517.6 675.8 517.6 676.3 517.6 C676.8 517.6 677.3 517.7 677.8 517.7 C678.3 517.7 678.8 517.7 679.3 517.8 C679.8 517.8 680.2 517.8 680.7 517.8 C681.2 517.9 681.7 517.9 682.2 517.9 C682.7 517.9 683.2 518 683.7 518 C684.2 518 684.9 518 685.1 518" fill="none" stroke="#7a3ce0" stroke-width="1.7"/>
<path d="M560.4 426.6H574.2" stroke="#999999" stroke-width="1.3"/>
<text x="578.4" y="429.5">Control</text>
<path d="M560.4 436.3H574.2" stroke="#5b80f0" stroke-width="1.3"/>
<text x="578.4" y="439.2">5</text>
<path d="M560.4 446H574.2" stroke="#e0202a" stroke-width="1.3"/>
<text x="578.4" y="448.9">10</text>
<path d="M560.4 456.2H574.2" stroke="#7a3ce0" stroke-width="1.3"/>
<text x="578.4" y="459.1">20</text>
</svg>
</body></html>
